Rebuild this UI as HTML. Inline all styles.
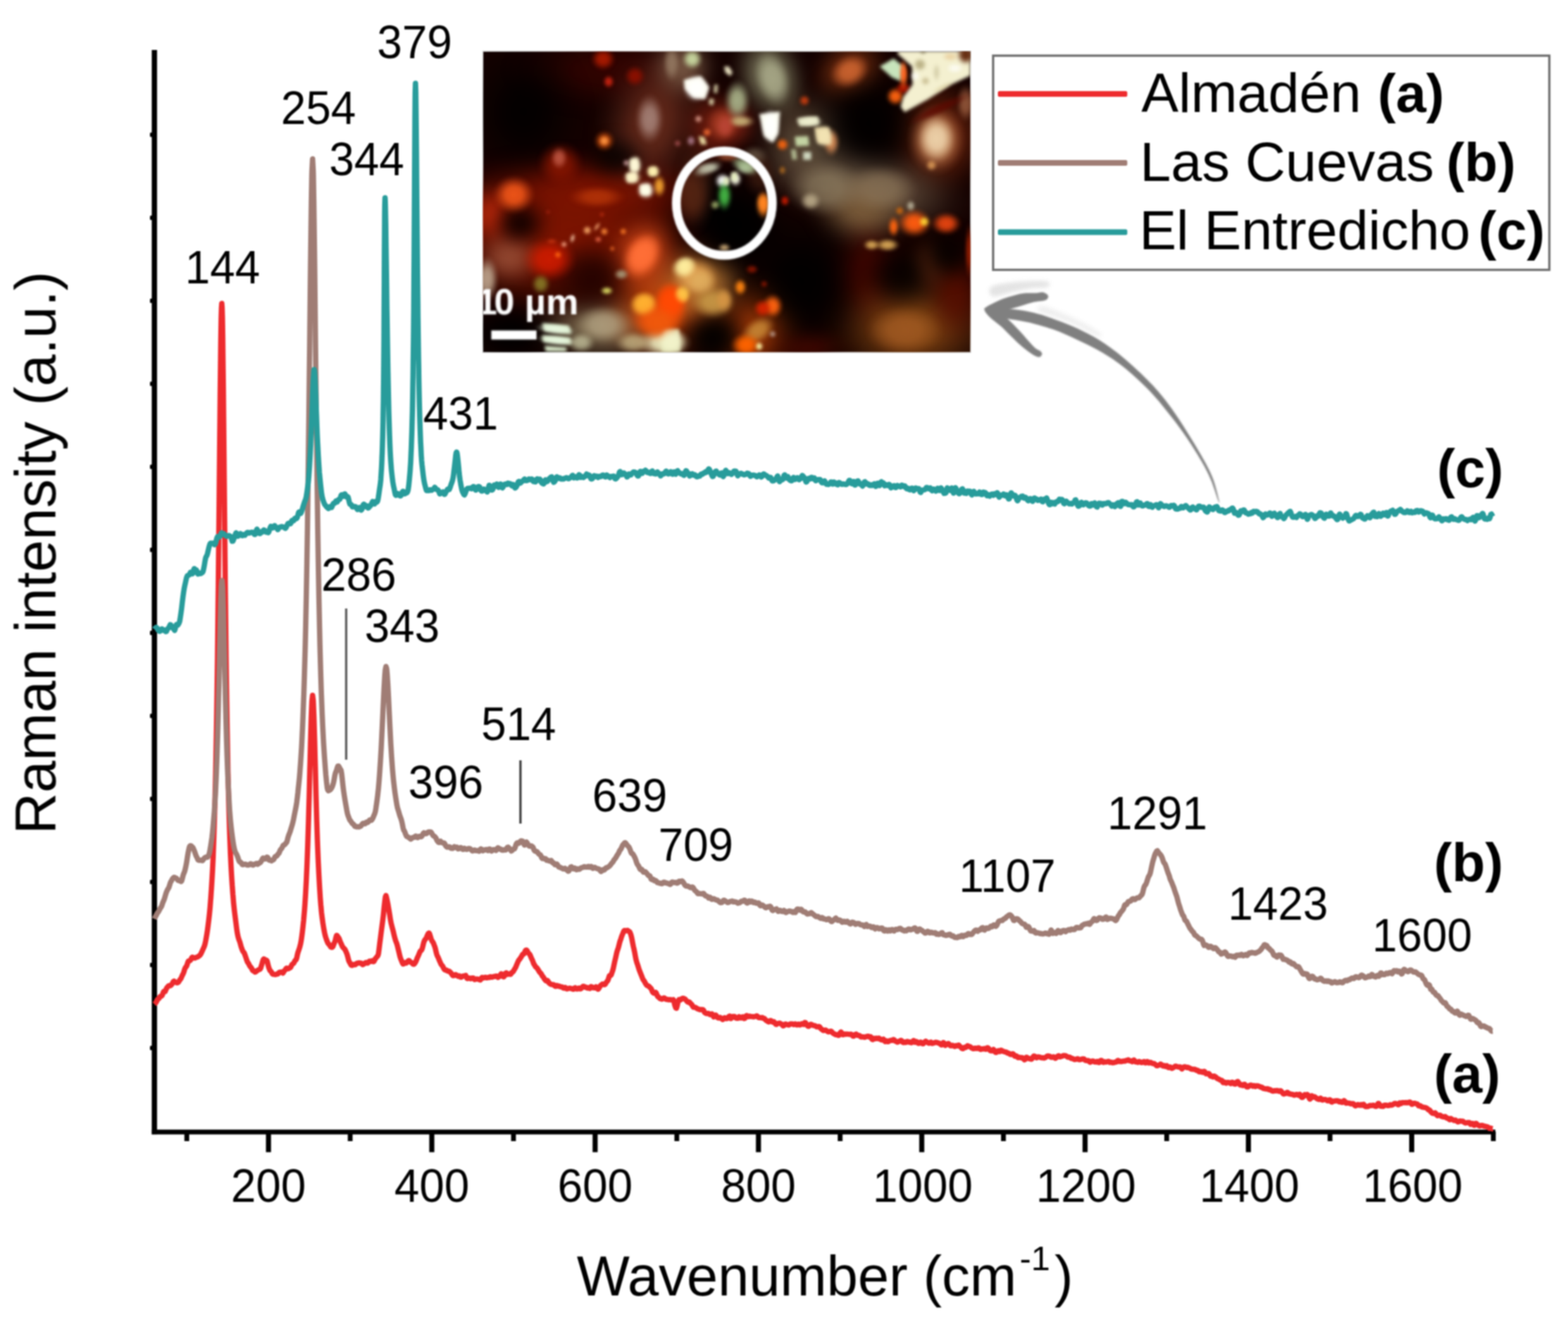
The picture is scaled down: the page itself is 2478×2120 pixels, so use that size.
<!DOCTYPE html>
<html lang="en"><head><meta charset="utf-8"><title>Raman spectra</title>
<style>
html,body{margin:0;padding:0;background:#fff;}
body{width:2478px;height:2120px;overflow:hidden;}
svg{display:block;font-family:"Liberation Sans",Arial,Helvetica,sans-serif;}
</style></head><body>
<svg width="2478" height="2120" viewBox="0 0 2478 2120">
<defs>
<filter color-interpolation-filters="sRGB" id="soft" x="-2%" y="-2%" width="104%" height="104%"><feGaussianBlur stdDeviation="1.1"/></filter>
<clipPath id="iclip"><rect x="0" y="0" width="769.2" height="474.6"/></clipPath>
<filter color-interpolation-filters="sRGB" id="ib0" x="-5%" y="-5%" width="110%" height="110%"><feGaussianBlur stdDeviation="1.3"/></filter>
<filter color-interpolation-filters="sRGB" id="ib1" x="-5%" y="-5%" width="110%" height="110%"><feGaussianBlur stdDeviation="2.4"/></filter>
<filter color-interpolation-filters="sRGB" id="ib2" x="-5%" y="-5%" width="110%" height="110%"><feGaussianBlur stdDeviation="2.3"/></filter>
<filter color-interpolation-filters="sRGB" id="ib3" x="-5%" y="-5%" width="110%" height="110%"><feGaussianBlur stdDeviation="9"/></filter>
<radialGradient id="g0"><stop offset="0" stop-color="#3c0500"/><stop offset="0.3" stop-color="#3c0500" stop-opacity="0.85"/><stop offset="0.55" stop-color="#3c0500" stop-opacity="0.45"/><stop offset="0.8" stop-color="#3c0500" stop-opacity="0.12"/><stop offset="1" stop-color="#3c0500" stop-opacity="0"/></radialGradient>
<radialGradient id="g1"><stop offset="0" stop-color="#7a1200"/><stop offset="0.3" stop-color="#7a1200" stop-opacity="0.85"/><stop offset="0.55" stop-color="#7a1200" stop-opacity="0.45"/><stop offset="0.8" stop-color="#7a1200" stop-opacity="0.12"/><stop offset="1" stop-color="#7a1200" stop-opacity="0"/></radialGradient>
<radialGradient id="g2"><stop offset="0" stop-color="#6a2c1c"/><stop offset="0.3" stop-color="#6a2c1c" stop-opacity="0.85"/><stop offset="0.55" stop-color="#6a2c1c" stop-opacity="0.45"/><stop offset="0.8" stop-color="#6a2c1c" stop-opacity="0.12"/><stop offset="1" stop-color="#6a2c1c" stop-opacity="0"/></radialGradient>
<radialGradient id="g3"><stop offset="0" stop-color="#80604a"/><stop offset="0.3" stop-color="#80604a" stop-opacity="0.85"/><stop offset="0.55" stop-color="#80604a" stop-opacity="0.45"/><stop offset="0.8" stop-color="#80604a" stop-opacity="0.12"/><stop offset="1" stop-color="#80604a" stop-opacity="0"/></radialGradient>
<radialGradient id="g4"><stop offset="0" stop-color="#7a2010"/><stop offset="0.3" stop-color="#7a2010" stop-opacity="0.85"/><stop offset="0.55" stop-color="#7a2010" stop-opacity="0.45"/><stop offset="0.8" stop-color="#7a2010" stop-opacity="0.12"/><stop offset="1" stop-color="#7a2010" stop-opacity="0"/></radialGradient>
<radialGradient id="g5"><stop offset="0" stop-color="#8c8c6c"/><stop offset="0.3" stop-color="#8c8c6c" stop-opacity="0.85"/><stop offset="0.55" stop-color="#8c8c6c" stop-opacity="0.45"/><stop offset="0.8" stop-color="#8c8c6c" stop-opacity="0.12"/><stop offset="1" stop-color="#8c8c6c" stop-opacity="0"/></radialGradient>
<radialGradient id="g6"><stop offset="0" stop-color="#8a3814"/><stop offset="0.3" stop-color="#8a3814" stop-opacity="0.85"/><stop offset="0.55" stop-color="#8a3814" stop-opacity="0.45"/><stop offset="0.8" stop-color="#8a3814" stop-opacity="0.12"/><stop offset="1" stop-color="#8a3814" stop-opacity="0"/></radialGradient>
<radialGradient id="g7"><stop offset="0" stop-color="#7a2a10"/><stop offset="0.3" stop-color="#7a2a10" stop-opacity="0.85"/><stop offset="0.55" stop-color="#7a2a10" stop-opacity="0.45"/><stop offset="0.8" stop-color="#7a2a10" stop-opacity="0.12"/><stop offset="1" stop-color="#7a2a10" stop-opacity="0"/></radialGradient>
<radialGradient id="g8"><stop offset="0" stop-color="#7a6650"/><stop offset="0.3" stop-color="#7a6650" stop-opacity="0.85"/><stop offset="0.55" stop-color="#7a6650" stop-opacity="0.45"/><stop offset="0.8" stop-color="#7a6650" stop-opacity="0.12"/><stop offset="1" stop-color="#7a6650" stop-opacity="0"/></radialGradient>
<radialGradient id="g9"><stop offset="0" stop-color="#6a5a44"/><stop offset="0.3" stop-color="#6a5a44" stop-opacity="0.85"/><stop offset="0.55" stop-color="#6a5a44" stop-opacity="0.45"/><stop offset="0.8" stop-color="#6a5a44" stop-opacity="0.12"/><stop offset="1" stop-color="#6a5a44" stop-opacity="0"/></radialGradient>
<radialGradient id="g10"><stop offset="0" stop-color="#8a2818"/><stop offset="0.3" stop-color="#8a2818" stop-opacity="0.85"/><stop offset="0.55" stop-color="#8a2818" stop-opacity="0.45"/><stop offset="0.8" stop-color="#8a2818" stop-opacity="0.12"/><stop offset="1" stop-color="#8a2818" stop-opacity="0"/></radialGradient>
<radialGradient id="g11"><stop offset="0" stop-color="#861600"/><stop offset="0.3" stop-color="#861600" stop-opacity="0.85"/><stop offset="0.55" stop-color="#861600" stop-opacity="0.45"/><stop offset="0.8" stop-color="#861600" stop-opacity="0.12"/><stop offset="1" stop-color="#861600" stop-opacity="0"/></radialGradient>
<radialGradient id="g12"><stop offset="0" stop-color="#c02a0c"/><stop offset="0.3" stop-color="#c02a0c" stop-opacity="0.85"/><stop offset="0.55" stop-color="#c02a0c" stop-opacity="0.45"/><stop offset="0.8" stop-color="#c02a0c" stop-opacity="0.12"/><stop offset="1" stop-color="#c02a0c" stop-opacity="0"/></radialGradient>
<radialGradient id="g13"><stop offset="0" stop-color="#9a5038"/><stop offset="0.3" stop-color="#9a5038" stop-opacity="0.85"/><stop offset="0.55" stop-color="#9a5038" stop-opacity="0.45"/><stop offset="0.8" stop-color="#9a5038" stop-opacity="0.12"/><stop offset="1" stop-color="#9a5038" stop-opacity="0"/></radialGradient>
<radialGradient id="g14"><stop offset="0" stop-color="#8a7858"/><stop offset="0.3" stop-color="#8a7858" stop-opacity="0.85"/><stop offset="0.55" stop-color="#8a7858" stop-opacity="0.45"/><stop offset="0.8" stop-color="#8a7858" stop-opacity="0.12"/><stop offset="1" stop-color="#8a7858" stop-opacity="0"/></radialGradient>
<radialGradient id="g15"><stop offset="0" stop-color="#d04a0c"/><stop offset="0.3" stop-color="#d04a0c" stop-opacity="0.85"/><stop offset="0.55" stop-color="#d04a0c" stop-opacity="0.45"/><stop offset="0.8" stop-color="#d04a0c" stop-opacity="0.12"/><stop offset="1" stop-color="#d04a0c" stop-opacity="0"/></radialGradient>
<radialGradient id="g16"><stop offset="0" stop-color="#c08038"/><stop offset="0.3" stop-color="#c08038" stop-opacity="0.85"/><stop offset="0.55" stop-color="#c08038" stop-opacity="0.45"/><stop offset="0.8" stop-color="#c08038" stop-opacity="0.12"/><stop offset="1" stop-color="#c08038" stop-opacity="0"/></radialGradient>
<radialGradient id="g17"><stop offset="0" stop-color="#e0501c"/><stop offset="0.3" stop-color="#e0501c" stop-opacity="0.85"/><stop offset="0.55" stop-color="#e0501c" stop-opacity="0.45"/><stop offset="0.8" stop-color="#e0501c" stop-opacity="0.12"/><stop offset="1" stop-color="#e0501c" stop-opacity="0"/></radialGradient>
<radialGradient id="g18"><stop offset="0" stop-color="#80603c"/><stop offset="0.3" stop-color="#80603c" stop-opacity="0.85"/><stop offset="0.55" stop-color="#80603c" stop-opacity="0.45"/><stop offset="0.8" stop-color="#80603c" stop-opacity="0.12"/><stop offset="1" stop-color="#80603c" stop-opacity="0"/></radialGradient>
<radialGradient id="g19"><stop offset="0" stop-color="#520800"/><stop offset="0.3" stop-color="#520800" stop-opacity="0.85"/><stop offset="0.55" stop-color="#520800" stop-opacity="0.45"/><stop offset="0.8" stop-color="#520800" stop-opacity="0.12"/><stop offset="1" stop-color="#520800" stop-opacity="0"/></radialGradient>
<radialGradient id="g20"><stop offset="0" stop-color="#8a4a14"/><stop offset="0.3" stop-color="#8a4a14" stop-opacity="0.85"/><stop offset="0.55" stop-color="#8a4a14" stop-opacity="0.45"/><stop offset="0.8" stop-color="#8a4a14" stop-opacity="0.12"/><stop offset="1" stop-color="#8a4a14" stop-opacity="0"/></radialGradient>
<radialGradient id="g21"><stop offset="0" stop-color="#5a0e00"/><stop offset="0.3" stop-color="#5a0e00" stop-opacity="0.85"/><stop offset="0.55" stop-color="#5a0e00" stop-opacity="0.45"/><stop offset="0.8" stop-color="#5a0e00" stop-opacity="0.12"/><stop offset="1" stop-color="#5a0e00" stop-opacity="0"/></radialGradient>
<radialGradient id="g22"><stop offset="0" stop-color="#6a2c10"/><stop offset="0.3" stop-color="#6a2c10" stop-opacity="0.85"/><stop offset="0.55" stop-color="#6a2c10" stop-opacity="0.45"/><stop offset="0.8" stop-color="#6a2c10" stop-opacity="0.12"/><stop offset="1" stop-color="#6a2c10" stop-opacity="0"/></radialGradient>
<radialGradient id="g23"><stop offset="0" stop-color="#c04408"/><stop offset="0.3" stop-color="#c04408" stop-opacity="0.85"/><stop offset="0.55" stop-color="#c04408" stop-opacity="0.45"/><stop offset="0.8" stop-color="#c04408" stop-opacity="0.12"/><stop offset="1" stop-color="#c04408" stop-opacity="0"/></radialGradient>
<radialGradient id="g24"><stop offset="0" stop-color="#5a0c00"/><stop offset="0.3" stop-color="#5a0c00" stop-opacity="0.85"/><stop offset="0.55" stop-color="#5a0c00" stop-opacity="0.45"/><stop offset="0.8" stop-color="#5a0c00" stop-opacity="0.12"/><stop offset="1" stop-color="#5a0c00" stop-opacity="0"/></radialGradient>
<radialGradient id="g25"><stop offset="0" stop-color="#000000"/><stop offset="0.3" stop-color="#000000" stop-opacity="0.85"/><stop offset="0.55" stop-color="#000000" stop-opacity="0.45"/><stop offset="0.8" stop-color="#000000" stop-opacity="0.12"/><stop offset="1" stop-color="#000000" stop-opacity="0"/></radialGradient>
<radialGradient id="g26"><stop offset="0" stop-color="#0c0000"/><stop offset="0.3" stop-color="#0c0000" stop-opacity="0.85"/><stop offset="0.55" stop-color="#0c0000" stop-opacity="0.45"/><stop offset="0.8" stop-color="#0c0000" stop-opacity="0.12"/><stop offset="1" stop-color="#0c0000" stop-opacity="0"/></radialGradient>
<radialGradient id="g27"><stop offset="0" stop-color="#1c0200"/><stop offset="0.3" stop-color="#1c0200" stop-opacity="0.85"/><stop offset="0.55" stop-color="#1c0200" stop-opacity="0.45"/><stop offset="0.8" stop-color="#1c0200" stop-opacity="0.12"/><stop offset="1" stop-color="#1c0200" stop-opacity="0"/></radialGradient>
<radialGradient id="h28"><stop offset="0" stop-color="#a81a00"/><stop offset="0.38" stop-color="#a81a00" stop-opacity="0.9"/><stop offset="0.62" stop-color="#a81a00" stop-opacity="0.5"/><stop offset="0.84" stop-color="#a81a00" stop-opacity="0.13"/><stop offset="1" stop-color="#a81a00" stop-opacity="0"/></radialGradient>
<radialGradient id="h29"><stop offset="0" stop-color="#8c1000"/><stop offset="0.38" stop-color="#8c1000" stop-opacity="0.9"/><stop offset="0.62" stop-color="#8c1000" stop-opacity="0.5"/><stop offset="0.84" stop-color="#8c1000" stop-opacity="0.13"/><stop offset="1" stop-color="#8c1000" stop-opacity="0"/></radialGradient>
<radialGradient id="h30"><stop offset="0" stop-color="#c82410"/><stop offset="0.38" stop-color="#c82410" stop-opacity="0.9"/><stop offset="0.62" stop-color="#c82410" stop-opacity="0.5"/><stop offset="0.84" stop-color="#c82410" stop-opacity="0.13"/><stop offset="1" stop-color="#c82410" stop-opacity="0"/></radialGradient>
<radialGradient id="h31"><stop offset="0" stop-color="#a8867c"/><stop offset="0.38" stop-color="#a8867c" stop-opacity="0.9"/><stop offset="0.62" stop-color="#a8867c" stop-opacity="0.5"/><stop offset="0.84" stop-color="#a8867c" stop-opacity="0.13"/><stop offset="1" stop-color="#a8867c" stop-opacity="0"/></radialGradient>
<radialGradient id="h32"><stop offset="0" stop-color="#8a1600"/><stop offset="0.38" stop-color="#8a1600" stop-opacity="0.9"/><stop offset="0.62" stop-color="#8a1600" stop-opacity="0.5"/><stop offset="0.84" stop-color="#8a1600" stop-opacity="0.13"/><stop offset="1" stop-color="#8a1600" stop-opacity="0"/></radialGradient>
<radialGradient id="h33"><stop offset="0" stop-color="#c05844"/><stop offset="0.38" stop-color="#c05844" stop-opacity="0.9"/><stop offset="0.62" stop-color="#c05844" stop-opacity="0.5"/><stop offset="0.84" stop-color="#c05844" stop-opacity="0.13"/><stop offset="1" stop-color="#c05844" stop-opacity="0"/></radialGradient>
<radialGradient id="h34"><stop offset="0" stop-color="#c84808"/><stop offset="0.38" stop-color="#c84808" stop-opacity="0.9"/><stop offset="0.62" stop-color="#c84808" stop-opacity="0.5"/><stop offset="0.84" stop-color="#c84808" stop-opacity="0.13"/><stop offset="1" stop-color="#c84808" stop-opacity="0"/></radialGradient>
<radialGradient id="h35"><stop offset="0" stop-color="#ff9440"/><stop offset="0.38" stop-color="#ff9440" stop-opacity="0.9"/><stop offset="0.62" stop-color="#ff9440" stop-opacity="0.5"/><stop offset="0.84" stop-color="#ff9440" stop-opacity="0.13"/><stop offset="1" stop-color="#ff9440" stop-opacity="0"/></radialGradient>
<radialGradient id="h36"><stop offset="0" stop-color="#ec5418"/><stop offset="0.38" stop-color="#ec5418" stop-opacity="0.9"/><stop offset="0.62" stop-color="#ec5418" stop-opacity="0.5"/><stop offset="0.84" stop-color="#ec5418" stop-opacity="0.13"/><stop offset="1" stop-color="#ec5418" stop-opacity="0"/></radialGradient>
<radialGradient id="h37"><stop offset="0" stop-color="#b43408"/><stop offset="0.38" stop-color="#b43408" stop-opacity="0.9"/><stop offset="0.62" stop-color="#b43408" stop-opacity="0.5"/><stop offset="0.84" stop-color="#b43408" stop-opacity="0.13"/><stop offset="1" stop-color="#b43408" stop-opacity="0"/></radialGradient>
<radialGradient id="h38"><stop offset="0" stop-color="#a83c24"/><stop offset="0.38" stop-color="#a83c24" stop-opacity="0.9"/><stop offset="0.62" stop-color="#a83c24" stop-opacity="0.5"/><stop offset="0.84" stop-color="#a83c24" stop-opacity="0.13"/><stop offset="1" stop-color="#a83c24" stop-opacity="0"/></radialGradient>
<radialGradient id="h39"><stop offset="0" stop-color="#c8d8a0"/><stop offset="0.38" stop-color="#c8d8a0" stop-opacity="0.9"/><stop offset="0.62" stop-color="#c8d8a0" stop-opacity="0.5"/><stop offset="0.84" stop-color="#c8d8a0" stop-opacity="0.13"/><stop offset="1" stop-color="#c8d8a0" stop-opacity="0"/></radialGradient>
<radialGradient id="h40"><stop offset="0" stop-color="#9a8068"/><stop offset="0.38" stop-color="#9a8068" stop-opacity="0.9"/><stop offset="0.62" stop-color="#9a8068" stop-opacity="0.5"/><stop offset="0.84" stop-color="#9a8068" stop-opacity="0.13"/><stop offset="1" stop-color="#9a8068" stop-opacity="0"/></radialGradient>
<radialGradient id="h41"><stop offset="0" stop-color="#d09080"/><stop offset="0.38" stop-color="#d09080" stop-opacity="0.9"/><stop offset="0.62" stop-color="#d09080" stop-opacity="0.5"/><stop offset="0.84" stop-color="#d09080" stop-opacity="0.13"/><stop offset="1" stop-color="#d09080" stop-opacity="0"/></radialGradient>
<radialGradient id="h42"><stop offset="0" stop-color="#e46430"/><stop offset="0.38" stop-color="#e46430" stop-opacity="0.9"/><stop offset="0.62" stop-color="#e46430" stop-opacity="0.5"/><stop offset="0.84" stop-color="#e46430" stop-opacity="0.13"/><stop offset="1" stop-color="#e46430" stop-opacity="0"/></radialGradient>
<radialGradient id="h43"><stop offset="0" stop-color="#a87888"/><stop offset="0.38" stop-color="#a87888" stop-opacity="0.9"/><stop offset="0.62" stop-color="#a87888" stop-opacity="0.5"/><stop offset="0.84" stop-color="#a87888" stop-opacity="0.13"/><stop offset="1" stop-color="#a87888" stop-opacity="0"/></radialGradient>
<radialGradient id="h44"><stop offset="0" stop-color="#984848"/><stop offset="0.38" stop-color="#984848" stop-opacity="0.9"/><stop offset="0.62" stop-color="#984848" stop-opacity="0.5"/><stop offset="0.84" stop-color="#984848" stop-opacity="0.13"/><stop offset="1" stop-color="#984848" stop-opacity="0"/></radialGradient>
<radialGradient id="h45"><stop offset="0" stop-color="#c09494"/><stop offset="0.38" stop-color="#c09494" stop-opacity="0.9"/><stop offset="0.62" stop-color="#c09494" stop-opacity="0.5"/><stop offset="0.84" stop-color="#c09494" stop-opacity="0.13"/><stop offset="1" stop-color="#c09494" stop-opacity="0"/></radialGradient>
<radialGradient id="h46"><stop offset="0" stop-color="#f0a030"/><stop offset="0.38" stop-color="#f0a030" stop-opacity="0.9"/><stop offset="0.62" stop-color="#f0a030" stop-opacity="0.5"/><stop offset="0.84" stop-color="#f0a030" stop-opacity="0.13"/><stop offset="1" stop-color="#f0a030" stop-opacity="0"/></radialGradient>
<radialGradient id="h47"><stop offset="0" stop-color="#a4ac84"/><stop offset="0.38" stop-color="#a4ac84" stop-opacity="0.9"/><stop offset="0.62" stop-color="#a4ac84" stop-opacity="0.5"/><stop offset="0.84" stop-color="#a4ac84" stop-opacity="0.13"/><stop offset="1" stop-color="#a4ac84" stop-opacity="0"/></radialGradient>
<radialGradient id="h48"><stop offset="0" stop-color="#a8a888"/><stop offset="0.38" stop-color="#a8a888" stop-opacity="0.9"/><stop offset="0.62" stop-color="#a8a888" stop-opacity="0.5"/><stop offset="0.84" stop-color="#a8a888" stop-opacity="0.13"/><stop offset="1" stop-color="#a8a888" stop-opacity="0"/></radialGradient>
<radialGradient id="h49"><stop offset="0" stop-color="#c4ac74"/><stop offset="0.38" stop-color="#c4ac74" stop-opacity="0.9"/><stop offset="0.62" stop-color="#c4ac74" stop-opacity="0.5"/><stop offset="0.84" stop-color="#c4ac74" stop-opacity="0.13"/><stop offset="1" stop-color="#c4ac74" stop-opacity="0"/></radialGradient>
<radialGradient id="h50"><stop offset="0" stop-color="#b84434"/><stop offset="0.38" stop-color="#b84434" stop-opacity="0.9"/><stop offset="0.62" stop-color="#b84434" stop-opacity="0.5"/><stop offset="0.84" stop-color="#b84434" stop-opacity="0.13"/><stop offset="1" stop-color="#b84434" stop-opacity="0"/></radialGradient>
<radialGradient id="h51"><stop offset="0" stop-color="#cc6430"/><stop offset="0.38" stop-color="#cc6430" stop-opacity="0.9"/><stop offset="0.62" stop-color="#cc6430" stop-opacity="0.5"/><stop offset="0.84" stop-color="#cc6430" stop-opacity="0.13"/><stop offset="1" stop-color="#cc6430" stop-opacity="0"/></radialGradient>
<radialGradient id="h52"><stop offset="0" stop-color="#ff6410"/><stop offset="0.38" stop-color="#ff6410" stop-opacity="0.9"/><stop offset="0.62" stop-color="#ff6410" stop-opacity="0.5"/><stop offset="0.84" stop-color="#ff6410" stop-opacity="0.13"/><stop offset="1" stop-color="#ff6410" stop-opacity="0"/></radialGradient>
<radialGradient id="h53"><stop offset="0" stop-color="#b01800"/><stop offset="0.38" stop-color="#b01800" stop-opacity="0.9"/><stop offset="0.62" stop-color="#b01800" stop-opacity="0.5"/><stop offset="0.84" stop-color="#b01800" stop-opacity="0.13"/><stop offset="1" stop-color="#b01800" stop-opacity="0"/></radialGradient>
<radialGradient id="h54"><stop offset="0" stop-color="#ff6820"/><stop offset="0.38" stop-color="#ff6820" stop-opacity="0.9"/><stop offset="0.62" stop-color="#ff6820" stop-opacity="0.5"/><stop offset="0.84" stop-color="#ff6820" stop-opacity="0.13"/><stop offset="1" stop-color="#ff6820" stop-opacity="0"/></radialGradient>
<radialGradient id="h55"><stop offset="0" stop-color="#b8784c"/><stop offset="0.38" stop-color="#b8784c" stop-opacity="0.9"/><stop offset="0.62" stop-color="#b8784c" stop-opacity="0.5"/><stop offset="0.84" stop-color="#b8784c" stop-opacity="0.13"/><stop offset="1" stop-color="#b8784c" stop-opacity="0"/></radialGradient>
<radialGradient id="h56"><stop offset="0" stop-color="#ecd0a8"/><stop offset="0.38" stop-color="#ecd0a8" stop-opacity="0.9"/><stop offset="0.62" stop-color="#ecd0a8" stop-opacity="0.5"/><stop offset="0.84" stop-color="#ecd0a8" stop-opacity="0.13"/><stop offset="1" stop-color="#ecd0a8" stop-opacity="0"/></radialGradient>
<radialGradient id="h57"><stop offset="0" stop-color="#d49454"/><stop offset="0.38" stop-color="#d49454" stop-opacity="0.9"/><stop offset="0.62" stop-color="#d49454" stop-opacity="0.5"/><stop offset="0.84" stop-color="#d49454" stop-opacity="0.13"/><stop offset="1" stop-color="#d49454" stop-opacity="0"/></radialGradient>
<radialGradient id="h58"><stop offset="0" stop-color="#a46444"/><stop offset="0.38" stop-color="#a46444" stop-opacity="0.9"/><stop offset="0.62" stop-color="#a46444" stop-opacity="0.5"/><stop offset="0.84" stop-color="#a46444" stop-opacity="0.13"/><stop offset="1" stop-color="#a46444" stop-opacity="0"/></radialGradient>
<radialGradient id="h59"><stop offset="0" stop-color="#f46410"/><stop offset="0.38" stop-color="#f46410" stop-opacity="0.9"/><stop offset="0.62" stop-color="#f46410" stop-opacity="0.5"/><stop offset="0.84" stop-color="#f46410" stop-opacity="0.13"/><stop offset="1" stop-color="#f46410" stop-opacity="0"/></radialGradient>
<radialGradient id="h60"><stop offset="0" stop-color="#c43c10"/><stop offset="0.38" stop-color="#c43c10" stop-opacity="0.9"/><stop offset="0.62" stop-color="#c43c10" stop-opacity="0.5"/><stop offset="0.84" stop-color="#c43c10" stop-opacity="0.13"/><stop offset="1" stop-color="#c43c10" stop-opacity="0"/></radialGradient>
<radialGradient id="h61"><stop offset="0" stop-color="#ff8420"/><stop offset="0.38" stop-color="#ff8420" stop-opacity="0.9"/><stop offset="0.62" stop-color="#ff8420" stop-opacity="0.5"/><stop offset="0.84" stop-color="#ff8420" stop-opacity="0.13"/><stop offset="1" stop-color="#ff8420" stop-opacity="0"/></radialGradient>
<radialGradient id="h62"><stop offset="0" stop-color="#c41a00"/><stop offset="0.38" stop-color="#c41a00" stop-opacity="0.9"/><stop offset="0.62" stop-color="#c41a00" stop-opacity="0.5"/><stop offset="0.84" stop-color="#c41a00" stop-opacity="0.13"/><stop offset="1" stop-color="#c41a00" stop-opacity="0"/></radialGradient>
<radialGradient id="h63"><stop offset="0" stop-color="#a46420"/><stop offset="0.38" stop-color="#a46420" stop-opacity="0.9"/><stop offset="0.62" stop-color="#a46420" stop-opacity="0.5"/><stop offset="0.84" stop-color="#a46420" stop-opacity="0.13"/><stop offset="1" stop-color="#a46420" stop-opacity="0"/></radialGradient>
<radialGradient id="h64"><stop offset="0" stop-color="#e4945c"/><stop offset="0.38" stop-color="#e4945c" stop-opacity="0.9"/><stop offset="0.62" stop-color="#e4945c" stop-opacity="0.5"/><stop offset="0.84" stop-color="#e4945c" stop-opacity="0.13"/><stop offset="1" stop-color="#e4945c" stop-opacity="0"/></radialGradient>
<radialGradient id="h65"><stop offset="0" stop-color="#8c7c60"/><stop offset="0.38" stop-color="#8c7c60" stop-opacity="0.9"/><stop offset="0.62" stop-color="#8c7c60" stop-opacity="0.5"/><stop offset="0.84" stop-color="#8c7c60" stop-opacity="0.13"/><stop offset="1" stop-color="#8c7c60" stop-opacity="0"/></radialGradient>
<radialGradient id="h66"><stop offset="0" stop-color="#8a7458"/><stop offset="0.38" stop-color="#8a7458" stop-opacity="0.9"/><stop offset="0.62" stop-color="#8a7458" stop-opacity="0.5"/><stop offset="0.84" stop-color="#8a7458" stop-opacity="0.13"/><stop offset="1" stop-color="#8a7458" stop-opacity="0"/></radialGradient>
<radialGradient id="h67"><stop offset="0" stop-color="#d41c00"/><stop offset="0.38" stop-color="#d41c00" stop-opacity="0.9"/><stop offset="0.62" stop-color="#d41c00" stop-opacity="0.5"/><stop offset="0.84" stop-color="#d41c00" stop-opacity="0.13"/><stop offset="1" stop-color="#d41c00" stop-opacity="0"/></radialGradient>
<radialGradient id="h68"><stop offset="0" stop-color="#f4a464"/><stop offset="0.38" stop-color="#f4a464" stop-opacity="0.9"/><stop offset="0.62" stop-color="#f4a464" stop-opacity="0.5"/><stop offset="0.84" stop-color="#f4a464" stop-opacity="0.13"/><stop offset="1" stop-color="#f4a464" stop-opacity="0"/></radialGradient>
<radialGradient id="h69"><stop offset="0" stop-color="#e49464"/><stop offset="0.38" stop-color="#e49464" stop-opacity="0.9"/><stop offset="0.62" stop-color="#e49464" stop-opacity="0.5"/><stop offset="0.84" stop-color="#e49464" stop-opacity="0.13"/><stop offset="1" stop-color="#e49464" stop-opacity="0"/></radialGradient>
<radialGradient id="h70"><stop offset="0" stop-color="#f48434"/><stop offset="0.38" stop-color="#f48434" stop-opacity="0.9"/><stop offset="0.62" stop-color="#f48434" stop-opacity="0.5"/><stop offset="0.84" stop-color="#f48434" stop-opacity="0.13"/><stop offset="1" stop-color="#f48434" stop-opacity="0"/></radialGradient>
<radialGradient id="h71"><stop offset="0" stop-color="#f47424"/><stop offset="0.38" stop-color="#f47424" stop-opacity="0.9"/><stop offset="0.62" stop-color="#f47424" stop-opacity="0.5"/><stop offset="0.84" stop-color="#f47424" stop-opacity="0.13"/><stop offset="1" stop-color="#f47424" stop-opacity="0"/></radialGradient>
<radialGradient id="h72"><stop offset="0" stop-color="#f4c4a4"/><stop offset="0.38" stop-color="#f4c4a4" stop-opacity="0.9"/><stop offset="0.62" stop-color="#f4c4a4" stop-opacity="0.5"/><stop offset="0.84" stop-color="#f4c4a4" stop-opacity="0.13"/><stop offset="1" stop-color="#f4c4a4" stop-opacity="0"/></radialGradient>
<radialGradient id="h73"><stop offset="0" stop-color="#f4a484"/><stop offset="0.38" stop-color="#f4a484" stop-opacity="0.9"/><stop offset="0.62" stop-color="#f4a484" stop-opacity="0.5"/><stop offset="0.84" stop-color="#f4a484" stop-opacity="0.13"/><stop offset="1" stop-color="#f4a484" stop-opacity="0"/></radialGradient>
<radialGradient id="h74"><stop offset="0" stop-color="#e46444"/><stop offset="0.38" stop-color="#e46444" stop-opacity="0.9"/><stop offset="0.62" stop-color="#e46444" stop-opacity="0.5"/><stop offset="0.84" stop-color="#e46444" stop-opacity="0.13"/><stop offset="1" stop-color="#e46444" stop-opacity="0"/></radialGradient>
<radialGradient id="h75"><stop offset="0" stop-color="#e46424"/><stop offset="0.38" stop-color="#e46424" stop-opacity="0.9"/><stop offset="0.62" stop-color="#e46424" stop-opacity="0.5"/><stop offset="0.84" stop-color="#e46424" stop-opacity="0.13"/><stop offset="1" stop-color="#e46424" stop-opacity="0"/></radialGradient>
<radialGradient id="h76"><stop offset="0" stop-color="#c43410"/><stop offset="0.38" stop-color="#c43410" stop-opacity="0.9"/><stop offset="0.62" stop-color="#c43410" stop-opacity="0.5"/><stop offset="0.84" stop-color="#c43410" stop-opacity="0.13"/><stop offset="1" stop-color="#c43410" stop-opacity="0"/></radialGradient>
<radialGradient id="h77"><stop offset="0" stop-color="#b42c10"/><stop offset="0.38" stop-color="#b42c10" stop-opacity="0.9"/><stop offset="0.62" stop-color="#b42c10" stop-opacity="0.5"/><stop offset="0.84" stop-color="#b42c10" stop-opacity="0.13"/><stop offset="1" stop-color="#b42c10" stop-opacity="0"/></radialGradient>
<radialGradient id="h78"><stop offset="0" stop-color="#a42410"/><stop offset="0.38" stop-color="#a42410" stop-opacity="0.9"/><stop offset="0.62" stop-color="#a42410" stop-opacity="0.5"/><stop offset="0.84" stop-color="#a42410" stop-opacity="0.13"/><stop offset="1" stop-color="#a42410" stop-opacity="0"/></radialGradient>
<radialGradient id="h79"><stop offset="0" stop-color="#ff6c34"/><stop offset="0.38" stop-color="#ff6c34" stop-opacity="0.9"/><stop offset="0.62" stop-color="#ff6c34" stop-opacity="0.5"/><stop offset="0.84" stop-color="#ff6c34" stop-opacity="0.13"/><stop offset="1" stop-color="#ff6c34" stop-opacity="0"/></radialGradient>
<radialGradient id="h80"><stop offset="0" stop-color="#847424"/><stop offset="0.38" stop-color="#847424" stop-opacity="0.9"/><stop offset="0.62" stop-color="#847424" stop-opacity="0.5"/><stop offset="0.84" stop-color="#847424" stop-opacity="0.13"/><stop offset="1" stop-color="#847424" stop-opacity="0"/></radialGradient>
<radialGradient id="h81"><stop offset="0" stop-color="#dcdc64"/><stop offset="0.38" stop-color="#dcdc64" stop-opacity="0.9"/><stop offset="0.62" stop-color="#dcdc64" stop-opacity="0.5"/><stop offset="0.84" stop-color="#dcdc64" stop-opacity="0.13"/><stop offset="1" stop-color="#dcdc64" stop-opacity="0"/></radialGradient>
<radialGradient id="h82"><stop offset="0" stop-color="#a49474"/><stop offset="0.38" stop-color="#a49474" stop-opacity="0.9"/><stop offset="0.62" stop-color="#a49474" stop-opacity="0.5"/><stop offset="0.84" stop-color="#a49474" stop-opacity="0.13"/><stop offset="1" stop-color="#a49474" stop-opacity="0"/></radialGradient>
<radialGradient id="h83"><stop offset="0" stop-color="#ffb434"/><stop offset="0.38" stop-color="#ffb434" stop-opacity="0.9"/><stop offset="0.62" stop-color="#ffb434" stop-opacity="0.5"/><stop offset="0.84" stop-color="#ffb434" stop-opacity="0.13"/><stop offset="1" stop-color="#ffb434" stop-opacity="0"/></radialGradient>
<radialGradient id="h84"><stop offset="0" stop-color="#ff4400"/><stop offset="0.38" stop-color="#ff4400" stop-opacity="0.9"/><stop offset="0.62" stop-color="#ff4400" stop-opacity="0.5"/><stop offset="0.84" stop-color="#ff4400" stop-opacity="0.13"/><stop offset="1" stop-color="#ff4400" stop-opacity="0"/></radialGradient>
<radialGradient id="h85"><stop offset="0" stop-color="#ffc444"/><stop offset="0.38" stop-color="#ffc444" stop-opacity="0.9"/><stop offset="0.62" stop-color="#ffc444" stop-opacity="0.5"/><stop offset="0.84" stop-color="#ffc444" stop-opacity="0.13"/><stop offset="1" stop-color="#ffc444" stop-opacity="0"/></radialGradient>
<radialGradient id="h86"><stop offset="0" stop-color="#fff4a4"/><stop offset="0.38" stop-color="#fff4a4" stop-opacity="0.9"/><stop offset="0.62" stop-color="#fff4a4" stop-opacity="0.5"/><stop offset="0.84" stop-color="#fff4a4" stop-opacity="0.13"/><stop offset="1" stop-color="#fff4a4" stop-opacity="0"/></radialGradient>
<radialGradient id="h87"><stop offset="0" stop-color="#e4a454"/><stop offset="0.38" stop-color="#e4a454" stop-opacity="0.9"/><stop offset="0.62" stop-color="#e4a454" stop-opacity="0.5"/><stop offset="0.84" stop-color="#e4a454" stop-opacity="0.13"/><stop offset="1" stop-color="#e4a454" stop-opacity="0"/></radialGradient>
<radialGradient id="h88"><stop offset="0" stop-color="#c49444"/><stop offset="0.38" stop-color="#c49444" stop-opacity="0.9"/><stop offset="0.62" stop-color="#c49444" stop-opacity="0.5"/><stop offset="0.84" stop-color="#c49444" stop-opacity="0.13"/><stop offset="1" stop-color="#c49444" stop-opacity="0"/></radialGradient>
<radialGradient id="h89"><stop offset="0" stop-color="#f4540c"/><stop offset="0.38" stop-color="#f4540c" stop-opacity="0.9"/><stop offset="0.62" stop-color="#f4540c" stop-opacity="0.5"/><stop offset="0.84" stop-color="#f4540c" stop-opacity="0.13"/><stop offset="1" stop-color="#f4540c" stop-opacity="0"/></radialGradient>
<radialGradient id="h90"><stop offset="0" stop-color="#c4ac94"/><stop offset="0.38" stop-color="#c4ac94" stop-opacity="0.9"/><stop offset="0.62" stop-color="#c4ac94" stop-opacity="0.5"/><stop offset="0.84" stop-color="#c4ac94" stop-opacity="0.13"/><stop offset="1" stop-color="#c4ac94" stop-opacity="0"/></radialGradient>
<radialGradient id="h91"><stop offset="0" stop-color="#b4a484"/><stop offset="0.38" stop-color="#b4a484" stop-opacity="0.9"/><stop offset="0.62" stop-color="#b4a484" stop-opacity="0.5"/><stop offset="0.84" stop-color="#b4a484" stop-opacity="0.13"/><stop offset="1" stop-color="#b4a484" stop-opacity="0"/></radialGradient>
<radialGradient id="h92"><stop offset="0" stop-color="#f0f0c4"/><stop offset="0.38" stop-color="#f0f0c4" stop-opacity="0.9"/><stop offset="0.62" stop-color="#f0f0c4" stop-opacity="0.5"/><stop offset="0.84" stop-color="#f0f0c4" stop-opacity="0.13"/><stop offset="1" stop-color="#f0f0c4" stop-opacity="0"/></radialGradient>
<radialGradient id="h93"><stop offset="0" stop-color="#c8b888"/><stop offset="0.38" stop-color="#c8b888" stop-opacity="0.9"/><stop offset="0.62" stop-color="#c8b888" stop-opacity="0.5"/><stop offset="0.84" stop-color="#c8b888" stop-opacity="0.13"/><stop offset="1" stop-color="#c8b888" stop-opacity="0"/></radialGradient>
<radialGradient id="h94"><stop offset="0" stop-color="#ff5c10"/><stop offset="0.38" stop-color="#ff5c10" stop-opacity="0.9"/><stop offset="0.62" stop-color="#ff5c10" stop-opacity="0.5"/><stop offset="0.84" stop-color="#ff5c10" stop-opacity="0.13"/><stop offset="1" stop-color="#ff5c10" stop-opacity="0"/></radialGradient>
<radialGradient id="h95"><stop offset="0" stop-color="#ffd434"/><stop offset="0.38" stop-color="#ffd434" stop-opacity="0.9"/><stop offset="0.62" stop-color="#ffd434" stop-opacity="0.5"/><stop offset="0.84" stop-color="#ffd434" stop-opacity="0.13"/><stop offset="1" stop-color="#ffd434" stop-opacity="0"/></radialGradient>
<radialGradient id="h96"><stop offset="0" stop-color="#e44410"/><stop offset="0.38" stop-color="#e44410" stop-opacity="0.9"/><stop offset="0.62" stop-color="#e44410" stop-opacity="0.5"/><stop offset="0.84" stop-color="#e44410" stop-opacity="0.13"/><stop offset="1" stop-color="#e44410" stop-opacity="0"/></radialGradient>
<radialGradient id="h97"><stop offset="0" stop-color="#c46410"/><stop offset="0.38" stop-color="#c46410" stop-opacity="0.9"/><stop offset="0.62" stop-color="#c46410" stop-opacity="0.5"/><stop offset="0.84" stop-color="#c46410" stop-opacity="0.13"/><stop offset="1" stop-color="#c46410" stop-opacity="0"/></radialGradient>
<radialGradient id="h98"><stop offset="0" stop-color="#b4ac94"/><stop offset="0.38" stop-color="#b4ac94" stop-opacity="0.9"/><stop offset="0.62" stop-color="#b4ac94" stop-opacity="0.5"/><stop offset="0.84" stop-color="#b4ac94" stop-opacity="0.13"/><stop offset="1" stop-color="#b4ac94" stop-opacity="0"/></radialGradient>
<radialGradient id="h99"><stop offset="0" stop-color="#d4a454"/><stop offset="0.38" stop-color="#d4a454" stop-opacity="0.9"/><stop offset="0.62" stop-color="#d4a454" stop-opacity="0.5"/><stop offset="0.84" stop-color="#d4a454" stop-opacity="0.13"/><stop offset="1" stop-color="#d4a454" stop-opacity="0"/></radialGradient>
<radialGradient id="h100"><stop offset="0" stop-color="#b42400"/><stop offset="0.38" stop-color="#b42400" stop-opacity="0.9"/><stop offset="0.62" stop-color="#b42400" stop-opacity="0.5"/><stop offset="0.84" stop-color="#b42400" stop-opacity="0.13"/><stop offset="1" stop-color="#b42400" stop-opacity="0"/></radialGradient>
<radialGradient id="h101"><stop offset="0" stop-color="#d42400"/><stop offset="0.38" stop-color="#d42400" stop-opacity="0.9"/><stop offset="0.62" stop-color="#d42400" stop-opacity="0.5"/><stop offset="0.84" stop-color="#d42400" stop-opacity="0.13"/><stop offset="1" stop-color="#d42400" stop-opacity="0"/></radialGradient>
<radialGradient id="h102"><stop offset="0" stop-color="#c48434"/><stop offset="0.38" stop-color="#c48434" stop-opacity="0.9"/><stop offset="0.62" stop-color="#c48434" stop-opacity="0.5"/><stop offset="0.84" stop-color="#c48434" stop-opacity="0.13"/><stop offset="1" stop-color="#c48434" stop-opacity="0"/></radialGradient>
<radialGradient id="h103"><stop offset="0" stop-color="#ff6400"/><stop offset="0.38" stop-color="#ff6400" stop-opacity="0.9"/><stop offset="0.62" stop-color="#ff6400" stop-opacity="0.5"/><stop offset="0.84" stop-color="#ff6400" stop-opacity="0.13"/><stop offset="1" stop-color="#ff6400" stop-opacity="0"/></radialGradient>
<radialGradient id="h104"><stop offset="0" stop-color="#b49484"/><stop offset="0.38" stop-color="#b49484" stop-opacity="0.9"/><stop offset="0.62" stop-color="#b49484" stop-opacity="0.5"/><stop offset="0.84" stop-color="#b49484" stop-opacity="0.13"/><stop offset="1" stop-color="#b49484" stop-opacity="0"/></radialGradient>
<radialGradient id="h105"><stop offset="0" stop-color="#ff8410"/><stop offset="0.38" stop-color="#ff8410" stop-opacity="0.9"/><stop offset="0.62" stop-color="#ff8410" stop-opacity="0.5"/><stop offset="0.84" stop-color="#ff8410" stop-opacity="0.13"/><stop offset="1" stop-color="#ff8410" stop-opacity="0"/></radialGradient>
<radialGradient id="h106"><stop offset="0" stop-color="#d49444"/><stop offset="0.38" stop-color="#d49444" stop-opacity="0.9"/><stop offset="0.62" stop-color="#d49444" stop-opacity="0.5"/><stop offset="0.84" stop-color="#d49444" stop-opacity="0.13"/><stop offset="1" stop-color="#d49444" stop-opacity="0"/></radialGradient>
<radialGradient id="h107"><stop offset="0" stop-color="#841400"/><stop offset="0.38" stop-color="#841400" stop-opacity="0.9"/><stop offset="0.62" stop-color="#841400" stop-opacity="0.5"/><stop offset="0.84" stop-color="#841400" stop-opacity="0.13"/><stop offset="1" stop-color="#841400" stop-opacity="0"/></radialGradient>
<radialGradient id="h108"><stop offset="0" stop-color="#a45c24"/><stop offset="0.38" stop-color="#a45c24" stop-opacity="0.9"/><stop offset="0.62" stop-color="#a45c24" stop-opacity="0.5"/><stop offset="0.84" stop-color="#a45c24" stop-opacity="0.13"/><stop offset="1" stop-color="#a45c24" stop-opacity="0"/></radialGradient>
<radialGradient id="h109"><stop offset="0" stop-color="#ffffff"/><stop offset="0.38" stop-color="#ffffff" stop-opacity="0.9"/><stop offset="0.62" stop-color="#ffffff" stop-opacity="0.5"/><stop offset="0.84" stop-color="#ffffff" stop-opacity="0.13"/><stop offset="1" stop-color="#ffffff" stop-opacity="0"/></radialGradient>
<radialGradient id="h110"><stop offset="0" stop-color="#f4f4e4"/><stop offset="0.38" stop-color="#f4f4e4" stop-opacity="0.9"/><stop offset="0.62" stop-color="#f4f4e4" stop-opacity="0.5"/><stop offset="0.84" stop-color="#f4f4e4" stop-opacity="0.13"/><stop offset="1" stop-color="#f4f4e4" stop-opacity="0"/></radialGradient>
<radialGradient id="h111"><stop offset="0" stop-color="#a4a494"/><stop offset="0.38" stop-color="#a4a494" stop-opacity="0.9"/><stop offset="0.62" stop-color="#a4a494" stop-opacity="0.5"/><stop offset="0.84" stop-color="#a4a494" stop-opacity="0.13"/><stop offset="1" stop-color="#a4a494" stop-opacity="0"/></radialGradient>
<radialGradient id="h112"><stop offset="0" stop-color="#c4c4b4"/><stop offset="0.38" stop-color="#c4c4b4" stop-opacity="0.9"/><stop offset="0.62" stop-color="#c4c4b4" stop-opacity="0.5"/><stop offset="0.84" stop-color="#c4c4b4" stop-opacity="0.13"/><stop offset="1" stop-color="#c4c4b4" stop-opacity="0"/></radialGradient>
<radialGradient id="h113"><stop offset="0" stop-color="#44b444"/><stop offset="0.38" stop-color="#44b444" stop-opacity="0.9"/><stop offset="0.62" stop-color="#44b444" stop-opacity="0.5"/><stop offset="0.84" stop-color="#44b444" stop-opacity="0.13"/><stop offset="1" stop-color="#44b444" stop-opacity="0"/></radialGradient>
<radialGradient id="h114"><stop offset="0" stop-color="#94a464"/><stop offset="0.38" stop-color="#94a464" stop-opacity="0.9"/><stop offset="0.62" stop-color="#94a464" stop-opacity="0.5"/><stop offset="0.84" stop-color="#94a464" stop-opacity="0.13"/><stop offset="1" stop-color="#94a464" stop-opacity="0"/></radialGradient>
<radialGradient id="h115"><stop offset="0" stop-color="#54200c"/><stop offset="0.38" stop-color="#54200c" stop-opacity="0.9"/><stop offset="0.62" stop-color="#54200c" stop-opacity="0.5"/><stop offset="0.84" stop-color="#54200c" stop-opacity="0.13"/><stop offset="1" stop-color="#54200c" stop-opacity="0"/></radialGradient>
<radialGradient id="h116"><stop offset="0" stop-color="#c4a474"/><stop offset="0.38" stop-color="#c4a474" stop-opacity="0.9"/><stop offset="0.62" stop-color="#c4a474" stop-opacity="0.5"/><stop offset="0.84" stop-color="#c4a474" stop-opacity="0.13"/><stop offset="1" stop-color="#c4a474" stop-opacity="0"/></radialGradient>
<radialGradient id="h117"><stop offset="0" stop-color="#6a5a48"/><stop offset="0.38" stop-color="#6a5a48" stop-opacity="0.9"/><stop offset="0.62" stop-color="#6a5a48" stop-opacity="0.5"/><stop offset="0.84" stop-color="#6a5a48" stop-opacity="0.13"/><stop offset="1" stop-color="#6a5a48" stop-opacity="0"/></radialGradient>
<radialGradient id="h118"><stop offset="0" stop-color="#5a2a18"/><stop offset="0.38" stop-color="#5a2a18" stop-opacity="0.9"/><stop offset="0.62" stop-color="#5a2a18" stop-opacity="0.5"/><stop offset="0.84" stop-color="#5a2a18" stop-opacity="0.13"/><stop offset="1" stop-color="#5a2a18" stop-opacity="0"/></radialGradient>
<radialGradient id="h119"><stop offset="0" stop-color="#4c2414"/><stop offset="0.38" stop-color="#4c2414" stop-opacity="0.9"/><stop offset="0.62" stop-color="#4c2414" stop-opacity="0.5"/><stop offset="0.84" stop-color="#4c2414" stop-opacity="0.13"/><stop offset="1" stop-color="#4c2414" stop-opacity="0"/></radialGradient>
<radialGradient id="h120"><stop offset="0" stop-color="#c0c0a8"/><stop offset="0.38" stop-color="#c0c0a8" stop-opacity="0.9"/><stop offset="0.62" stop-color="#c0c0a8" stop-opacity="0.5"/><stop offset="0.84" stop-color="#c0c0a8" stop-opacity="0.13"/><stop offset="1" stop-color="#c0c0a8" stop-opacity="0"/></radialGradient>
<radialGradient id="h121"><stop offset="0" stop-color="#a8c090"/><stop offset="0.38" stop-color="#a8c090" stop-opacity="0.9"/><stop offset="0.62" stop-color="#a8c090" stop-opacity="0.5"/><stop offset="0.84" stop-color="#a8c090" stop-opacity="0.13"/><stop offset="1" stop-color="#a8c090" stop-opacity="0"/></radialGradient>
<radialGradient id="h122"><stop offset="0" stop-color="#a05030"/><stop offset="0.38" stop-color="#a05030" stop-opacity="0.9"/><stop offset="0.62" stop-color="#a05030" stop-opacity="0.5"/><stop offset="0.84" stop-color="#a05030" stop-opacity="0.13"/><stop offset="1" stop-color="#a05030" stop-opacity="0"/></radialGradient>
<radialGradient id="h123"><stop offset="0" stop-color="#a09464"/><stop offset="0.38" stop-color="#a09464" stop-opacity="0.9"/><stop offset="0.62" stop-color="#a09464" stop-opacity="0.5"/><stop offset="0.84" stop-color="#a09464" stop-opacity="0.13"/><stop offset="1" stop-color="#a09464" stop-opacity="0"/></radialGradient>
<radialGradient id="h124"><stop offset="0" stop-color="#b4a474"/><stop offset="0.38" stop-color="#b4a474" stop-opacity="0.9"/><stop offset="0.62" stop-color="#b4a474" stop-opacity="0.5"/><stop offset="0.84" stop-color="#b4a474" stop-opacity="0.13"/><stop offset="1" stop-color="#b4a474" stop-opacity="0"/></radialGradient>
<radialGradient id="h125"><stop offset="0" stop-color="#c4bc94"/><stop offset="0.38" stop-color="#c4bc94" stop-opacity="0.9"/><stop offset="0.62" stop-color="#c4bc94" stop-opacity="0.5"/><stop offset="0.84" stop-color="#c4bc94" stop-opacity="0.13"/><stop offset="1" stop-color="#c4bc94" stop-opacity="0"/></radialGradient>
<radialGradient id="h126"><stop offset="0" stop-color="#8c8464"/><stop offset="0.38" stop-color="#8c8464" stop-opacity="0.9"/><stop offset="0.62" stop-color="#8c8464" stop-opacity="0.5"/><stop offset="0.84" stop-color="#8c8464" stop-opacity="0.13"/><stop offset="1" stop-color="#8c8464" stop-opacity="0"/></radialGradient>
<radialGradient id="h127"><stop offset="0" stop-color="#5a1c00"/><stop offset="0.38" stop-color="#5a1c00" stop-opacity="0.9"/><stop offset="0.62" stop-color="#5a1c00" stop-opacity="0.5"/><stop offset="0.84" stop-color="#5a1c00" stop-opacity="0.13"/><stop offset="1" stop-color="#5a1c00" stop-opacity="0"/></radialGradient>
<radialGradient id="h128"><stop offset="0" stop-color="#e4c088"/><stop offset="0.38" stop-color="#e4c088" stop-opacity="0.9"/><stop offset="0.62" stop-color="#e4c088" stop-opacity="0.5"/><stop offset="0.84" stop-color="#e4c088" stop-opacity="0.13"/><stop offset="1" stop-color="#e4c088" stop-opacity="0"/></radialGradient>
<radialGradient id="h129"><stop offset="0" stop-color="#d8c890"/><stop offset="0.38" stop-color="#d8c890" stop-opacity="0.9"/><stop offset="0.62" stop-color="#d8c890" stop-opacity="0.5"/><stop offset="0.84" stop-color="#d8c890" stop-opacity="0.13"/><stop offset="1" stop-color="#d8c890" stop-opacity="0"/></radialGradient>
<radialGradient id="h130"><stop offset="0" stop-color="#ff6424"/><stop offset="0.38" stop-color="#ff6424" stop-opacity="0.9"/><stop offset="0.62" stop-color="#ff6424" stop-opacity="0.5"/><stop offset="0.84" stop-color="#ff6424" stop-opacity="0.13"/><stop offset="1" stop-color="#ff6424" stop-opacity="0"/></radialGradient>
<radialGradient id="h131"><stop offset="0" stop-color="#5c0800"/><stop offset="0.38" stop-color="#5c0800" stop-opacity="0.9"/><stop offset="0.62" stop-color="#5c0800" stop-opacity="0.5"/><stop offset="0.84" stop-color="#5c0800" stop-opacity="0.13"/><stop offset="1" stop-color="#5c0800" stop-opacity="0"/></radialGradient>
<radialGradient id="h132"><stop offset="0" stop-color="#fff8d8"/><stop offset="0.38" stop-color="#fff8d8" stop-opacity="0.9"/><stop offset="0.62" stop-color="#fff8d8" stop-opacity="0.5"/><stop offset="0.84" stop-color="#fff8d8" stop-opacity="0.13"/><stop offset="1" stop-color="#fff8d8" stop-opacity="0"/></radialGradient>
<radialGradient id="h133"><stop offset="0" stop-color="#fff4c8"/><stop offset="0.38" stop-color="#fff4c8" stop-opacity="0.9"/><stop offset="0.62" stop-color="#fff4c8" stop-opacity="0.5"/><stop offset="0.84" stop-color="#fff4c8" stop-opacity="0.13"/><stop offset="1" stop-color="#fff4c8" stop-opacity="0"/></radialGradient>
<radialGradient id="h134"><stop offset="0" stop-color="#fff0b0"/><stop offset="0.38" stop-color="#fff0b0" stop-opacity="0.9"/><stop offset="0.62" stop-color="#fff0b0" stop-opacity="0.5"/><stop offset="0.84" stop-color="#fff0b0" stop-opacity="0.13"/><stop offset="1" stop-color="#fff0b0" stop-opacity="0"/></radialGradient>
<radialGradient id="h135"><stop offset="0" stop-color="#ffffe8"/><stop offset="0.38" stop-color="#ffffe8" stop-opacity="0.9"/><stop offset="0.62" stop-color="#ffffe8" stop-opacity="0.5"/><stop offset="0.84" stop-color="#ffffe8" stop-opacity="0.13"/><stop offset="1" stop-color="#ffffe8" stop-opacity="0"/></radialGradient>
<radialGradient id="h136"><stop offset="0" stop-color="#f0f0d0"/><stop offset="0.38" stop-color="#f0f0d0" stop-opacity="0.9"/><stop offset="0.62" stop-color="#f0f0d0" stop-opacity="0.5"/><stop offset="0.84" stop-color="#f0f0d0" stop-opacity="0.13"/><stop offset="1" stop-color="#f0f0d0" stop-opacity="0"/></radialGradient>
<radialGradient id="h137"><stop offset="0" stop-color="#f4e4b4"/><stop offset="0.38" stop-color="#f4e4b4" stop-opacity="0.9"/><stop offset="0.62" stop-color="#f4e4b4" stop-opacity="0.5"/><stop offset="0.84" stop-color="#f4e4b4" stop-opacity="0.13"/><stop offset="1" stop-color="#f4e4b4" stop-opacity="0"/></radialGradient>
<radialGradient id="h138"><stop offset="0" stop-color="#ffb030"/><stop offset="0.38" stop-color="#ffb030" stop-opacity="0.9"/><stop offset="0.62" stop-color="#ffb030" stop-opacity="0.5"/><stop offset="0.84" stop-color="#ffb030" stop-opacity="0.13"/><stop offset="1" stop-color="#ffb030" stop-opacity="0"/></radialGradient>
<radialGradient id="h139"><stop offset="0" stop-color="#ff4a04"/><stop offset="0.38" stop-color="#ff4a04" stop-opacity="0.9"/><stop offset="0.62" stop-color="#ff4a04" stop-opacity="0.5"/><stop offset="0.84" stop-color="#ff4a04" stop-opacity="0.13"/><stop offset="1" stop-color="#ff4a04" stop-opacity="0"/></radialGradient>
<radialGradient id="h140"><stop offset="0" stop-color="#f05a0c"/><stop offset="0.38" stop-color="#f05a0c" stop-opacity="0.9"/><stop offset="0.62" stop-color="#f05a0c" stop-opacity="0.5"/><stop offset="0.84" stop-color="#f05a0c" stop-opacity="0.13"/><stop offset="1" stop-color="#f05a0c" stop-opacity="0"/></radialGradient>
<radialGradient id="h141"><stop offset="0" stop-color="#fff0a0"/><stop offset="0.38" stop-color="#fff0a0" stop-opacity="0.9"/><stop offset="0.62" stop-color="#fff0a0" stop-opacity="0.5"/><stop offset="0.84" stop-color="#fff0a0" stop-opacity="0.13"/><stop offset="1" stop-color="#fff0a0" stop-opacity="0"/></radialGradient>
<radialGradient id="h142"><stop offset="0" stop-color="#ffc848"/><stop offset="0.38" stop-color="#ffc848" stop-opacity="0.9"/><stop offset="0.62" stop-color="#ffc848" stop-opacity="0.5"/><stop offset="0.84" stop-color="#ffc848" stop-opacity="0.13"/><stop offset="1" stop-color="#ffc848" stop-opacity="0"/></radialGradient>
<radialGradient id="h143"><stop offset="0" stop-color="#e0b060"/><stop offset="0.38" stop-color="#e0b060" stop-opacity="0.9"/><stop offset="0.62" stop-color="#e0b060" stop-opacity="0.5"/><stop offset="0.84" stop-color="#e0b060" stop-opacity="0.13"/><stop offset="1" stop-color="#e0b060" stop-opacity="0"/></radialGradient>
<radialGradient id="h144"><stop offset="0" stop-color="#ff7038"/><stop offset="0.38" stop-color="#ff7038" stop-opacity="0.9"/><stop offset="0.62" stop-color="#ff7038" stop-opacity="0.5"/><stop offset="0.84" stop-color="#ff7038" stop-opacity="0.13"/><stop offset="1" stop-color="#ff7038" stop-opacity="0"/></radialGradient>
<radialGradient id="h145"><stop offset="0" stop-color="#e8f8e0"/><stop offset="0.38" stop-color="#e8f8e0" stop-opacity="0.9"/><stop offset="0.62" stop-color="#e8f8e0" stop-opacity="0.5"/><stop offset="0.84" stop-color="#e8f8e0" stop-opacity="0.13"/><stop offset="1" stop-color="#e8f8e0" stop-opacity="0"/></radialGradient>
<radialGradient id="h146"><stop offset="0" stop-color="#d8d8b0"/><stop offset="0.38" stop-color="#d8d8b0" stop-opacity="0.9"/><stop offset="0.62" stop-color="#d8d8b0" stop-opacity="0.5"/><stop offset="0.84" stop-color="#d8d8b0" stop-opacity="0.13"/><stop offset="1" stop-color="#d8d8b0" stop-opacity="0"/></radialGradient>
<radialGradient id="h147"><stop offset="0" stop-color="#f4f4cc"/><stop offset="0.38" stop-color="#f4f4cc" stop-opacity="0.9"/><stop offset="0.62" stop-color="#f4f4cc" stop-opacity="0.5"/><stop offset="0.84" stop-color="#f4f4cc" stop-opacity="0.13"/><stop offset="1" stop-color="#f4f4cc" stop-opacity="0"/></radialGradient><filter color-interpolation-filters="sRGB" id="ab1" x="-5%" y="-5%" width="110%" height="110%"><feGaussianBlur stdDeviation="1.0"/></filter>
<filter color-interpolation-filters="sRGB" id="ab2" x="-10%" y="-30%" width="120%" height="160%"><feGaussianBlur stdDeviation="3"/></filter>
</defs>
<rect width="2478" height="2120" fill="#ffffff"/>
<g filter="url(#soft)">
<g transform="translate(763.9,81.8)">
<rect x="-1.5" y="-1.5" width="772.2" height="477.6" fill="#c8c8c8"/>
<g clip-path="url(#iclip)">
<rect x="0" y="0" width="769.2" height="474.6" fill="#140200"/>
<g filter="url(#ib3)">
<ellipse cx="198.8" cy="29.0" rx="165.1" ry="69.7" fill="url(#g0)" opacity="0.75"/>
<ellipse cx="169.9" cy="222.0" rx="238.4" ry="69.7" fill="url(#g1)" opacity="0.95"/>
<ellipse cx="266.4" cy="113.9" rx="95.4" ry="146.7" fill="url(#g2)" opacity="0.95" transform="rotate(15 266.4 113.9)"/>
<ellipse cx="314.7" cy="23.2" rx="60.5" ry="60.5" fill="url(#g3)" opacity="0.9"/>
<ellipse cx="362.9" cy="119.7" rx="55.0" ry="73.4" fill="url(#g4)" opacity="0.9"/>
<ellipse cx="453.3" cy="38.6" rx="60.5" ry="82.5" fill="url(#g5)" opacity="0.95" transform="rotate(-20 453.3 38.6)"/>
<ellipse cx="578.8" cy="30.9" rx="69.7" ry="55.0" fill="url(#g6)" opacity="0.95" transform="rotate(-30 578.8 30.9)"/>
<ellipse cx="719.7" cy="133.2" rx="88.0" ry="102.7" fill="url(#g7)" opacity="0.95"/>
<ellipse cx="598.1" cy="210.4" rx="183.4" ry="77.0" fill="url(#g8)" opacity="0.95" transform="rotate(12 598.1 210.4)"/>
<ellipse cx="511.2" cy="140.9" rx="95.4" ry="95.4" fill="url(#g9)" opacity="0.8"/>
<ellipse cx="395.4" cy="113.9" rx="44.0" ry="47.7" fill="url(#g10)" opacity="0.9"/>
<ellipse cx="131.3" cy="295.8" rx="275.1" ry="146.7" fill="url(#g11)" opacity="0.95"/>
<ellipse cx="11.6" cy="257.2" rx="47.7" ry="55.0" fill="url(#g12)" opacity="0.9"/>
<ellipse cx="40.5" cy="324.7" rx="60.5" ry="51.4" fill="url(#g13)" opacity="0.9"/>
<ellipse cx="189.2" cy="436.7" rx="128.4" ry="60.5" fill="url(#g14)" opacity="0.95"/>
<ellipse cx="285.7" cy="401.9" rx="113.7" ry="102.7" fill="url(#g15)" opacity="0.95"/>
<ellipse cx="343.6" cy="367.2" rx="88.0" ry="77.0" fill="url(#g16)" opacity="0.9"/>
<ellipse cx="251.0" cy="320.9" rx="60.5" ry="77.0" fill="url(#g17)" opacity="0.95" transform="rotate(30 251.0 320.9)"/>
<ellipse cx="598.1" cy="253.3" rx="88.0" ry="69.7" fill="url(#g18)" opacity="0.9"/>
<ellipse cx="607.8" cy="353.7" rx="73.4" ry="95.4" fill="url(#g19)" opacity="0.9"/>
<ellipse cx="677.3" cy="436.7" rx="150.4" ry="95.4" fill="url(#g20)" opacity="0.95"/>
<ellipse cx="746.8" cy="382.6" rx="55.0" ry="91.7" fill="url(#g21)" opacity="0.9"/>
<ellipse cx="704.3" cy="340.2" rx="40.3" ry="51.4" fill="url(#g22)" opacity="0.8"/>
<ellipse cx="434.0" cy="436.7" rx="77.0" ry="95.4" fill="url(#g23)" opacity="0.9" transform="rotate(25 434.0 436.7)"/>
<ellipse cx="511.2" cy="465.7" rx="73.4" ry="36.7" fill="url(#g24)" opacity="0.8"/>
</g>
<g filter="url(#ib3)">
<ellipse cx="63.7" cy="94.6" rx="104.2" ry="121.6" fill="url(#g25)" opacity="0.85"/>
<ellipse cx="208.5" cy="168.0" rx="60.8" ry="43.4" fill="url(#g25)" opacity="0.8"/>
<ellipse cx="607.8" cy="113.9" rx="111.2" ry="111.2" fill="url(#g25)" opacity="0.9"/>
<ellipse cx="57.9" cy="270.7" rx="52.1" ry="45.2" fill="url(#g26)" opacity="0.95"/>
<ellipse cx="169.9" cy="353.7" rx="79.9" ry="69.5" fill="url(#g27)" opacity="0.85"/>
<ellipse cx="44.4" cy="444.4" rx="90.3" ry="62.5" fill="url(#g25)" opacity="0.95"/>
<ellipse cx="362.9" cy="450.2" rx="69.5" ry="52.1" fill="url(#g25)" opacity="0.95"/>
<ellipse cx="501.6" cy="363.3" rx="121.6" ry="139.0" fill="url(#g25)" opacity="0.95"/>
<ellipse cx="656.0" cy="353.7" rx="73.0" ry="62.5" fill="url(#g25)" opacity="0.8"/>
<ellipse cx="733.2" cy="320.9" rx="52.1" ry="52.1" fill="url(#g25)" opacity="0.8"/>
<ellipse cx="405.1" cy="286.1" rx="90.3" ry="79.9" fill="url(#g25)" opacity="0.9"/>
<ellipse cx="380.8" cy="259.7" rx="105.6" ry="87.1" fill="url(#g25)" opacity="0.95"/>
<ellipse cx="357.3" cy="212.8" rx="39.6" ry="39.6" fill="url(#g25)" opacity="0.9"/>
</g>
<g filter="url(#ib2)">
<ellipse cx="189.2" cy="11.6" rx="20.9" ry="19.3" fill="url(#h28)"/>
<ellipse cx="239.4" cy="38.6" rx="17.7" ry="17.7" fill="url(#h29)"/>
<ellipse cx="197.9" cy="47.3" rx="9.6" ry="11.2" fill="url(#h30)"/>
<ellipse cx="262.5" cy="106.2" rx="24.1" ry="41.7" fill="url(#h31)" opacity="0.9"/>
<ellipse cx="121.6" cy="177.6" rx="38.5" ry="38.5" fill="url(#h32)" opacity="0.85"/>
<ellipse cx="119.7" cy="168.0" rx="14.4" ry="19.3" fill="url(#h33)" opacity="0.9"/>
<ellipse cx="191.1" cy="140.9" rx="17.7" ry="17.7" fill="url(#h34)" opacity="0.9"/>
<ellipse cx="191.1" cy="140.9" rx="9.6" ry="9.6" fill="url(#h35)"/>
<ellipse cx="48.3" cy="225.9" rx="35.3" ry="32.1" fill="url(#h36)"/>
<ellipse cx="179.5" cy="229.7" rx="48.1" ry="19.3" fill="url(#h37)" opacity="0.9"/>
<ellipse cx="378.4" cy="113.9" rx="28.9" ry="32.1" fill="url(#h38)" opacity="0.9"/>
<ellipse cx="330.1" cy="11.6" rx="17.7" ry="17.7" fill="url(#h39)"/>
<ellipse cx="297.3" cy="17.4" rx="14.4" ry="32.1" fill="url(#h40)" opacity="0.8"/>
<ellipse cx="339.8" cy="106.2" rx="7.2" ry="7.2" fill="url(#h41)"/>
<ellipse cx="353.3" cy="127.4" rx="8.0" ry="8.0" fill="url(#h42)"/>
<ellipse cx="328.2" cy="140.9" rx="8.0" ry="9.6" fill="url(#h43)"/>
<ellipse cx="306.9" cy="144.8" rx="6.4" ry="6.4" fill="url(#h44)"/>
<ellipse cx="225.9" cy="175.7" rx="6.4" ry="6.4" fill="url(#h45)"/>
<ellipse cx="278.0" cy="212.4" rx="11.2" ry="19.3" fill="url(#h46)"/>
<ellipse cx="401.2" cy="77.2" rx="22.5" ry="35.3" fill="url(#h47)"/>
<ellipse cx="457.2" cy="42.5" rx="28.9" ry="48.1" fill="url(#h48)" opacity="0.9" transform="rotate(-15 457.2 42.5)"/>
<ellipse cx="407.0" cy="110.0" rx="24.1" ry="11.2" fill="url(#h49)"/>
<ellipse cx="381.9" cy="117.8" rx="16.0" ry="20.9" fill="url(#h50)"/>
<ellipse cx="578.8" cy="30.9" rx="35.3" ry="27.3" fill="url(#h51)" opacity="0.95" transform="rotate(-30 578.8 30.9)"/>
<ellipse cx="651.2" cy="70.5" rx="16.0" ry="16.0" fill="url(#h52)"/>
<ellipse cx="663.7" cy="57.9" rx="14.4" ry="11.2" fill="url(#h53)"/>
<ellipse cx="663.7" cy="36.7" rx="8.8" ry="24.1" fill="url(#h54)"/>
<ellipse cx="715.9" cy="139.0" rx="48.1" ry="57.8" fill="url(#h55)" opacity="0.95"/>
<ellipse cx="715.9" cy="137.1" rx="32.1" ry="40.1" fill="url(#h56)"/>
<ellipse cx="708.1" cy="179.5" rx="9.6" ry="9.6" fill="url(#h57)"/>
<ellipse cx="762.2" cy="81.1" rx="16.0" ry="32.1" fill="url(#h58)" opacity="0.8"/>
<ellipse cx="472.6" cy="146.7" rx="11.2" ry="11.2" fill="url(#h59)"/>
<ellipse cx="507.4" cy="77.2" rx="9.6" ry="9.6" fill="url(#h60)"/>
<ellipse cx="441.7" cy="237.4" rx="11.2" ry="17.7" fill="url(#h61)"/>
<ellipse cx="476.5" cy="235.5" rx="8.0" ry="9.6" fill="url(#h62)"/>
<ellipse cx="472.6" cy="187.3" rx="6.4" ry="8.0" fill="url(#h63)"/>
<ellipse cx="549.8" cy="142.8" rx="14.4" ry="24.1" fill="url(#h64)" opacity="0.9"/>
<ellipse cx="540.2" cy="216.2" rx="64.2" ry="48.1" fill="url(#h65)" opacity="0.7"/>
<ellipse cx="627.1" cy="216.2" rx="64.2" ry="40.1" fill="url(#h66)" opacity="0.7"/>
<ellipse cx="104.2" cy="328.6" rx="44.9" ry="36.9" fill="url(#h67)" opacity="0.9"/>
<ellipse cx="164.1" cy="282.3" rx="8.0" ry="8.0" fill="url(#h68)"/>
<ellipse cx="179.5" cy="276.5" rx="4.0" ry="9.6" fill="url(#h69)" transform="rotate(35 179.5 276.5)"/>
<ellipse cx="191.1" cy="284.2" rx="7.2" ry="7.2" fill="url(#h70)"/>
<ellipse cx="221.0" cy="284.2" rx="6.4" ry="6.4" fill="url(#h71)"/>
<ellipse cx="140.9" cy="294.8" rx="4.0" ry="8.8" fill="url(#h72)" transform="rotate(15 140.9 294.8)"/>
<ellipse cx="127.4" cy="304.5" rx="5.6" ry="5.6" fill="url(#h73)"/>
<ellipse cx="181.5" cy="296.7" rx="6.4" ry="5.6" fill="url(#h74)"/>
<ellipse cx="117.8" cy="320.9" rx="6.4" ry="6.4" fill="url(#h52)"/>
<ellipse cx="203.7" cy="311.2" rx="4.8" ry="4.8" fill="url(#h75)"/>
<ellipse cx="108.1" cy="299.6" rx="9.6" ry="4.0" fill="url(#h76)"/>
<ellipse cx="187.3" cy="257.2" rx="4.8" ry="4.8" fill="url(#h77)"/>
<ellipse cx="102.3" cy="253.3" rx="4.0" ry="4.0" fill="url(#h78)"/>
<ellipse cx="251.0" cy="322.8" rx="32.1" ry="44.9" fill="url(#h79)" opacity="0.95" transform="rotate(30 251.0 322.8)"/>
<ellipse cx="90.7" cy="367.2" rx="16.0" ry="17.7" fill="url(#h80)"/>
<ellipse cx="195.0" cy="377.8" rx="11.2" ry="7.2" fill="url(#h81)"/>
<ellipse cx="218.1" cy="351.8" rx="12.8" ry="9.6" fill="url(#h82)"/>
<ellipse cx="254.8" cy="398.1" rx="22.5" ry="20.9" fill="url(#h83)"/>
<ellipse cx="295.4" cy="392.3" rx="27.3" ry="32.1" fill="url(#h84)"/>
<ellipse cx="312.7" cy="386.5" rx="12.8" ry="14.4" fill="url(#h85)"/>
<ellipse cx="320.5" cy="338.2" rx="19.3" ry="17.7" fill="url(#h86)"/>
<ellipse cx="334.0" cy="355.6" rx="40.1" ry="32.1" fill="url(#h87)" opacity="0.9"/>
<ellipse cx="362.9" cy="396.2" rx="36.9" ry="27.3" fill="url(#h88)"/>
<ellipse cx="276.1" cy="421.3" rx="48.1" ry="32.1" fill="url(#h89)" opacity="0.9"/>
<ellipse cx="5.8" cy="359.5" rx="19.3" ry="38.5" fill="url(#h90)" opacity="0.9"/>
<ellipse cx="189.2" cy="430.9" rx="48.1" ry="32.1" fill="url(#h91)" opacity="0.8"/>
<ellipse cx="285.7" cy="459.9" rx="44.9" ry="25.7" fill="url(#h92)" opacity="0.95"/>
<ellipse cx="237.5" cy="459.9" rx="32.1" ry="19.3" fill="url(#h93)" opacity="0.8"/>
<ellipse cx="517.0" cy="235.9" rx="17.7" ry="16.0" fill="url(#h91)"/>
<ellipse cx="681.1" cy="270.7" rx="28.9" ry="24.1" fill="url(#h94)"/>
<ellipse cx="696.6" cy="268.7" rx="9.6" ry="9.6" fill="url(#h95)"/>
<ellipse cx="648.3" cy="276.5" rx="9.6" ry="17.7" fill="url(#h52)"/>
<ellipse cx="731.3" cy="271.6" rx="25.7" ry="19.3" fill="url(#h96)"/>
<ellipse cx="658.0" cy="251.4" rx="8.0" ry="8.0" fill="url(#h97)"/>
<ellipse cx="675.3" cy="243.6" rx="8.0" ry="9.6" fill="url(#h98)"/>
<ellipse cx="613.6" cy="305.4" rx="14.4" ry="9.6" fill="url(#h99)"/>
<ellipse cx="638.6" cy="305.4" rx="20.9" ry="11.2" fill="url(#h99)"/>
<ellipse cx="768.0" cy="315.1" rx="8.0" ry="48.1" fill="url(#h100)" opacity="0.8"/>
<ellipse cx="457.2" cy="401.9" rx="17.7" ry="20.9" fill="url(#h52)"/>
<ellipse cx="441.7" cy="405.8" rx="16.0" ry="16.0" fill="url(#h101)"/>
<ellipse cx="434.0" cy="440.6" rx="32.1" ry="20.9" fill="url(#h102)" opacity="0.95" transform="rotate(-35 434.0 440.6)"/>
<ellipse cx="414.7" cy="463.7" rx="25.7" ry="20.9" fill="url(#h103)"/>
<ellipse cx="435.9" cy="465.7" rx="7.2" ry="8.0" fill="url(#h86)"/>
<ellipse cx="457.2" cy="446.3" rx="6.4" ry="6.4" fill="url(#h104)"/>
<ellipse cx="406.0" cy="372.0" rx="11.2" ry="14.4" fill="url(#h105)"/>
<ellipse cx="380.0" cy="392.3" rx="16.0" ry="22.5" fill="url(#h106)"/>
<ellipse cx="424.4" cy="344.0" rx="11.2" ry="8.0" fill="url(#h107)"/>
<ellipse cx="443.7" cy="367.2" rx="6.4" ry="6.4" fill="url(#h107)"/>
<ellipse cx="665.7" cy="440.6" rx="64.2" ry="41.7" fill="url(#h108)" opacity="0.8"/>
<ellipse cx="377.9" cy="204.0" rx="13.4" ry="13.4" fill="url(#h109)"/>
<ellipse cx="398.4" cy="201.1" rx="11.0" ry="13.4" fill="url(#h110)"/>
<ellipse cx="354.4" cy="183.5" rx="21.9" ry="8.5" fill="url(#h111)"/>
<ellipse cx="416.0" cy="183.5" rx="17.1" ry="11.0" fill="url(#h112)"/>
<ellipse cx="380.8" cy="227.5" rx="13.4" ry="26.8" fill="url(#h113)"/>
<ellipse cx="366.1" cy="242.1" rx="8.5" ry="8.5" fill="url(#h114)"/>
<ellipse cx="442.4" cy="242.1" rx="13.4" ry="24.4" fill="url(#h61)"/>
<ellipse cx="328.0" cy="227.5" rx="29.3" ry="48.8" fill="url(#h115)" opacity="0.8"/>
<ellipse cx="380.8" cy="309.6" rx="11.0" ry="7.3" fill="url(#h116)"/>
<ellipse cx="427.7" cy="165.9" rx="24.4" ry="19.5" fill="url(#h117)" opacity="0.8"/>
<ellipse cx="335.3" cy="212.8" rx="36.6" ry="80.4" fill="url(#h118)" opacity="0.6"/>
<ellipse cx="436.5" cy="195.2" rx="29.3" ry="39.0" fill="url(#h119)" opacity="0.55"/>
<ellipse cx="354.4" cy="184.9" rx="26.8" ry="11.0" fill="url(#h120)" opacity="0.9" transform="rotate(-20 354.4 184.9)"/>
<ellipse cx="413.1" cy="180.5" rx="26.8" ry="14.6" fill="url(#h121)" opacity="0.9" transform="rotate(25 413.1 180.5)"/>
<ellipse cx="386.7" cy="165.9" rx="21.9" ry="9.8" fill="url(#h122)" opacity="0.8"/>
</g>
<g filter="url(#ib1)">
<polygon points="316.6,44.4 343.6,38.6 357.1,56.0 350.4,75.3 332.0,72.4 318.5,58.9" fill="#fffef0"/>
<polygon points="380.3,23.2 388.0,23.2 393.8,32.8 390.0,38.6 382.2,32.8" fill="#e8e0c0"/>
<polygon points="364.9,52.1 370.7,52.1 369.7,65.6 363.9,64.7" fill="#e0d8b0" opacity="0.9"/>
<polygon points="357.1,73.4 364.9,75.3 362.9,84.9 356.2,83.0" fill="#e0d8b0" opacity="0.9"/>
<polygon points="231.7,169.9 244.2,168.0 245.2,187.3 233.6,189.2" fill="#f8f0c8"/>
<polygon points="225.9,193.1 241.3,191.1 242.3,204.6 227.8,206.6" fill="#f8f0c8"/>
<polygon points="261.6,183.4 273.2,182.4 274.1,195.0 262.5,195.9" fill="#f8f0b0"/>
<polygon points="247.1,210.4 262.5,209.5 263.5,225.9 249.0,225.9" fill="#fff8e0"/>
<polygon points="339.8,133.2 349.4,135.1 353.3,146.7 343.6,146.7" fill="#e8d8a0"/>
<polygon points="656.0,-1.6 769.9,-1.6 769.9,37.6 739.0,52.1 702.4,75.3 665.7,95.6 659.5,86.9 663.7,71.4 678.2,52.1 677.3,23.2 654.1,2.9" fill="#f4f0d0"/>
<polygon points="626.1,23.2 648.3,10.6 663.7,23.2 658.9,46.3 645.4,40.5" fill="#c8e4bc"/>
<polygon points="435.9,98.4 468.8,94.6 465.9,129.3 457.2,143.8 443.7,133.6" fill="#fffff2"/>
<polygon points="495.8,105.2 528.6,102.3 530.5,114.9 499.7,117.8" fill="#e0e0c0"/>
<polygon points="522.8,119.7 546.0,119.7 549.8,146.7 528.6,144.8" fill="#e8d8a8"/>
<polygon points="491.9,134.2 513.2,133.2 515.1,148.6 493.9,149.6" fill="#c4d4a4"/>
<polygon points="505.4,158.3 518.0,158.3 518.0,170.8 505.4,170.8" fill="#d0d8c0"/>
<polygon points="486.1,154.4 493.9,154.4 495.8,169.9 488.1,170.8" fill="#b0b890"/>
<polygon points="391.5,191.1 400.2,190.1 401.2,203.7 392.5,204.6" fill="#e8f0c0"/>
<polygon points="380.0,198.8 387.7,198.8 387.7,210.4 380.0,210.4" fill="#e8f0c0"/>
<polygon points="92.7,429.0 135.1,432.8 139.0,446.3 96.5,441.5" fill="#dff0d0"/>
<polygon points="92.7,448.3 137.1,452.1 139.0,462.8 94.6,458.9" fill="#dff0d0"/>
<polygon points="96.5,464.7 131.3,467.6 131.3,473.8 98.5,473.8" fill="#dff0d0"/>
<polygon points="285.7,440.6 308.9,438.6 310.8,473.8 281.9,473.8" fill="#e8ecc0" opacity="0.9"/>
</g>
<g filter="url(#ib2)">
<ellipse cx="690.0" cy="20.3" rx="11.7" ry="11.7" fill="url(#h123)" opacity="0.7"/>
<ellipse cx="698.7" cy="46.3" rx="8.1" ry="8.1" fill="url(#h124)" opacity="0.6"/>
<ellipse cx="716.1" cy="32.8" rx="6.6" ry="16.1" fill="url(#h125)" opacity="0.6"/>
<ellipse cx="694.8" cy="-0.0" rx="6.6" ry="5.1" fill="url(#h126)" opacity="0.8"/>
<ellipse cx="762.4" cy="4.8" rx="16.1" ry="17.6" fill="url(#h127)" opacity="0.95"/>
<ellipse cx="738.3" cy="7.7" rx="14.7" ry="8.1" fill="url(#h128)" opacity="0.6"/>
<ellipse cx="745.0" cy="26.1" rx="14.7" ry="8.8" fill="url(#h109)" opacity="0.7"/>
<ellipse cx="682.3" cy="38.6" rx="8.8" ry="8.8" fill="url(#h109)" opacity="0.7"/>
<ellipse cx="725.7" cy="56.0" rx="22.0" ry="4.4" fill="url(#h129)" opacity="0.5" transform="rotate(-28 725.7 56.0)"/>
<ellipse cx="663.0" cy="30.9" rx="5.9" ry="19.1" fill="url(#h130)" opacity="0.9"/>
<ellipse cx="720.9" cy="89.8" rx="58.7" ry="9.5" fill="url(#h131)" opacity="0.8" transform="rotate(-25 720.9 89.8)"/>
<ellipse cx="239.4" cy="179.5" rx="13.2" ry="17.6" fill="url(#h132)" opacity="0.95"/>
<ellipse cx="235.5" cy="198.8" rx="16.1" ry="13.2" fill="url(#h133)" opacity="0.95"/>
<ellipse cx="268.3" cy="189.2" rx="13.2" ry="11.7" fill="url(#h134)" opacity="0.95"/>
<ellipse cx="256.8" cy="219.1" rx="16.1" ry="16.1" fill="url(#h135)" opacity="0.95"/>
<ellipse cx="335.9" cy="57.9" rx="22.0" ry="23.5" fill="url(#h109)" opacity="0.9"/>
<ellipse cx="453.3" cy="117.8" rx="16.1" ry="29.3" fill="url(#h109)" opacity="0.9"/>
<ellipse cx="515.1" cy="110.0" rx="23.5" ry="10.3" fill="url(#h136)" opacity="0.9"/>
<ellipse cx="538.3" cy="133.2" rx="17.6" ry="20.5" fill="url(#h137)" opacity="0.9"/>
<ellipse cx="252.9" cy="400.0" rx="24.9" ry="22.0" fill="url(#h138)" opacity="0.9"/>
<ellipse cx="297.3" cy="398.1" rx="29.3" ry="35.2" fill="url(#h139)" opacity="0.9"/>
<ellipse cx="276.1" cy="430.9" rx="38.1" ry="29.3" fill="url(#h140)" opacity="0.85"/>
<ellipse cx="316.6" cy="342.1" rx="22.0" ry="19.1" fill="url(#h141)" opacity="0.9"/>
<ellipse cx="314.7" cy="382.6" rx="14.7" ry="16.1" fill="url(#h142)" opacity="0.9"/>
<ellipse cx="343.6" cy="363.3" rx="26.4" ry="23.5" fill="url(#h143)" opacity="0.8"/>
<ellipse cx="251.0" cy="320.9" rx="24.9" ry="35.2" fill="url(#h144)" opacity="0.8" transform="rotate(30 251.0 320.9)"/>
<ellipse cx="113.9" cy="438.6" rx="33.7" ry="8.8" fill="url(#h145)" opacity="0.9" transform="rotate(6 113.9 438.6)"/>
<ellipse cx="115.8" cy="456.0" rx="33.7" ry="8.1" fill="url(#h145)" opacity="0.9" transform="rotate(6 115.8 456.0)"/>
<ellipse cx="154.4" cy="459.9" rx="23.5" ry="17.6" fill="url(#h146)" opacity="0.7"/>
<ellipse cx="297.3" cy="457.9" rx="24.9" ry="24.9" fill="url(#h147)" opacity="0.85"/>
</g>
<g filter="url(#ib0)">
<ellipse cx="380.8" cy="239.4" rx="75.8" ry="82.4" fill="none" stroke="#ffffff" stroke-width="14"/>
<rect x="12.5" y="440.6" width="71.5" height="14.4" fill="#ffffff"/>
<text x="-10.5" y="414.8" font-size="58" font-weight="bold" fill="#ffffff">1<tspan dx="-4.8">0 µm</tspan></text>
</g>
</g></g>
<g fill="#000">
<rect x="239.8" y="79" width="8.4" height="1714.2"/>
<rect x="239.8" y="1785.8" width="2123.4" height="7.6"/>
<rect x="420.3" y="1789" width="8" height="32.5"/>
<rect x="678.4" y="1789" width="8" height="32.5"/>
<rect x="936.5" y="1789" width="8" height="32.5"/>
<rect x="1194.6" y="1789" width="8" height="32.5"/>
<rect x="1452.7" y="1789" width="8" height="32.5"/>
<rect x="1710.8" y="1789" width="8" height="32.5"/>
<rect x="1968.9" y="1789" width="8" height="32.5"/>
<rect x="2227.0" y="1789" width="8" height="32.5"/>
<rect x="291.4" y="1789" width="7.6" height="15"/>
<rect x="549.6" y="1789" width="7.6" height="15"/>
<rect x="807.7" y="1789" width="7.6" height="15"/>
<rect x="1065.8" y="1789" width="7.6" height="15"/>
<rect x="1323.9" y="1789" width="7.6" height="15"/>
<rect x="1582.0" y="1789" width="7.6" height="15"/>
<rect x="1840.0" y="1789" width="7.6" height="15"/>
<rect x="2098.1" y="1789" width="7.6" height="15"/>
<rect x="2356.2" y="1789" width="7.6" height="15"/>
<rect x="237" y="209.5" width="4" height="7" rx="1.5"/>
<rect x="237" y="340.8" width="4" height="7" rx="1.5"/>
<rect x="237" y="472.0" width="4" height="7" rx="1.5"/>
<rect x="237" y="603.2" width="4" height="7" rx="1.5"/>
<rect x="237" y="734.5" width="4" height="7" rx="1.5"/>
<rect x="237" y="865.8" width="4" height="7" rx="1.5"/>
<rect x="237" y="997.0" width="4" height="7" rx="1.5"/>
<rect x="237" y="1128.2" width="4" height="7" rx="1.5"/>
<rect x="237" y="1259.5" width="4" height="7" rx="1.5"/>
<rect x="237" y="1390.8" width="4" height="7" rx="1.5"/>
<rect x="237" y="1522.0" width="4" height="7" rx="1.5"/>
<rect x="237" y="1653.2" width="4" height="7" rx="1.5"/>
</g>
<polyline fill="none" stroke="#ee2b2e" stroke-width="8.4" stroke-linejoin="round" stroke-linecap="butt" points="244.0,1587.5 245.0,1586.6 246.0,1585.6 247.0,1584.0 248.0,1582.0 249.0,1580.0 250.0,1579.1 251.0,1578.7 252.0,1577.2 253.0,1575.4 254.0,1574.9 255.0,1574.9 256.0,1573.9 257.0,1571.7 258.0,1568.8 259.0,1567.2 260.0,1567.5 261.0,1567.5 262.0,1565.2 263.0,1562.7 264.0,1561.3 265.0,1560.1 266.0,1558.9 267.0,1558.3 268.0,1558.3 269.0,1558.3 270.0,1557.7 271.0,1556.7 272.0,1555.4 273.0,1553.7 274.0,1551.8 275.0,1551.1 276.0,1551.9 277.0,1552.6 278.0,1552.9 279.0,1553.4 280.0,1553.7 281.0,1553.5 282.0,1552.6 283.0,1551.1 284.0,1549.5 285.0,1548.3 286.0,1546.9 287.0,1544.5 288.0,1542.2 289.0,1540.3 290.0,1538.2 291.0,1535.1 292.0,1531.8 293.0,1529.7 294.0,1528.6 295.0,1527.0 296.0,1524.2 297.0,1520.9 298.0,1519.1 299.0,1519.0 300.0,1518.7 301.0,1517.9 302.0,1516.5 303.0,1514.2 304.0,1513.2 305.0,1513.6 306.0,1514.3 307.0,1514.5 308.0,1514.5 309.0,1514.1 310.0,1513.6 311.0,1513.3 312.0,1513.0 313.0,1512.4 314.0,1511.6 315.0,1510.9 316.0,1510.1 317.0,1508.7 318.0,1506.9 319.0,1504.8 320.0,1502.5 321.0,1500.2 322.0,1498.1 323.0,1495.7 324.0,1492.3 325.0,1487.5 326.0,1482.0 327.0,1476.2 328.0,1469.6 329.0,1461.9 330.0,1453.8 331.0,1444.7 332.0,1434.5 332.0,1434.2 332.9,1422.3 333.0,1421.6 333.9,1408.3 334.0,1407.1 334.9,1392.8 335.0,1391.1 335.9,1375.3 336.0,1372.8 336.9,1354.0 337.0,1350.4 337.8,1328.3 338.0,1323.2 338.8,1298.2 339.0,1291.4 339.8,1263.1 340.0,1254.2 340.8,1221.6 341.0,1209.7 341.7,1171.8 342.0,1156.0 342.7,1112.2 343.0,1091.7 343.7,1041.7 344.0,1015.6 344.6,959.2 345.0,926.8 345.6,865.5 346.0,827.0 346.6,763.6 347.0,720.9 347.6,660.5 348.0,618.1 348.6,568.4 349.0,534.0 349.5,503.4 350.0,486.0 350.5,479.6 351.0,485.8 351.5,502.9 352.0,533.3 352.4,567.5 353.0,616.8 353.4,659.0 354.0,719.2 354.4,761.7 355.0,825.0 355.4,863.4 356.0,924.4 356.4,956.6 357.0,1012.5 357.3,1038.4 358.0,1088.1 358.3,1108.6 359.0,1152.4 359.3,1168.3 360.0,1206.7 360.2,1218.6 361.0,1251.4 361.2,1260.2 362.0,1287.9 362.2,1294.5 363.0,1318.6 363.2,1323.5 364.0,1344.5 364.1,1348.0 365.0,1366.3 365.1,1368.7 366.0,1384.5 366.1,1386.2 367.0,1399.9 367.1,1401.0 368.0,1413.6 368.1,1414.3 369.0,1425.7 369.0,1426.0 370.0,1435.8 371.0,1444.3 372.0,1452.1 373.0,1460.1 374.0,1468.1 375.0,1474.9 376.0,1479.9 377.0,1483.7 378.0,1486.5 379.0,1489.0 380.0,1492.6 381.0,1496.4 382.0,1499.3 383.0,1501.9 384.0,1504.1 385.0,1505.3 386.0,1506.6 387.0,1509.2 388.0,1512.1 389.0,1515.0 390.0,1518.1 391.0,1520.7 392.0,1522.2 393.0,1523.7 394.0,1525.7 395.0,1527.5 396.0,1528.7 397.0,1529.8 398.0,1531.5 399.0,1533.7 400.0,1534.7 401.0,1534.9 402.0,1535.7 403.0,1536.7 404.0,1536.4 405.0,1535.6 406.0,1535.0 407.0,1534.1 408.0,1533.5 409.0,1533.0 410.0,1532.5 411.0,1532.2 412.0,1530.5 413.0,1527.1 414.0,1523.9 415.0,1520.1 416.0,1517.2 417.0,1516.1 418.0,1516.6 419.0,1517.6 420.0,1517.9 421.0,1517.9 422.0,1518.9 423.0,1522.8 424.0,1527.0 425.0,1530.2 426.0,1532.8 427.0,1534.7 428.0,1535.5 429.0,1536.8 430.0,1538.9 431.0,1540.0 432.0,1540.1 433.0,1540.3 434.0,1540.5 435.0,1540.7 436.0,1540.5 437.0,1540.1 438.0,1539.7 439.0,1539.7 440.0,1538.9 441.0,1537.5 442.0,1537.0 443.0,1537.1 444.0,1536.9 445.0,1536.7 446.0,1537.6 447.0,1538.5 448.0,1537.1 449.0,1535.2 450.0,1534.1 451.0,1532.9 452.0,1531.3 453.0,1530.5 454.0,1531.0 455.0,1531.5 456.0,1531.4 457.0,1530.5 458.0,1530.0 459.0,1529.8 460.0,1528.0 461.0,1525.5 462.0,1524.2 463.0,1523.7 464.0,1522.8 465.0,1521.1 466.0,1519.0 467.0,1517.9 468.0,1517.1 469.0,1514.1 470.0,1509.1 471.0,1505.2 472.0,1502.5 472.2,1501.8 473.0,1499.6 473.3,1498.5 474.0,1496.2 474.4,1494.6 475.0,1492.2 475.5,1489.5 476.0,1486.9 476.6,1482.8 477.0,1479.9 477.7,1474.5 478.0,1471.9 478.8,1465.0 479.0,1462.9 479.9,1454.6 480.0,1453.2 480.9,1442.5 481.0,1441.9 482.0,1428.3 482.0,1427.7 483.0,1412.1 483.1,1409.9 484.0,1393.4 484.2,1388.9 485.0,1371.2 485.3,1363.8 486.0,1345.1 486.4,1333.9 487.0,1315.0 487.5,1299.3 488.0,1280.9 488.6,1260.0 489.0,1243.2 489.6,1217.5 490.0,1203.6 490.7,1174.8 491.0,1164.9 491.8,1136.5 492.0,1131.2 492.9,1109.3 493.0,1107.8 494.0,1099.1 495.0,1107.0 495.1,1108.4 496.0,1129.6 496.2,1134.8 497.0,1162.4 497.3,1172.1 498.0,1200.5 498.4,1214.4 499.0,1239.9 499.4,1256.6 500.0,1277.3 500.5,1295.5 501.0,1311.0 501.6,1329.1 502.0,1339.7 502.7,1356.7 503.0,1363.4 503.8,1379.6 504.0,1383.6 504.9,1399.7 505.0,1401.8 506.0,1417.2 506.0,1417.7 507.0,1430.9 507.1,1431.5 508.0,1441.5 508.1,1442.7 509.0,1450.0 509.2,1451.7 510.0,1457.2 510.3,1459.4 511.0,1463.8 511.4,1466.3 512.0,1469.8 512.5,1472.4 513.0,1474.9 513.6,1477.5 514.0,1479.2 514.7,1481.5 515.0,1482.6 515.8,1484.8 516.0,1485.5 517.0,1488.2 518.0,1490.5 519.0,1492.1 520.0,1493.0 521.0,1494.2 522.0,1496.0 523.0,1497.2 524.0,1497.6 525.0,1497.6 526.0,1496.6 527.0,1494.1 528.0,1491.5 529.0,1489.2 530.0,1486.0 531.0,1481.6 532.0,1478.7 533.0,1479.3 534.0,1481.1 535.0,1482.3 536.0,1484.0 537.0,1486.8 538.0,1489.4 539.0,1491.6 540.0,1493.8 541.0,1496.1 542.0,1497.6 543.0,1498.7 544.0,1499.6 545.0,1500.8 546.0,1502.7 547.0,1504.9 548.0,1507.3 549.0,1510.4 550.0,1514.3 551.0,1518.3 552.0,1520.7 553.0,1522.2 554.0,1524.2 555.0,1525.8 556.0,1526.2 557.0,1525.9 558.0,1525.1 559.0,1524.6 560.0,1524.8 561.0,1525.3 562.0,1524.8 563.0,1523.6 564.0,1522.9 565.0,1522.7 566.0,1522.6 567.0,1522.2 568.0,1522.1 569.0,1522.6 570.0,1522.8 571.0,1522.8 572.0,1523.9 573.0,1525.0 574.0,1524.6 575.0,1524.1 576.0,1523.4 577.0,1522.4 578.0,1521.7 579.0,1521.7 580.0,1522.5 581.0,1522.6 582.0,1521.5 583.0,1520.3 584.0,1519.5 585.0,1519.7 586.0,1520.0 587.0,1519.3 588.0,1518.8 589.0,1519.5 590.0,1520.3 591.0,1519.9 592.0,1517.9 593.0,1515.9 594.0,1514.6 595.0,1513.4 596.0,1512.2 597.0,1511.1 598.0,1508.3 599.0,1501.0 600.0,1492.6 601.0,1484.9 602.0,1476.9 603.0,1469.1 604.0,1461.6 605.0,1454.0 606.0,1445.4 607.0,1435.0 608.0,1425.9 609.0,1417.9 610.0,1415.7 611.0,1419.5 612.0,1424.4 613.0,1429.3 614.0,1435.2 615.0,1440.9 616.0,1447.2 617.0,1453.8 618.0,1458.9 619.0,1463.0 620.0,1467.0 621.0,1470.5 622.0,1474.7 623.0,1479.2 624.0,1482.9 625.0,1486.3 626.0,1489.2 627.0,1491.6 628.0,1495.1 629.0,1499.3 630.0,1503.3 631.0,1507.5 632.0,1511.7 633.0,1514.9 634.0,1517.5 635.0,1520.1 636.0,1522.4 637.0,1524.0 638.0,1523.8 639.0,1522.5 640.0,1521.8 641.0,1522.3 642.0,1522.6 643.0,1521.6 644.0,1520.4 645.0,1519.2 646.0,1518.6 647.0,1519.1 648.0,1520.3 649.0,1521.2 650.0,1521.5 651.0,1522.4 652.0,1523.6 653.0,1524.2 654.0,1524.3 655.0,1523.7 656.0,1522.2 657.0,1520.4 658.0,1518.2 659.0,1515.6 660.0,1513.1 661.0,1511.2 662.0,1508.9 663.0,1506.2 664.0,1504.0 665.0,1503.0 666.0,1502.3 667.0,1500.4 668.0,1496.9 669.0,1492.5 670.0,1488.9 671.0,1486.6 672.0,1485.1 673.0,1484.0 674.0,1482.1 675.0,1479.6 676.0,1477.4 677.0,1475.6 678.0,1475.0 679.0,1476.7 680.0,1479.9 681.0,1483.3 682.0,1486.1 683.0,1488.0 684.0,1489.2 685.0,1491.0 686.0,1493.7 687.0,1496.2 688.0,1499.5 689.0,1504.0 690.0,1508.1 691.0,1510.9 692.0,1512.8 693.0,1514.9 694.0,1517.5 695.0,1519.8 696.0,1522.0 697.0,1524.3 698.0,1525.6 699.0,1526.6 700.0,1528.4 701.0,1530.5 702.0,1532.2 703.0,1533.2 704.0,1533.6 705.0,1533.4 706.0,1533.8 707.0,1534.9 708.0,1535.3 709.0,1535.2 710.0,1535.5 711.0,1536.4 712.0,1537.5 713.0,1538.5 714.0,1540.0 715.0,1541.7 716.0,1542.3 717.0,1542.4 718.0,1542.0 719.0,1541.0 720.0,1540.7 721.0,1541.2 722.0,1542.0 723.0,1542.7 724.0,1543.5 725.0,1543.6 726.0,1542.9 727.0,1543.7 728.0,1544.9 729.0,1544.8 730.0,1544.1 731.0,1543.4 732.0,1543.0 733.0,1543.1 734.0,1543.0 735.0,1542.4 736.0,1542.1 737.0,1544.2 738.0,1546.6 739.0,1547.0 740.0,1546.5 741.0,1546.3 742.0,1546.3 743.0,1546.9 744.0,1547.2 745.0,1546.6 746.0,1546.2 747.0,1546.2 748.0,1546.3 749.0,1547.6 750.0,1548.6 751.0,1548.2 752.0,1547.9 753.0,1547.8 754.0,1547.6 755.0,1548.0 756.0,1548.2 757.0,1548.3 758.0,1549.0 759.0,1549.3 760.0,1548.1 761.0,1546.1 762.0,1545.2 763.0,1545.8 764.0,1546.1 765.0,1545.7 766.0,1545.2 767.0,1544.9 768.0,1545.2 769.0,1545.8 770.0,1545.7 771.0,1545.2 772.0,1545.3 773.0,1545.4 774.0,1544.6 775.0,1544.1 776.0,1544.4 777.0,1544.9 778.0,1544.8 779.0,1544.3 780.0,1543.9 781.0,1543.8 782.0,1543.8 783.0,1543.5 784.0,1543.0 785.0,1543.2 786.0,1544.3 787.0,1545.1 788.0,1544.5 789.0,1543.8 790.0,1543.1 791.0,1541.1 792.0,1539.5 793.0,1539.9 794.0,1541.8 795.0,1543.9 796.0,1544.3 797.0,1543.2 798.0,1541.1 799.0,1538.6 800.0,1537.9 801.0,1539.4 802.0,1540.4 803.0,1540.0 804.0,1539.7 805.0,1539.7 806.0,1540.1 807.0,1540.3 808.0,1538.9 809.0,1537.4 810.0,1536.8 811.0,1535.9 812.0,1534.3 813.0,1532.5 814.0,1530.8 815.0,1529.1 816.0,1526.7 817.0,1524.2 818.0,1521.9 819.0,1519.5 820.0,1517.7 821.0,1516.7 822.0,1515.4 823.0,1513.7 824.0,1512.4 825.0,1510.5 826.0,1508.6 827.0,1508.4 828.0,1508.0 829.0,1505.8 830.0,1503.4 831.0,1502.2 832.0,1502.0 833.0,1503.0 834.0,1505.0 835.0,1506.6 836.0,1507.5 837.0,1508.6 838.0,1510.4 839.0,1512.8 840.0,1515.2 841.0,1517.1 842.0,1519.5 843.0,1522.5 844.0,1524.5 845.0,1525.9 846.0,1527.9 847.0,1529.0 848.0,1529.6 849.0,1530.9 850.0,1532.3 851.0,1533.9 852.0,1535.7 853.0,1537.2 854.0,1538.0 855.0,1539.1 856.0,1540.9 857.0,1542.8 858.0,1543.9 859.0,1545.1 860.0,1547.1 861.0,1548.5 862.0,1549.8 863.0,1550.7 864.0,1550.3 865.0,1549.9 866.0,1551.1 867.0,1553.0 868.0,1554.2 869.0,1554.9 870.0,1555.8 871.0,1556.3 872.0,1556.2 873.0,1556.5 874.0,1556.9 875.0,1556.7 876.0,1557.5 877.0,1559.0 878.0,1559.3 879.0,1558.1 880.0,1557.9 881.0,1558.6 882.0,1559.0 883.0,1558.8 884.0,1559.0 885.0,1559.7 886.0,1560.1 887.0,1560.1 888.0,1560.2 889.0,1560.8 890.0,1561.8 891.0,1562.2 892.0,1561.5 893.0,1561.0 894.0,1561.6 895.0,1562.8 896.0,1563.4 897.0,1563.1 898.0,1562.7 899.0,1562.5 900.0,1562.3 901.0,1562.2 902.0,1562.7 903.0,1562.9 904.0,1562.9 905.0,1563.7 906.0,1563.9 907.0,1563.1 908.0,1562.0 909.0,1561.5 910.0,1562.3 911.0,1563.4 912.0,1563.5 913.0,1563.3 914.0,1562.6 915.0,1562.1 916.0,1562.7 917.0,1563.3 918.0,1563.1 919.0,1562.1 920.0,1560.6 921.0,1559.6 922.0,1559.3 923.0,1559.6 924.0,1560.0 925.0,1560.7 926.0,1560.8 927.0,1560.9 928.0,1562.0 929.0,1562.1 930.0,1561.5 931.0,1562.3 932.0,1562.7 933.0,1561.2 934.0,1559.8 935.0,1560.1 936.0,1561.3 937.0,1561.6 938.0,1561.1 939.0,1561.4 940.0,1561.7 941.0,1560.9 942.0,1560.1 943.0,1560.7 944.0,1562.6 945.0,1563.9 946.0,1563.1 947.0,1561.4 948.0,1559.8 949.0,1558.2 950.0,1557.3 951.0,1556.6 952.0,1555.8 953.0,1555.7 954.0,1556.2 955.0,1556.7 956.0,1556.5 957.0,1555.1 958.0,1553.3 959.0,1552.0 960.0,1550.9 961.0,1549.1 962.0,1545.9 963.0,1542.6 964.0,1541.9 965.0,1542.3 966.0,1541.0 967.0,1538.0 968.0,1535.2 969.0,1531.8 970.0,1527.2 971.0,1522.3 972.0,1517.9 973.0,1513.7 974.0,1509.2 975.0,1504.8 976.0,1501.7 977.0,1498.9 978.0,1495.2 979.0,1491.0 980.0,1487.5 981.0,1484.9 982.0,1481.8 983.0,1478.9 984.0,1476.5 985.0,1473.9 986.0,1471.7 987.0,1471.0 988.0,1471.5 989.0,1471.5 990.0,1471.1 991.0,1470.9 992.0,1471.0 993.0,1471.9 994.0,1472.5 995.0,1473.0 996.0,1474.9 997.0,1477.6 998.0,1481.3 999.0,1486.4 1000.0,1491.7 1001.0,1496.6 1002.0,1500.8 1003.0,1505.6 1004.0,1511.2 1005.0,1516.4 1006.0,1520.3 1007.0,1523.3 1008.0,1526.2 1009.0,1529.5 1010.0,1532.7 1011.0,1535.4 1012.0,1537.9 1013.0,1540.4 1014.0,1542.9 1015.0,1545.5 1016.0,1548.0 1017.0,1549.6 1018.0,1550.8 1019.0,1552.6 1020.0,1554.5 1021.0,1556.2 1022.0,1557.5 1023.0,1558.3 1024.0,1558.4 1025.0,1558.8 1026.0,1559.8 1027.0,1561.0 1028.0,1561.8 1029.0,1562.9 1030.0,1565.1 1031.0,1567.6 1032.0,1569.1 1033.0,1570.0 1034.0,1570.3 1035.0,1569.6 1036.0,1568.8 1037.0,1569.8 1038.0,1572.1 1039.0,1574.6 1040.0,1576.0 1041.0,1576.3 1042.0,1577.4 1043.0,1578.7 1044.0,1578.8 1045.0,1579.0 1046.0,1579.6 1047.0,1579.2 1048.0,1578.1 1049.0,1577.7 1050.0,1577.7 1051.0,1578.5 1052.0,1579.4 1053.0,1579.9 1054.0,1580.0 1055.0,1580.0 1056.0,1580.4 1057.0,1580.6 1058.0,1580.5 1059.0,1580.3 1060.0,1580.4 1061.0,1580.8 1062.0,1581.0 1063.0,1580.7 1064.0,1580.3 1065.0,1582.5 1066.0,1587.3 1067.0,1591.0 1068.0,1593.4 1069.0,1594.0 1070.0,1590.8 1071.0,1586.3 1072.0,1582.5 1073.0,1580.3 1074.0,1580.6 1075.0,1580.9 1076.0,1580.3 1077.0,1579.1 1078.0,1578.5 1079.0,1578.2 1080.0,1578.1 1081.0,1578.7 1082.0,1579.3 1083.0,1579.7 1084.0,1581.0 1085.0,1582.3 1086.0,1583.3 1087.0,1584.2 1088.0,1584.3 1089.0,1584.0 1090.0,1584.7 1091.0,1586.2 1092.0,1587.0 1093.0,1587.8 1094.0,1589.4 1095.0,1591.2 1096.0,1592.3 1097.0,1592.4 1098.0,1592.3 1099.0,1592.7 1100.0,1593.3 1101.0,1593.9 1102.0,1594.7 1103.0,1595.1 1104.0,1595.1 1105.0,1595.8 1106.0,1596.3 1107.0,1596.2 1108.0,1595.9 1109.0,1595.9 1110.0,1596.2 1111.0,1596.3 1112.0,1597.4 1113.0,1599.7 1114.0,1601.1 1115.0,1601.6 1116.0,1602.2 1117.0,1602.4 1118.0,1602.2 1119.0,1601.9 1120.0,1602.2 1121.0,1603.2 1122.0,1604.0 1123.0,1604.1 1124.0,1603.2 1125.0,1602.7 1126.0,1603.9 1127.0,1606.1 1128.0,1607.6 1129.0,1607.2 1130.0,1605.6 1131.0,1604.6 1132.0,1605.7 1133.0,1607.5 1134.0,1608.6 1135.0,1609.3 1136.0,1609.2 1137.0,1608.6 1138.0,1608.5 1139.0,1609.2 1140.0,1610.1 1141.0,1610.9 1142.0,1611.7 1143.0,1611.2 1144.0,1609.9 1145.0,1609.0 1146.0,1609.1 1147.0,1609.9 1148.0,1610.3 1149.0,1610.1 1150.0,1609.7 1151.0,1608.6 1152.0,1606.8 1153.0,1606.4 1154.0,1608.7 1155.0,1610.3 1156.0,1609.2 1157.0,1607.4 1158.0,1607.0 1159.0,1607.4 1160.0,1606.9 1161.0,1607.1 1162.0,1608.6 1163.0,1609.4 1164.0,1609.6 1165.0,1609.8 1166.0,1609.9 1167.0,1608.6 1168.0,1607.3 1169.0,1607.9 1170.0,1609.2 1171.0,1609.4 1172.0,1608.8 1173.0,1607.9 1174.0,1607.5 1175.0,1608.8 1176.0,1610.2 1177.0,1610.0 1178.0,1608.1 1179.0,1606.1 1180.0,1605.5 1181.0,1606.3 1182.0,1607.3 1183.0,1607.3 1184.0,1606.6 1185.0,1606.4 1186.0,1606.9 1187.0,1607.1 1188.0,1607.1 1189.0,1607.1 1190.0,1607.4 1191.0,1607.5 1192.0,1607.2 1193.0,1606.9 1194.0,1606.9 1195.0,1606.5 1196.0,1605.9 1197.0,1606.6 1198.0,1607.9 1199.0,1608.7 1200.0,1608.8 1201.0,1608.8 1202.0,1609.0 1203.0,1609.0 1204.0,1608.6 1205.0,1608.7 1206.0,1609.7 1207.0,1610.0 1208.0,1610.2 1209.0,1611.4 1210.0,1612.5 1211.0,1613.2 1212.0,1613.9 1213.0,1614.6 1214.0,1615.2 1215.0,1615.6 1216.0,1614.7 1217.0,1613.6 1218.0,1613.4 1219.0,1613.8 1220.0,1614.9 1221.0,1615.8 1222.0,1615.5 1223.0,1615.3 1224.0,1616.4 1225.0,1618.0 1226.0,1619.3 1227.0,1619.5 1228.0,1618.8 1229.0,1618.1 1230.0,1617.9 1231.0,1617.8 1232.0,1617.5 1233.0,1617.9 1234.0,1618.6 1235.0,1619.0 1236.0,1619.8 1237.0,1621.2 1238.0,1621.8 1239.0,1621.3 1240.0,1619.9 1241.0,1618.9 1242.0,1619.0 1243.0,1619.5 1244.0,1619.8 1245.0,1620.0 1246.0,1620.5 1247.0,1620.3 1248.0,1619.3 1249.0,1618.6 1250.0,1618.7 1251.0,1618.8 1252.0,1618.7 1253.0,1619.1 1254.0,1619.7 1255.0,1619.6 1256.0,1618.8 1257.0,1618.6 1258.0,1619.3 1259.0,1620.1 1260.0,1620.3 1261.0,1619.6 1262.0,1619.1 1263.0,1619.8 1264.0,1620.4 1265.0,1620.1 1266.0,1619.4 1267.0,1618.5 1268.0,1618.4 1269.0,1619.2 1270.0,1619.6 1271.0,1618.4 1272.0,1616.5 1273.0,1616.8 1274.0,1618.7 1275.0,1620.4 1276.0,1621.5 1277.0,1622.4 1278.0,1622.5 1279.0,1621.8 1280.0,1620.5 1281.0,1619.4 1282.0,1619.5 1283.0,1620.2 1284.0,1620.4 1285.0,1620.9 1286.0,1621.4 1287.0,1621.4 1288.0,1621.6 1289.0,1622.2 1290.0,1622.9 1291.0,1623.4 1292.0,1623.4 1293.0,1623.0 1294.0,1622.8 1295.0,1623.2 1296.0,1624.3 1297.0,1625.9 1298.0,1626.9 1299.0,1627.4 1300.0,1628.2 1301.0,1629.1 1302.0,1629.0 1303.0,1628.7 1304.0,1628.4 1305.0,1628.6 1306.0,1629.4 1307.0,1630.0 1308.0,1630.8 1309.0,1631.3 1310.0,1631.1 1311.0,1630.8 1312.0,1630.6 1313.0,1630.2 1314.0,1630.6 1315.0,1631.9 1316.0,1633.0 1317.0,1633.7 1318.0,1634.3 1319.0,1634.8 1320.0,1635.4 1321.0,1635.7 1322.0,1635.5 1323.0,1635.7 1324.0,1636.3 1325.0,1636.9 1326.0,1636.7 1327.0,1635.0 1328.0,1632.7 1329.0,1631.5 1330.0,1632.7 1331.0,1634.8 1332.0,1635.8 1333.0,1635.6 1334.0,1635.0 1335.0,1634.7 1336.0,1634.9 1337.0,1635.1 1338.0,1634.8 1339.0,1634.9 1340.0,1634.9 1341.0,1635.0 1342.0,1635.2 1343.0,1635.2 1344.0,1634.9 1345.0,1634.9 1346.0,1635.4 1347.0,1636.7 1348.0,1638.1 1349.0,1638.1 1350.0,1636.8 1351.0,1635.9 1352.0,1635.2 1353.0,1634.8 1354.0,1635.7 1355.0,1636.8 1356.0,1636.8 1357.0,1636.8 1358.0,1637.0 1359.0,1637.7 1360.0,1638.8 1361.0,1639.4 1362.0,1639.4 1363.0,1639.1 1364.0,1639.2 1365.0,1639.4 1366.0,1639.7 1367.0,1639.8 1368.0,1639.3 1369.0,1638.6 1370.0,1638.6 1371.0,1638.4 1372.0,1638.1 1373.0,1638.5 1374.0,1639.5 1375.0,1639.5 1376.0,1639.1 1377.0,1640.5 1378.0,1642.9 1379.0,1643.5 1380.0,1642.3 1381.0,1641.5 1382.0,1641.9 1383.0,1642.3 1384.0,1641.8 1385.0,1641.3 1386.0,1641.8 1387.0,1642.0 1388.0,1641.4 1389.0,1641.3 1390.0,1642.1 1391.0,1642.9 1392.0,1643.6 1393.0,1644.1 1394.0,1644.0 1395.0,1643.2 1396.0,1642.8 1397.0,1643.9 1398.0,1645.8 1399.0,1646.6 1400.0,1645.9 1401.0,1645.5 1402.0,1646.3 1403.0,1646.9 1404.0,1646.6 1405.0,1645.8 1406.0,1645.2 1407.0,1644.9 1408.0,1644.8 1409.0,1644.7 1410.0,1644.8 1411.0,1644.2 1412.0,1643.4 1413.0,1643.8 1414.0,1645.1 1415.0,1645.9 1416.0,1646.2 1417.0,1646.8 1418.0,1647.5 1419.0,1647.4 1420.0,1646.7 1421.0,1646.1 1422.0,1645.8 1423.0,1645.1 1424.0,1644.8 1425.0,1645.4 1426.0,1646.6 1427.0,1648.0 1428.0,1648.2 1429.0,1647.4 1430.0,1647.5 1431.0,1648.0 1432.0,1647.6 1433.0,1646.7 1434.0,1646.4 1435.0,1646.8 1436.0,1647.5 1437.0,1647.7 1438.0,1647.3 1439.0,1647.5 1440.0,1648.4 1441.0,1648.1 1442.0,1647.0 1443.0,1645.7 1444.0,1645.0 1445.0,1646.1 1446.0,1647.7 1447.0,1647.4 1448.0,1646.5 1449.0,1647.0 1450.0,1648.3 1451.0,1649.3 1452.0,1649.5 1453.0,1648.8 1454.0,1647.9 1455.0,1647.5 1456.0,1648.2 1457.0,1649.3 1458.0,1650.0 1459.0,1650.0 1460.0,1649.0 1461.0,1647.9 1462.0,1646.8 1463.0,1646.1 1464.0,1646.8 1465.0,1647.7 1466.0,1648.1 1467.0,1648.7 1468.0,1649.2 1469.0,1648.9 1470.0,1648.0 1471.0,1647.5 1472.0,1648.5 1473.0,1649.5 1474.0,1649.4 1475.0,1648.8 1476.0,1648.6 1477.0,1648.5 1478.0,1648.0 1479.0,1647.6 1480.0,1648.0 1481.0,1648.2 1482.0,1648.4 1483.0,1648.9 1484.0,1649.2 1485.0,1649.4 1486.0,1650.4 1487.0,1651.6 1488.0,1652.1 1489.0,1651.6 1490.0,1649.7 1491.0,1648.2 1492.0,1649.4 1493.0,1651.8 1494.0,1652.6 1495.0,1651.9 1496.0,1651.1 1497.0,1650.7 1498.0,1649.9 1499.0,1649.8 1500.0,1651.0 1501.0,1652.4 1502.0,1653.1 1503.0,1653.3 1504.0,1652.9 1505.0,1652.4 1506.0,1653.0 1507.0,1653.5 1508.0,1653.9 1509.0,1654.4 1510.0,1653.7 1511.0,1652.9 1512.0,1653.4 1513.0,1653.5 1514.0,1652.6 1515.0,1652.2 1516.0,1653.1 1517.0,1654.4 1518.0,1655.1 1519.0,1656.0 1520.0,1657.2 1521.0,1657.9 1522.0,1657.9 1523.0,1657.0 1524.0,1655.8 1525.0,1655.8 1526.0,1656.1 1527.0,1655.4 1528.0,1654.2 1529.0,1653.3 1530.0,1653.6 1531.0,1654.3 1532.0,1654.6 1533.0,1654.7 1534.0,1655.4 1535.0,1656.4 1536.0,1656.9 1537.0,1657.3 1538.0,1657.9 1539.0,1657.9 1540.0,1657.4 1541.0,1657.0 1542.0,1657.2 1543.0,1657.6 1544.0,1657.6 1545.0,1657.0 1546.0,1656.5 1547.0,1656.7 1548.0,1657.6 1549.0,1658.8 1550.0,1659.1 1551.0,1658.4 1552.0,1658.1 1553.0,1658.3 1554.0,1658.3 1555.0,1657.9 1556.0,1657.7 1557.0,1658.5 1558.0,1658.8 1559.0,1657.6 1560.0,1656.4 1561.0,1656.5 1562.0,1657.2 1563.0,1658.3 1564.0,1659.9 1565.0,1661.0 1566.0,1661.1 1567.0,1661.4 1568.0,1661.3 1569.0,1660.0 1570.0,1659.1 1571.0,1660.0 1572.0,1662.0 1573.0,1663.5 1574.0,1663.9 1575.0,1663.4 1576.0,1662.6 1577.0,1661.4 1578.0,1660.9 1579.0,1661.5 1580.0,1662.4 1581.0,1661.8 1582.0,1660.3 1583.0,1660.5 1584.0,1661.5 1585.0,1662.0 1586.0,1662.3 1587.0,1662.6 1588.0,1663.1 1589.0,1663.1 1590.0,1663.1 1591.0,1663.9 1592.0,1664.7 1593.0,1664.7 1594.0,1665.0 1595.0,1665.6 1596.0,1666.6 1597.0,1667.1 1598.0,1667.0 1599.0,1666.6 1600.0,1666.0 1601.0,1665.9 1602.0,1667.1 1603.0,1668.8 1604.0,1669.9 1605.0,1669.8 1606.0,1669.3 1607.0,1670.0 1608.0,1671.4 1609.0,1672.1 1610.0,1671.8 1611.0,1671.4 1612.0,1671.8 1613.0,1672.2 1614.0,1672.1 1615.0,1671.9 1616.0,1672.3 1617.0,1673.1 1618.0,1674.4 1619.0,1675.5 1620.0,1674.9 1621.0,1672.9 1622.0,1671.4 1623.0,1671.6 1624.0,1672.7 1625.0,1673.4 1626.0,1673.5 1627.0,1673.5 1628.0,1673.9 1629.0,1674.3 1630.0,1674.5 1631.0,1673.7 1632.0,1672.0 1633.0,1670.3 1634.0,1669.4 1635.0,1669.7 1636.0,1670.3 1637.0,1671.5 1638.0,1672.3 1639.0,1671.9 1640.0,1671.1 1641.0,1670.8 1642.0,1671.0 1643.0,1671.2 1644.0,1671.6 1645.0,1672.0 1646.0,1672.2 1647.0,1672.3 1648.0,1672.1 1649.0,1672.2 1650.0,1672.7 1651.0,1672.5 1652.0,1671.9 1653.0,1671.2 1654.0,1670.3 1655.0,1669.6 1656.0,1669.4 1657.0,1669.5 1658.0,1669.6 1659.0,1670.0 1660.0,1670.9 1661.0,1671.3 1662.0,1671.5 1663.0,1671.5 1664.0,1671.0 1665.0,1670.6 1666.0,1671.2 1667.0,1672.6 1668.0,1673.0 1669.0,1672.3 1670.0,1671.5 1671.0,1670.7 1672.0,1669.5 1673.0,1669.1 1674.0,1670.0 1675.0,1670.8 1676.0,1670.6 1677.0,1670.1 1678.0,1669.9 1679.0,1669.6 1680.0,1669.0 1681.0,1668.7 1682.0,1668.9 1683.0,1668.9 1684.0,1669.0 1685.0,1669.5 1686.0,1670.2 1687.0,1671.0 1688.0,1671.4 1689.0,1671.4 1690.0,1671.2 1691.0,1671.5 1692.0,1672.5 1693.0,1673.2 1694.0,1673.2 1695.0,1673.4 1696.0,1673.9 1697.0,1674.5 1698.0,1675.0 1699.0,1674.9 1700.0,1674.6 1701.0,1674.5 1702.0,1674.0 1703.0,1673.7 1704.0,1674.3 1705.0,1675.1 1706.0,1675.2 1707.0,1675.1 1708.0,1674.9 1709.0,1674.6 1710.0,1674.3 1711.0,1674.0 1712.0,1674.0 1713.0,1674.2 1714.0,1675.1 1715.0,1676.2 1716.0,1676.5 1717.0,1676.5 1718.0,1676.8 1719.0,1676.9 1720.0,1676.8 1721.0,1677.5 1722.0,1678.7 1723.0,1679.3 1724.0,1678.6 1725.0,1677.7 1726.0,1677.4 1727.0,1677.4 1728.0,1677.6 1729.0,1678.2 1730.0,1678.8 1731.0,1678.8 1732.0,1679.0 1733.0,1679.0 1734.0,1678.0 1735.0,1678.2 1736.0,1679.6 1737.0,1679.7 1738.0,1678.1 1739.0,1676.8 1740.0,1676.4 1741.0,1676.6 1742.0,1677.8 1743.0,1679.3 1744.0,1679.6 1745.0,1678.7 1746.0,1678.4 1747.0,1678.9 1748.0,1679.0 1749.0,1678.7 1750.0,1678.5 1751.0,1678.1 1752.0,1677.9 1753.0,1678.8 1754.0,1679.6 1755.0,1679.3 1756.0,1679.1 1757.0,1679.6 1758.0,1680.0 1759.0,1680.1 1760.0,1679.9 1761.0,1679.4 1762.0,1679.2 1763.0,1679.2 1764.0,1679.0 1765.0,1678.3 1766.0,1676.9 1767.0,1676.5 1768.0,1677.8 1769.0,1678.3 1770.0,1677.8 1771.0,1677.9 1772.0,1678.3 1773.0,1678.1 1774.0,1677.8 1775.0,1677.6 1776.0,1677.4 1777.0,1677.5 1778.0,1677.6 1779.0,1676.9 1780.0,1676.5 1781.0,1676.6 1782.0,1675.9 1783.0,1675.4 1784.0,1676.2 1785.0,1677.0 1786.0,1677.1 1787.0,1677.1 1788.0,1677.6 1789.0,1678.5 1790.0,1678.0 1791.0,1676.4 1792.0,1675.8 1793.0,1676.7 1794.0,1678.3 1795.0,1678.9 1796.0,1678.8 1797.0,1678.9 1798.0,1679.5 1799.0,1679.2 1800.0,1678.3 1801.0,1678.4 1802.0,1679.0 1803.0,1679.4 1804.0,1679.7 1805.0,1679.7 1806.0,1679.3 1807.0,1678.5 1808.0,1678.3 1809.0,1679.4 1810.0,1680.3 1811.0,1680.2 1812.0,1679.2 1813.0,1678.2 1814.0,1678.6 1815.0,1680.2 1816.0,1680.6 1817.0,1679.9 1818.0,1679.4 1819.0,1679.7 1820.0,1680.5 1821.0,1681.1 1822.0,1681.4 1823.0,1681.4 1824.0,1681.5 1825.0,1682.2 1826.0,1683.0 1827.0,1683.9 1828.0,1684.8 1829.0,1684.8 1830.0,1684.2 1831.0,1683.9 1832.0,1683.9 1833.0,1683.2 1834.0,1682.2 1835.0,1682.6 1836.0,1683.8 1837.0,1684.6 1838.0,1685.3 1839.0,1685.2 1840.0,1684.5 1841.0,1685.0 1842.0,1686.1 1843.0,1685.7 1844.0,1684.9 1845.0,1685.9 1846.0,1687.5 1847.0,1687.8 1848.0,1687.0 1849.0,1686.7 1850.0,1687.3 1851.0,1688.4 1852.0,1689.1 1853.0,1688.6 1854.0,1687.9 1855.0,1687.3 1856.0,1686.6 1857.0,1685.8 1858.0,1685.5 1859.0,1685.9 1860.0,1686.3 1861.0,1686.6 1862.0,1686.7 1863.0,1686.6 1864.0,1686.6 1865.0,1686.7 1866.0,1687.5 1867.0,1689.1 1868.0,1689.9 1869.0,1688.7 1870.0,1687.3 1871.0,1686.8 1872.0,1686.5 1873.0,1686.6 1874.0,1686.8 1875.0,1687.4 1876.0,1687.8 1877.0,1687.3 1878.0,1687.5 1879.0,1688.3 1880.0,1688.6 1881.0,1689.1 1882.0,1689.8 1883.0,1690.2 1884.0,1690.4 1885.0,1690.3 1886.0,1690.5 1887.0,1690.6 1888.0,1690.4 1889.0,1690.8 1890.0,1691.7 1891.0,1692.2 1892.0,1692.0 1893.0,1692.1 1894.0,1693.2 1895.0,1694.3 1896.0,1694.5 1897.0,1694.2 1898.0,1693.9 1899.0,1694.3 1900.0,1695.1 1901.0,1695.4 1902.0,1694.6 1903.0,1693.7 1904.0,1694.3 1905.0,1696.3 1906.0,1697.5 1907.0,1697.5 1908.0,1697.6 1909.0,1697.5 1910.0,1697.1 1911.0,1697.8 1912.0,1699.8 1913.0,1701.2 1914.0,1700.9 1915.0,1700.9 1916.0,1702.1 1917.0,1702.5 1918.0,1701.3 1919.0,1701.1 1920.0,1702.0 1921.0,1702.4 1922.0,1703.2 1923.0,1704.5 1924.0,1705.3 1925.0,1705.5 1926.0,1705.9 1927.0,1706.4 1928.0,1707.3 1929.0,1707.8 1930.0,1707.7 1931.0,1708.1 1932.0,1710.0 1933.0,1711.6 1934.0,1711.5 1935.0,1710.8 1936.0,1710.9 1937.0,1712.1 1938.0,1712.4 1939.0,1711.5 1940.0,1711.2 1941.0,1711.4 1942.0,1711.4 1943.0,1711.6 1944.0,1712.6 1945.0,1713.1 1946.0,1712.1 1947.0,1711.0 1948.0,1711.0 1949.0,1712.2 1950.0,1713.2 1951.0,1713.7 1952.0,1713.9 1953.0,1713.4 1954.0,1711.7 1955.0,1710.0 1956.0,1709.8 1957.0,1710.8 1958.0,1712.5 1959.0,1714.3 1960.0,1715.3 1961.0,1715.0 1962.0,1714.8 1963.0,1715.8 1964.0,1716.2 1965.0,1715.2 1966.0,1714.3 1967.0,1714.1 1968.0,1715.1 1969.0,1716.6 1970.0,1717.9 1971.0,1718.4 1972.0,1718.3 1973.0,1717.9 1974.0,1716.9 1975.0,1716.0 1976.0,1715.6 1977.0,1715.4 1978.0,1715.7 1979.0,1716.5 1980.0,1717.2 1981.0,1716.9 1982.0,1716.2 1983.0,1716.7 1984.0,1717.6 1985.0,1717.0 1986.0,1716.4 1987.0,1716.7 1988.0,1716.8 1989.0,1717.1 1990.0,1717.6 1991.0,1717.8 1992.0,1718.5 1993.0,1719.0 1994.0,1718.8 1995.0,1719.3 1996.0,1720.4 1997.0,1720.8 1998.0,1720.9 1999.0,1721.2 2000.0,1721.4 2001.0,1721.6 2002.0,1721.5 2003.0,1721.1 2004.0,1721.6 2005.0,1722.6 2006.0,1722.9 2007.0,1722.5 2008.0,1722.9 2009.0,1723.9 2010.0,1724.4 2011.0,1724.8 2012.0,1725.0 2013.0,1724.6 2014.0,1724.3 2015.0,1724.3 2016.0,1724.6 2017.0,1724.4 2018.0,1724.0 2019.0,1724.1 2020.0,1724.6 2021.0,1725.2 2022.0,1725.2 2023.0,1724.5 2024.0,1724.5 2025.0,1725.5 2026.0,1726.7 2027.0,1727.9 2028.0,1729.2 2029.0,1729.5 2030.0,1728.7 2031.0,1728.6 2032.0,1728.9 2033.0,1728.2 2034.0,1726.9 2035.0,1727.1 2036.0,1728.5 2037.0,1729.4 2038.0,1729.2 2039.0,1729.3 2040.0,1729.9 2041.0,1730.0 2042.0,1730.0 2043.0,1730.2 2044.0,1730.9 2045.0,1731.3 2046.0,1731.3 2047.0,1730.9 2048.0,1730.3 2049.0,1730.1 2050.0,1730.3 2051.0,1731.0 2052.0,1731.5 2053.0,1730.7 2054.0,1729.9 2055.0,1731.2 2056.0,1733.5 2057.0,1734.8 2058.0,1735.0 2059.0,1734.5 2060.0,1733.1 2061.0,1731.6 2062.0,1730.5 2063.0,1730.8 2064.0,1731.8 2065.0,1731.3 2066.0,1730.4 2067.0,1731.1 2068.0,1733.3 2069.0,1736.0 2070.0,1737.6 2071.0,1736.8 2072.0,1734.0 2073.0,1732.3 2074.0,1733.3 2075.0,1734.5 2076.0,1734.2 2077.0,1733.7 2078.0,1734.3 2079.0,1735.0 2080.0,1735.7 2081.0,1736.6 2082.0,1737.3 2083.0,1737.5 2084.0,1738.0 2085.0,1738.1 2086.0,1736.9 2087.0,1736.1 2088.0,1737.2 2089.0,1738.7 2090.0,1739.1 2091.0,1738.7 2092.0,1738.4 2093.0,1738.2 2094.0,1738.1 2095.0,1738.4 2096.0,1739.0 2097.0,1739.6 2098.0,1740.3 2099.0,1740.2 2100.0,1739.5 2101.0,1738.8 2102.0,1738.7 2103.0,1740.1 2104.0,1742.1 2105.0,1742.2 2106.0,1741.2 2107.0,1740.7 2108.0,1740.7 2109.0,1740.6 2110.0,1740.5 2111.0,1740.4 2112.0,1740.2 2113.0,1740.3 2114.0,1740.3 2115.0,1740.5 2116.0,1741.7 2117.0,1742.0 2118.0,1741.3 2119.0,1741.7 2120.0,1742.5 2121.0,1742.8 2122.0,1742.5 2123.0,1741.1 2124.0,1739.9 2125.0,1740.8 2126.0,1742.9 2127.0,1743.9 2128.0,1743.6 2129.0,1743.4 2130.0,1743.8 2131.0,1743.9 2132.0,1744.0 2133.0,1744.1 2134.0,1744.5 2135.0,1745.1 2136.0,1745.0 2137.0,1744.7 2138.0,1744.7 2139.0,1745.0 2140.0,1746.1 2141.0,1747.6 2142.0,1748.3 2143.0,1747.9 2144.0,1747.1 2145.0,1746.6 2146.0,1746.2 2147.0,1746.5 2148.0,1747.4 2149.0,1747.4 2150.0,1746.5 2151.0,1746.3 2152.0,1747.3 2153.0,1747.2 2154.0,1746.0 2155.0,1745.8 2156.0,1747.1 2157.0,1748.7 2158.0,1749.3 2159.0,1749.5 2160.0,1749.4 2161.0,1749.3 2162.0,1749.2 2163.0,1748.7 2164.0,1748.1 2165.0,1747.7 2166.0,1747.6 2167.0,1747.8 2168.0,1747.7 2169.0,1747.5 2170.0,1747.3 2171.0,1747.4 2172.0,1748.0 2173.0,1748.7 2174.0,1749.0 2175.0,1749.0 2176.0,1748.3 2177.0,1746.2 2178.0,1744.5 2179.0,1744.5 2180.0,1746.0 2181.0,1748.0 2182.0,1748.9 2183.0,1748.7 2184.0,1748.5 2185.0,1749.1 2186.0,1749.1 2187.0,1748.0 2188.0,1747.1 2189.0,1747.2 2190.0,1747.3 2191.0,1747.3 2192.0,1747.6 2193.0,1747.8 2194.0,1747.7 2195.0,1747.8 2196.0,1747.1 2197.0,1746.4 2198.0,1746.7 2199.0,1747.2 2200.0,1747.0 2201.0,1746.4 2202.0,1745.8 2203.0,1745.0 2204.0,1744.4 2205.0,1744.5 2206.0,1744.6 2207.0,1744.8 2208.0,1745.5 2209.0,1746.3 2210.0,1746.5 2211.0,1745.0 2212.0,1743.6 2213.0,1744.0 2214.0,1744.7 2215.0,1744.1 2216.0,1743.1 2217.0,1743.1 2218.0,1743.1 2219.0,1743.1 2220.0,1743.4 2221.0,1743.2 2222.0,1742.9 2223.0,1743.3 2224.0,1743.5 2225.0,1743.3 2226.0,1742.8 2227.0,1742.5 2228.0,1742.2 2229.0,1742.7 2230.0,1744.5 2231.0,1745.8 2232.0,1745.6 2233.0,1744.7 2234.0,1744.3 2235.0,1744.2 2236.0,1744.2 2237.0,1744.6 2238.0,1745.1 2239.0,1745.1 2240.0,1745.5 2241.0,1747.0 2242.0,1748.4 2243.0,1748.4 2244.0,1747.9 2245.0,1748.2 2246.0,1749.4 2247.0,1750.1 2248.0,1750.2 2249.0,1750.3 2250.0,1750.5 2251.0,1750.9 2252.0,1750.9 2253.0,1751.1 2254.0,1751.6 2255.0,1751.9 2256.0,1752.9 2257.0,1754.2 2258.0,1754.7 2259.0,1754.8 2260.0,1755.8 2261.0,1757.3 2262.0,1758.4 2263.0,1759.3 2264.0,1760.0 2265.0,1760.2 2266.0,1760.2 2267.0,1759.5 2268.0,1759.3 2269.0,1760.3 2270.0,1761.9 2271.0,1763.2 2272.0,1763.8 2273.0,1763.5 2274.0,1763.1 2275.0,1763.0 2276.0,1763.1 2277.0,1763.9 2278.0,1764.8 2279.0,1765.2 2280.0,1765.3 2281.0,1765.7 2282.0,1765.8 2283.0,1765.4 2284.0,1765.2 2285.0,1766.0 2286.0,1767.2 2287.0,1767.9 2288.0,1768.0 2289.0,1768.2 2290.0,1769.5 2291.0,1770.1 2292.0,1769.2 2293.0,1768.4 2294.0,1769.0 2295.0,1769.9 2296.0,1770.2 2297.0,1770.7 2298.0,1771.3 2299.0,1771.0 2300.0,1770.7 2301.0,1771.6 2302.0,1772.3 2303.0,1772.8 2304.0,1773.6 2305.0,1773.5 2306.0,1772.6 2307.0,1772.3 2308.0,1772.3 2309.0,1772.5 2310.0,1772.6 2311.0,1772.5 2312.0,1772.7 2313.0,1773.5 2314.0,1774.3 2315.0,1774.9 2316.0,1775.2 2317.0,1775.2 2318.0,1775.0 2319.0,1774.7 2320.0,1774.7 2321.0,1774.8 2322.0,1774.7 2323.0,1775.8 2324.0,1777.4 2325.0,1777.1 2326.0,1776.3 2327.0,1776.0 2328.0,1776.9 2329.0,1778.7 2330.0,1779.0 2331.0,1777.4 2332.0,1775.9 2333.0,1775.9 2334.0,1777.2 2335.0,1778.2 2336.0,1778.7 2337.0,1779.3 2338.0,1779.9 2339.0,1780.1 2340.0,1779.6 2341.0,1779.2 2342.0,1779.2 2343.0,1779.2 2344.0,1779.7 2345.0,1780.4 2346.0,1780.5 2347.0,1780.5 2348.0,1780.8 2349.0,1781.2 2350.0,1781.3 2351.0,1781.5 2352.0,1782.3 2353.0,1783.2 2354.0,1783.8 2355.0,1783.7 2356.0,1783.4 2357.0,1783.9 2358.0,1784.5 2359.0,1784.2"/>
<polyline fill="none" stroke="#a07d75" stroke-width="8.4" stroke-linejoin="round" stroke-linecap="butt" points="244.0,1452.6 245.0,1450.3 246.0,1448.6 247.0,1446.9 248.0,1444.8 249.0,1443.1 250.0,1441.9 251.0,1440.3 252.0,1438.5 253.0,1436.3 254.0,1434.8 255.0,1433.6 256.0,1431.0 257.0,1427.7 258.0,1425.3 259.0,1423.1 260.0,1420.3 261.0,1416.9 262.0,1413.3 263.0,1410.4 264.0,1408.1 265.0,1406.0 266.0,1404.6 267.0,1402.8 268.0,1399.6 269.0,1396.1 270.0,1393.8 271.0,1392.3 272.0,1390.4 273.0,1388.9 274.0,1387.8 275.0,1387.0 276.0,1387.2 277.0,1388.0 278.0,1388.2 279.0,1388.6 280.0,1390.0 281.0,1391.5 282.0,1392.0 283.0,1391.7 284.0,1392.1 285.0,1393.1 286.0,1393.6 287.0,1392.8 288.0,1389.5 289.0,1385.3 290.0,1382.0 291.0,1379.7 292.0,1377.0 293.0,1372.8 294.0,1368.1 295.0,1362.9 296.0,1356.2 297.0,1349.8 298.0,1344.7 299.0,1340.1 300.0,1337.5 301.0,1336.9 302.0,1337.2 303.0,1338.1 304.0,1339.1 305.0,1340.2 306.0,1342.4 307.0,1344.8 308.0,1347.4 309.0,1350.5 310.0,1353.2 311.0,1355.0 312.0,1357.2 313.0,1359.4 314.0,1360.0 315.0,1359.9 316.0,1360.0 317.0,1360.0 318.0,1360.0 319.0,1360.5 320.0,1360.5 321.0,1359.3 322.0,1357.8 323.0,1356.6 324.0,1355.8 325.0,1355.1 326.0,1355.0 327.0,1355.4 328.0,1355.1 329.0,1353.7 330.0,1351.7 330.6,1349.9 331.0,1348.2 331.6,1345.5 332.0,1343.2 332.6,1339.8 333.0,1337.1 333.6,1333.4 334.0,1330.6 334.6,1326.7 335.0,1323.8 335.6,1318.6 336.0,1315.0 336.6,1308.3 337.0,1304.0 337.6,1296.5 338.0,1291.9 338.7,1283.5 339.0,1278.6 339.7,1268.4 340.0,1262.8 340.7,1250.2 341.0,1243.6 341.7,1228.1 342.0,1220.4 342.7,1201.4 343.0,1192.5 343.7,1169.7 344.0,1159.8 344.7,1132.9 345.0,1122.0 345.7,1090.8 346.0,1079.2 346.8,1044.9 347.0,1033.3 347.8,998.6 348.0,988.3 348.8,957.5 349.0,949.7 349.8,928.3 350.0,924.4 350.8,917.6 351.0,918.0 351.8,927.9 352.0,932.0 352.8,956.8 353.0,963.2 353.8,997.6 354.0,1004.8 354.9,1043.4 355.0,1050.2 355.9,1088.6 356.0,1094.5 356.9,1130.2 357.0,1135.0 357.9,1166.6 358.0,1170.3 358.9,1197.5 359.0,1200.3 359.9,1223.6 360.0,1225.6 360.9,1245.7 361.0,1247.2 361.9,1265.0 362.0,1266.1 362.9,1281.5 363.0,1282.3 364.0,1294.5 364.0,1295.0 365.0,1304.8 365.0,1305.0 366.0,1313.7 366.0,1313.8 367.0,1321.5 368.0,1328.7 368.0,1328.8 369.0,1335.2 369.0,1335.4 370.0,1340.4 370.0,1340.6 371.0,1344.6 371.1,1344.7 372.0,1347.5 373.0,1349.1 374.0,1350.8 375.0,1353.1 376.0,1355.8 377.0,1359.0 378.0,1361.5 379.0,1362.6 380.0,1363.0 381.0,1363.8 382.0,1365.3 383.0,1366.8 384.0,1367.1 385.0,1366.6 386.0,1366.4 387.0,1366.2 388.0,1366.1 389.0,1366.7 390.0,1367.4 391.0,1367.5 392.0,1367.5 393.0,1367.6 394.0,1367.1 395.0,1365.9 396.0,1365.4 397.0,1365.7 398.0,1366.5 399.0,1367.4 400.0,1367.6 401.0,1366.8 402.0,1366.1 403.0,1366.0 404.0,1365.6 405.0,1365.0 406.0,1365.4 407.0,1366.4 408.0,1365.8 409.0,1364.4 410.0,1364.3 411.0,1364.0 412.0,1362.9 413.0,1361.4 414.0,1359.3 415.0,1357.2 416.0,1356.4 417.0,1356.9 418.0,1357.7 419.0,1358.0 420.0,1357.2 421.0,1355.9 422.0,1355.1 423.0,1355.5 424.0,1357.2 425.0,1359.5 426.0,1360.0 427.0,1359.7 428.0,1360.4 429.0,1361.0 430.0,1360.1 431.0,1359.4 432.0,1359.3 433.0,1358.1 434.0,1355.7 435.0,1354.1 436.0,1353.7 437.0,1353.5 438.0,1352.5 439.0,1350.7 440.0,1349.7 441.0,1348.6 442.0,1346.1 443.0,1343.7 444.0,1342.4 445.0,1341.5 446.0,1339.7 447.0,1337.4 448.0,1336.0 449.0,1335.8 450.0,1335.4 451.0,1334.0 452.0,1332.8 453.0,1331.6 454.0,1328.6 455.0,1324.5 456.0,1321.1 457.0,1318.6 458.0,1316.2 459.0,1313.1 460.0,1309.8 461.0,1306.6 462.0,1303.2 463.0,1299.3 464.0,1294.8 465.0,1289.5 466.0,1284.5 467.0,1279.6 468.0,1274.4 469.0,1268.1 470.0,1259.9 470.8,1252.9 471.0,1250.5 471.9,1242.0 472.0,1241.2 473.0,1231.6 473.1,1230.8 474.0,1220.2 474.2,1217.1 475.0,1206.4 475.4,1200.4 476.0,1190.9 476.6,1181.5 477.0,1173.6 477.7,1158.7 478.0,1152.7 478.9,1131.0 479.0,1128.1 480.0,1100.9 480.1,1099.4 481.0,1070.5 481.2,1063.5 482.0,1035.4 482.4,1020.7 483.0,994.3 483.5,969.4 484.0,946.2 484.7,907.9 485.0,890.2 485.9,834.8 486.0,825.3 487.0,751.2 487.0,749.2 488.0,668.3 488.2,652.0 489.0,578.5 489.4,546.1 490.0,485.7 490.5,439.0 491.0,396.6 491.7,343.4 492.0,321.0 492.8,275.9 493.0,269.6 494.0,251.3 495.0,269.4 495.2,275.6 496.0,320.4 496.3,342.7 497.0,395.7 497.5,438.1 498.0,484.9 498.6,545.3 499.0,577.7 499.8,651.0 500.0,667.4 501.0,748.3 501.0,750.3 502.0,824.1 502.1,833.5 503.0,888.2 503.3,905.7 504.0,943.6 504.5,966.8 505.0,991.8 505.6,1018.9 506.0,1034.0 506.8,1062.8 507.0,1069.9 507.9,1098.4 508.0,1099.8 509.0,1125.8 509.1,1128.5 510.0,1148.6 510.3,1154.2 511.0,1167.9 511.4,1175.5 512.0,1184.7 512.6,1194.0 513.0,1199.7 513.8,1210.2 514.0,1213.3 514.9,1224.6 515.0,1225.5 516.0,1235.9 516.1,1236.7 517.0,1244.3 517.2,1245.8 518.0,1248.8 519.0,1250.1 520.0,1249.7 521.0,1249.1 522.0,1248.5 523.0,1247.3 524.0,1245.9 525.0,1243.8 526.0,1241.0 527.0,1237.6 528.0,1232.7 529.0,1226.8 530.0,1222.4 531.0,1219.9 532.0,1217.0 533.0,1213.6 534.0,1211.2 535.0,1211.0 536.0,1212.5 537.0,1214.7 538.0,1216.2 539.0,1217.8 540.0,1223.7 541.0,1232.8 542.0,1242.2 543.0,1250.2 544.0,1257.0 545.0,1263.3 546.0,1269.3 547.0,1275.0 548.0,1280.8 549.0,1285.9 550.0,1289.2 551.0,1291.8 552.0,1294.5 553.0,1296.6 554.0,1297.7 555.0,1299.1 556.0,1300.8 557.0,1302.1 558.0,1302.6 559.0,1303.5 560.0,1305.2 561.0,1306.6 562.0,1306.6 563.0,1306.9 564.0,1307.3 565.0,1306.8 566.0,1307.0 567.0,1307.4 568.0,1306.9 569.0,1306.5 570.0,1306.2 571.0,1305.1 572.0,1303.5 573.0,1302.1 574.0,1301.5 575.0,1301.8 576.0,1302.3 577.0,1302.4 578.0,1301.2 579.0,1299.8 580.0,1299.9 581.0,1300.3 582.0,1299.5 583.0,1298.0 584.0,1296.5 584.5,1296.3 585.0,1296.2 585.8,1296.7 586.0,1296.9 587.0,1296.9 587.0,1296.8 588.0,1295.6 588.3,1295.1 589.0,1293.9 589.6,1292.6 590.0,1291.6 590.9,1289.4 591.0,1289.1 592.0,1286.9 592.1,1286.5 593.0,1283.7 593.4,1281.7 594.0,1278.2 594.7,1273.4 595.0,1271.3 596.0,1264.2 596.0,1264.0 597.0,1256.3 597.2,1254.1 598.0,1247.0 598.5,1241.1 599.0,1235.3 599.8,1224.5 600.0,1221.7 601.0,1206.6 601.1,1205.4 602.0,1189.9 602.4,1183.5 603.0,1171.1 603.6,1158.5 604.0,1150.6 604.9,1131.3 605.0,1129.1 606.0,1107.4 606.2,1103.7 607.0,1086.9 607.5,1078.6 608.0,1069.7 608.7,1060.6 609.0,1058.1 610.0,1053.6 611.0,1056.9 611.3,1059.1 612.0,1067.2 612.5,1075.4 613.0,1083.1 613.8,1098.9 614.0,1102.5 615.0,1123.6 615.1,1125.8 616.0,1144.6 616.4,1152.2 617.0,1164.3 617.6,1176.1 618.0,1182.2 618.9,1197.2 619.0,1198.4 620.0,1212.5 620.2,1215.1 621.0,1224.7 621.5,1229.8 622.0,1235.1 622.8,1241.8 623.0,1243.8 624.0,1251.6 624.0,1251.8 625.0,1258.5 625.3,1260.5 626.0,1265.0 626.6,1268.7 627.0,1271.3 627.9,1275.8 628.0,1276.5 629.0,1279.8 629.1,1280.2 630.0,1282.8 630.4,1284.3 631.0,1286.5 631.7,1288.8 632.0,1289.9 633.0,1292.4 633.0,1292.5 634.0,1295.2 634.2,1295.8 635.0,1298.8 635.5,1301.1 636.0,1303.6 637.0,1308.8 638.0,1312.3 639.0,1313.7 640.0,1315.8 641.0,1318.8 642.0,1321.3 643.0,1322.5 644.0,1322.8 645.0,1323.3 646.0,1324.2 647.0,1324.8 648.0,1325.5 649.0,1326.5 650.0,1326.1 651.0,1324.7 652.0,1324.1 653.0,1324.2 654.0,1323.8 655.0,1323.2 656.0,1322.4 657.0,1321.7 658.0,1322.6 659.0,1324.0 660.0,1324.2 661.0,1323.2 662.0,1322.2 663.0,1322.1 664.0,1322.5 665.0,1322.9 666.0,1322.8 667.0,1321.5 668.0,1319.3 669.0,1317.4 670.0,1316.5 671.0,1317.0 672.0,1317.8 673.0,1318.1 674.0,1317.8 675.0,1317.1 676.0,1315.9 677.0,1315.3 678.0,1315.3 679.0,1315.2 680.0,1315.1 681.0,1315.5 682.0,1316.7 683.0,1318.5 684.0,1320.3 685.0,1321.4 686.0,1321.7 687.0,1322.5 688.0,1323.7 689.0,1324.9 690.0,1327.4 691.0,1329.3 692.0,1330.3 693.0,1331.7 694.0,1331.9 695.0,1330.3 696.0,1329.8 697.0,1330.8 698.0,1331.8 699.0,1332.3 700.0,1332.7 701.0,1332.9 702.0,1332.7 703.0,1334.1 704.0,1336.6 705.0,1337.9 706.0,1338.8 707.0,1339.4 708.0,1339.2 709.0,1338.7 710.0,1338.6 711.0,1339.2 712.0,1340.5 713.0,1341.1 714.0,1341.0 715.0,1341.3 716.0,1341.0 717.0,1339.4 718.0,1338.5 719.0,1339.3 720.0,1339.9 721.0,1339.4 722.0,1339.3 723.0,1340.8 724.0,1342.0 725.0,1341.8 726.0,1341.1 727.0,1340.4 728.0,1340.0 729.0,1340.4 730.0,1341.6 731.0,1342.7 732.0,1342.9 733.0,1341.8 734.0,1341.1 735.0,1341.8 736.0,1342.5 737.0,1342.7 738.0,1342.7 739.0,1342.0 740.0,1341.5 741.0,1341.6 742.0,1341.5 743.0,1341.9 744.0,1342.7 745.0,1343.9 746.0,1344.9 747.0,1345.2 748.0,1345.0 749.0,1344.4 750.0,1343.7 751.0,1344.2 752.0,1344.9 753.0,1344.9 754.0,1344.6 755.0,1344.6 756.0,1345.3 757.0,1345.7 758.0,1344.7 759.0,1342.9 760.0,1342.0 761.0,1342.6 762.0,1344.2 763.0,1345.1 764.0,1344.6 765.0,1343.9 766.0,1343.5 767.0,1343.5 768.0,1343.1 769.0,1343.0 770.0,1344.1 771.0,1344.7 772.0,1343.8 773.0,1342.3 774.0,1342.1 775.0,1343.6 776.0,1345.1 777.0,1345.4 778.0,1344.5 779.0,1343.4 780.0,1343.2 781.0,1343.6 782.0,1343.5 783.0,1343.9 784.0,1344.4 785.0,1343.1 786.0,1341.1 787.0,1340.3 788.0,1340.8 789.0,1341.9 790.0,1342.5 791.0,1342.3 792.0,1342.8 793.0,1343.9 794.0,1344.0 795.0,1343.8 796.0,1344.1 797.0,1343.6 798.0,1343.1 799.0,1343.7 800.0,1343.0 801.0,1340.9 802.0,1339.5 803.0,1339.3 804.0,1340.2 805.0,1341.4 806.0,1342.3 807.0,1343.9 808.0,1345.3 809.0,1344.8 810.0,1343.3 811.0,1342.4 812.0,1342.3 813.0,1342.0 814.0,1340.1 815.0,1336.7 816.0,1334.0 817.0,1332.7 818.0,1332.3 819.0,1332.7 820.0,1333.2 821.0,1332.3 822.0,1330.7 823.0,1329.6 824.0,1329.3 825.0,1329.7 826.0,1329.9 827.0,1331.3 828.0,1334.3 829.0,1336.0 830.0,1334.3 831.0,1331.8 832.0,1331.2 833.0,1332.4 834.0,1334.2 835.0,1336.0 836.0,1337.3 837.0,1337.8 838.0,1337.5 839.0,1337.1 840.0,1337.5 841.0,1338.3 842.0,1339.0 843.0,1341.0 844.0,1343.7 845.0,1345.1 846.0,1345.7 847.0,1345.8 848.0,1346.0 849.0,1346.8 850.0,1348.1 851.0,1349.4 852.0,1350.6 853.0,1351.1 854.0,1351.5 855.0,1353.3 856.0,1355.9 857.0,1357.2 858.0,1356.8 859.0,1356.7 860.0,1357.7 861.0,1357.9 862.0,1357.4 863.0,1358.3 864.0,1360.0 865.0,1360.1 866.0,1360.0 867.0,1360.6 868.0,1361.2 869.0,1361.4 870.0,1360.7 871.0,1360.3 872.0,1361.6 873.0,1363.5 874.0,1364.2 875.0,1364.3 876.0,1365.5 877.0,1367.1 878.0,1367.1 879.0,1366.1 880.0,1366.0 881.0,1367.1 882.0,1369.0 883.0,1370.6 884.0,1371.1 885.0,1371.1 886.0,1371.6 887.0,1372.3 888.0,1372.6 889.0,1373.1 890.0,1373.7 891.0,1373.5 892.0,1372.9 893.0,1372.8 894.0,1373.7 895.0,1375.0 896.0,1375.6 897.0,1376.2 898.0,1377.3 899.0,1376.9 900.0,1374.8 901.0,1372.4 902.0,1370.5 903.0,1370.3 904.0,1371.7 905.0,1373.3 906.0,1373.6 907.0,1372.6 908.0,1372.2 909.0,1372.9 910.0,1374.2 911.0,1375.0 912.0,1374.2 913.0,1373.4 914.0,1373.9 915.0,1374.4 916.0,1374.1 917.0,1373.2 918.0,1372.2 919.0,1371.7 920.0,1371.4 921.0,1371.4 922.0,1371.0 923.0,1370.1 924.0,1370.2 925.0,1370.7 926.0,1370.7 927.0,1370.8 928.0,1370.9 929.0,1370.1 930.0,1369.8 931.0,1370.7 932.0,1371.0 933.0,1370.2 934.0,1369.8 935.0,1370.3 936.0,1371.6 937.0,1372.8 938.0,1372.5 939.0,1371.4 940.0,1371.3 941.0,1372.1 942.0,1372.4 943.0,1372.8 944.0,1373.4 945.0,1373.5 946.0,1373.6 947.0,1374.4 948.0,1375.6 949.0,1377.0 950.0,1377.7 951.0,1376.8 952.0,1375.2 953.0,1374.8 954.0,1375.5 955.0,1375.4 956.0,1374.2 957.0,1372.7 958.0,1371.8 959.0,1371.9 960.0,1371.5 961.0,1370.6 962.0,1369.9 963.0,1369.4 964.0,1368.4 965.0,1367.0 966.0,1365.6 967.0,1364.4 968.0,1363.5 969.0,1362.1 970.0,1360.1 971.0,1358.6 972.0,1357.6 973.0,1356.2 974.0,1354.4 975.0,1352.8 976.0,1351.0 977.0,1349.6 978.0,1347.9 979.0,1345.4 980.0,1343.7 981.0,1342.7 982.0,1340.8 983.0,1338.4 984.0,1336.1 985.0,1334.9 986.0,1334.0 987.0,1332.6 988.0,1332.2 989.0,1333.0 990.0,1334.5 991.0,1336.0 992.0,1337.2 993.0,1338.1 994.0,1339.3 995.0,1341.2 996.0,1343.8 997.0,1346.9 998.0,1349.0 999.0,1349.3 1000.0,1350.0 1001.0,1351.6 1002.0,1353.2 1003.0,1355.1 1004.0,1357.4 1005.0,1360.2 1006.0,1363.4 1007.0,1366.0 1008.0,1367.5 1009.0,1368.8 1010.0,1370.7 1011.0,1373.0 1012.0,1374.7 1013.0,1374.6 1014.0,1374.3 1015.0,1375.7 1016.0,1377.6 1017.0,1378.8 1018.0,1378.7 1019.0,1378.0 1020.0,1378.3 1021.0,1379.5 1022.0,1380.5 1023.0,1381.7 1024.0,1383.3 1025.0,1384.3 1026.0,1384.3 1027.0,1384.7 1028.0,1387.0 1029.0,1389.7 1030.0,1390.5 1031.0,1389.9 1032.0,1389.9 1033.0,1391.0 1034.0,1392.2 1035.0,1392.0 1036.0,1391.9 1037.0,1392.6 1038.0,1394.1 1039.0,1395.4 1040.0,1395.4 1041.0,1395.6 1042.0,1396.2 1043.0,1396.1 1044.0,1396.4 1045.0,1396.9 1046.0,1397.0 1047.0,1396.6 1048.0,1395.4 1049.0,1394.6 1050.0,1394.7 1051.0,1395.4 1052.0,1395.9 1053.0,1395.7 1054.0,1396.0 1055.0,1396.6 1056.0,1396.6 1057.0,1396.9 1058.0,1397.7 1059.0,1398.2 1060.0,1397.6 1061.0,1395.7 1062.0,1394.4 1063.0,1394.5 1064.0,1394.7 1065.0,1395.0 1066.0,1395.3 1067.0,1395.1 1068.0,1394.9 1069.0,1395.5 1070.0,1396.2 1071.0,1396.0 1072.0,1394.6 1073.0,1393.2 1074.0,1393.3 1075.0,1393.9 1076.0,1393.8 1077.0,1392.9 1078.0,1392.8 1079.0,1393.7 1080.0,1395.0 1081.0,1396.8 1082.0,1398.7 1083.0,1400.0 1084.0,1400.6 1085.0,1400.8 1086.0,1400.8 1087.0,1400.8 1088.0,1401.5 1089.0,1401.9 1090.0,1402.3 1091.0,1403.1 1092.0,1403.4 1093.0,1402.9 1094.0,1402.2 1095.0,1402.7 1096.0,1404.1 1097.0,1405.9 1098.0,1407.5 1099.0,1408.5 1100.0,1409.1 1101.0,1410.2 1102.0,1411.7 1103.0,1412.7 1104.0,1412.7 1105.0,1412.5 1106.0,1412.8 1107.0,1412.9 1108.0,1413.0 1109.0,1413.2 1110.0,1413.0 1111.0,1412.4 1112.0,1412.5 1113.0,1413.8 1114.0,1415.4 1115.0,1416.3 1116.0,1416.4 1117.0,1416.7 1118.0,1417.3 1119.0,1418.5 1120.0,1419.7 1121.0,1419.3 1122.0,1418.5 1123.0,1419.4 1124.0,1421.0 1125.0,1421.7 1126.0,1421.6 1127.0,1421.0 1128.0,1420.7 1129.0,1421.2 1130.0,1421.9 1131.0,1422.5 1132.0,1422.9 1133.0,1422.9 1134.0,1423.1 1135.0,1424.0 1136.0,1425.0 1137.0,1425.8 1138.0,1426.7 1139.0,1427.0 1140.0,1426.9 1141.0,1426.7 1142.0,1425.4 1143.0,1423.7 1144.0,1423.1 1145.0,1423.4 1146.0,1424.1 1147.0,1424.9 1148.0,1425.5 1149.0,1426.2 1150.0,1426.8 1151.0,1426.8 1152.0,1426.3 1153.0,1425.6 1154.0,1425.2 1155.0,1425.1 1156.0,1424.9 1157.0,1424.5 1158.0,1424.9 1159.0,1425.8 1160.0,1425.9 1161.0,1425.5 1162.0,1425.7 1163.0,1426.0 1164.0,1426.3 1165.0,1427.2 1166.0,1427.9 1167.0,1427.5 1168.0,1427.3 1169.0,1427.1 1170.0,1426.4 1171.0,1425.3 1172.0,1424.6 1173.0,1424.7 1174.0,1424.8 1175.0,1424.1 1176.0,1423.2 1177.0,1423.3 1178.0,1424.5 1179.0,1425.9 1180.0,1427.3 1181.0,1427.7 1182.0,1426.6 1183.0,1425.0 1184.0,1424.3 1185.0,1425.0 1186.0,1425.9 1187.0,1425.3 1188.0,1424.4 1189.0,1424.9 1190.0,1426.3 1191.0,1427.0 1192.0,1426.4 1193.0,1426.2 1194.0,1427.1 1195.0,1427.8 1196.0,1428.0 1197.0,1427.9 1198.0,1427.5 1199.0,1427.5 1200.0,1429.1 1201.0,1431.1 1202.0,1431.9 1203.0,1431.3 1204.0,1430.6 1205.0,1430.9 1206.0,1431.7 1207.0,1432.4 1208.0,1433.3 1209.0,1434.4 1210.0,1435.1 1211.0,1435.0 1212.0,1434.1 1213.0,1433.5 1214.0,1433.9 1215.0,1433.6 1216.0,1432.9 1217.0,1432.8 1218.0,1433.6 1219.0,1436.0 1220.0,1438.6 1221.0,1439.5 1222.0,1439.1 1223.0,1438.2 1224.0,1437.7 1225.0,1437.7 1226.0,1437.4 1227.0,1436.9 1228.0,1438.0 1229.0,1439.9 1230.0,1440.8 1231.0,1440.2 1232.0,1439.2 1233.0,1439.2 1234.0,1440.1 1235.0,1440.7 1236.0,1440.8 1237.0,1441.1 1238.0,1440.4 1239.0,1439.4 1240.0,1440.1 1241.0,1441.8 1242.0,1442.7 1243.0,1442.3 1244.0,1441.3 1245.0,1440.9 1246.0,1440.8 1247.0,1440.3 1248.0,1440.1 1249.0,1440.8 1250.0,1441.1 1251.0,1441.0 1252.0,1441.8 1253.0,1442.4 1254.0,1441.4 1255.0,1441.1 1256.0,1442.4 1257.0,1442.6 1258.0,1440.5 1259.0,1438.3 1260.0,1437.2 1261.0,1437.1 1262.0,1437.3 1263.0,1437.9 1264.0,1438.9 1265.0,1438.4 1266.0,1437.6 1267.0,1438.4 1268.0,1440.0 1269.0,1441.2 1270.0,1441.7 1271.0,1441.4 1272.0,1441.4 1273.0,1442.2 1274.0,1443.1 1275.0,1444.4 1276.0,1445.1 1277.0,1444.8 1278.0,1444.4 1279.0,1444.5 1280.0,1444.3 1281.0,1443.3 1282.0,1442.8 1283.0,1443.6 1284.0,1444.5 1285.0,1445.2 1286.0,1446.0 1287.0,1446.9 1288.0,1447.8 1289.0,1448.5 1290.0,1449.1 1291.0,1449.1 1292.0,1448.8 1293.0,1449.1 1294.0,1450.0 1295.0,1450.6 1296.0,1451.2 1297.0,1451.9 1298.0,1451.5 1299.0,1450.6 1300.0,1451.0 1301.0,1452.5 1302.0,1452.9 1303.0,1452.8 1304.0,1452.9 1305.0,1453.3 1306.0,1454.0 1307.0,1453.9 1308.0,1453.3 1309.0,1452.5 1310.0,1452.4 1311.0,1453.4 1312.0,1454.7 1313.0,1456.1 1314.0,1457.0 1315.0,1456.8 1316.0,1455.5 1317.0,1454.4 1318.0,1454.3 1319.0,1453.6 1320.0,1452.0 1321.0,1451.4 1322.0,1452.6 1323.0,1454.2 1324.0,1455.1 1325.0,1455.1 1326.0,1454.5 1327.0,1454.5 1328.0,1455.0 1329.0,1455.8 1330.0,1457.0 1331.0,1458.0 1332.0,1457.8 1333.0,1456.8 1334.0,1456.4 1335.0,1457.0 1336.0,1457.8 1337.0,1457.8 1338.0,1456.9 1339.0,1456.5 1340.0,1457.4 1341.0,1458.6 1342.0,1459.5 1343.0,1460.3 1344.0,1460.7 1345.0,1459.9 1346.0,1458.3 1347.0,1457.8 1348.0,1458.2 1349.0,1458.4 1350.0,1459.0 1351.0,1460.3 1352.0,1461.3 1353.0,1461.0 1354.0,1460.1 1355.0,1459.9 1356.0,1460.0 1357.0,1460.0 1358.0,1460.4 1359.0,1461.3 1360.0,1461.9 1361.0,1462.2 1362.0,1462.4 1363.0,1462.3 1364.0,1462.6 1365.0,1463.8 1366.0,1464.6 1367.0,1463.7 1368.0,1461.9 1369.0,1461.6 1370.0,1463.6 1371.0,1464.7 1372.0,1463.9 1373.0,1463.9 1374.0,1464.3 1375.0,1464.3 1376.0,1465.0 1377.0,1466.3 1378.0,1466.4 1379.0,1465.8 1380.0,1465.2 1381.0,1465.6 1382.0,1467.6 1383.0,1468.5 1384.0,1467.5 1385.0,1466.6 1386.0,1466.4 1387.0,1466.6 1388.0,1467.6 1389.0,1468.5 1390.0,1468.3 1391.0,1467.7 1392.0,1467.3 1393.0,1467.2 1394.0,1467.2 1395.0,1468.3 1396.0,1470.3 1397.0,1471.5 1398.0,1471.8 1399.0,1470.8 1400.0,1469.7 1401.0,1470.2 1402.0,1471.4 1403.0,1471.9 1404.0,1470.9 1405.0,1470.0 1406.0,1470.7 1407.0,1471.6 1408.0,1471.0 1409.0,1469.7 1410.0,1469.5 1411.0,1470.3 1412.0,1471.4 1413.0,1471.7 1414.0,1470.5 1415.0,1469.4 1416.0,1469.1 1417.0,1469.1 1418.0,1469.5 1419.0,1469.5 1420.0,1468.6 1421.0,1467.9 1422.0,1467.8 1423.0,1467.7 1424.0,1468.6 1425.0,1469.9 1426.0,1470.3 1427.0,1470.2 1428.0,1471.1 1429.0,1471.7 1430.0,1471.0 1431.0,1471.1 1432.0,1471.6 1433.0,1471.0 1434.0,1469.8 1435.0,1469.1 1436.0,1468.7 1437.0,1468.9 1438.0,1469.7 1439.0,1470.0 1440.0,1469.6 1441.0,1469.3 1442.0,1469.2 1443.0,1468.8 1444.0,1467.9 1445.0,1467.1 1446.0,1467.0 1447.0,1467.9 1448.0,1470.2 1449.0,1472.3 1450.0,1472.5 1451.0,1471.2 1452.0,1469.6 1453.0,1468.7 1454.0,1468.9 1455.0,1469.8 1456.0,1470.4 1457.0,1470.8 1458.0,1471.7 1459.0,1472.7 1460.0,1473.3 1461.0,1474.3 1462.0,1475.1 1463.0,1475.1 1464.0,1474.1 1465.0,1472.9 1466.0,1472.3 1467.0,1472.7 1468.0,1474.1 1469.0,1474.8 1470.0,1474.7 1471.0,1474.1 1472.0,1473.8 1473.0,1474.4 1474.0,1474.7 1475.0,1474.7 1476.0,1475.0 1477.0,1474.6 1478.0,1474.4 1479.0,1475.7 1480.0,1477.0 1481.0,1476.8 1482.0,1476.5 1483.0,1477.3 1484.0,1477.3 1485.0,1476.4 1486.0,1476.4 1487.0,1476.2 1488.0,1474.7 1489.0,1474.5 1490.0,1476.4 1491.0,1477.8 1492.0,1478.0 1493.0,1478.0 1494.0,1478.6 1495.0,1478.9 1496.0,1478.4 1497.0,1478.0 1498.0,1478.2 1499.0,1477.9 1500.0,1477.1 1501.0,1477.0 1502.0,1477.7 1503.0,1478.9 1504.0,1479.7 1505.0,1479.4 1506.0,1479.4 1507.0,1480.3 1508.0,1481.5 1509.0,1482.0 1510.0,1481.7 1511.0,1481.8 1512.0,1482.3 1513.0,1482.3 1514.0,1481.5 1515.0,1480.5 1516.0,1480.5 1517.0,1481.0 1518.0,1480.6 1519.0,1479.3 1520.0,1478.7 1521.0,1479.7 1522.0,1480.7 1523.0,1480.2 1524.0,1479.0 1525.0,1478.4 1526.0,1478.6 1527.0,1478.9 1528.0,1478.3 1529.0,1476.9 1530.0,1475.9 1531.0,1476.0 1532.0,1476.9 1533.0,1477.2 1534.0,1477.3 1535.0,1477.4 1536.0,1476.9 1537.0,1475.6 1538.0,1474.3 1539.0,1473.1 1540.0,1471.9 1541.0,1471.0 1542.0,1470.4 1543.0,1470.5 1544.0,1471.5 1545.0,1472.3 1546.0,1471.4 1547.0,1470.1 1548.0,1470.3 1549.0,1470.3 1550.0,1468.7 1551.0,1467.5 1552.0,1466.7 1553.0,1466.4 1554.0,1468.0 1555.0,1470.0 1556.0,1470.4 1557.0,1469.0 1558.0,1467.3 1559.0,1466.9 1560.0,1467.3 1561.0,1467.8 1562.0,1467.9 1563.0,1467.2 1564.0,1466.2 1565.0,1465.1 1566.0,1464.3 1567.0,1464.5 1568.0,1465.1 1569.0,1464.1 1570.0,1462.4 1571.0,1462.1 1572.0,1462.8 1573.0,1463.9 1574.0,1464.4 1575.0,1463.4 1576.0,1461.5 1577.0,1459.1 1578.0,1456.9 1579.0,1456.0 1580.0,1455.8 1581.0,1455.6 1582.0,1455.3 1583.0,1455.3 1584.0,1455.3 1585.0,1454.3 1586.0,1453.0 1587.0,1452.4 1588.0,1452.3 1589.0,1451.6 1590.0,1450.3 1591.0,1449.3 1592.0,1448.8 1593.0,1448.0 1594.0,1447.1 1595.0,1446.6 1596.0,1446.3 1597.0,1446.8 1598.0,1447.8 1599.0,1448.9 1600.0,1450.8 1601.0,1453.3 1602.0,1455.1 1603.0,1455.2 1604.0,1453.8 1605.0,1452.6 1606.0,1452.5 1607.0,1452.5 1608.0,1452.7 1609.0,1453.3 1610.0,1454.5 1611.0,1455.6 1612.0,1456.2 1613.0,1457.1 1614.0,1458.5 1615.0,1459.6 1616.0,1460.3 1617.0,1460.6 1618.0,1460.8 1619.0,1461.1 1620.0,1462.0 1621.0,1464.1 1622.0,1466.0 1623.0,1466.1 1624.0,1465.2 1625.0,1464.7 1626.0,1465.7 1627.0,1467.7 1628.0,1470.2 1629.0,1471.8 1630.0,1471.8 1631.0,1472.0 1632.0,1472.3 1633.0,1471.6 1634.0,1471.1 1635.0,1472.4 1636.0,1474.3 1637.0,1475.0 1638.0,1474.6 1639.0,1474.5 1640.0,1474.8 1641.0,1474.9 1642.0,1475.1 1643.0,1475.8 1644.0,1476.1 1645.0,1475.8 1646.0,1475.9 1647.0,1476.4 1648.0,1476.5 1649.0,1476.3 1650.0,1475.9 1651.0,1475.4 1652.0,1475.1 1653.0,1475.1 1654.0,1475.5 1655.0,1476.2 1656.0,1476.3 1657.0,1476.6 1658.0,1476.9 1659.0,1475.9 1660.0,1472.9 1661.0,1470.2 1662.0,1471.4 1663.0,1474.6 1664.0,1475.7 1665.0,1474.8 1666.0,1474.3 1667.0,1474.5 1668.0,1475.1 1669.0,1475.7 1670.0,1474.7 1671.0,1472.3 1672.0,1471.1 1673.0,1471.7 1674.0,1472.8 1675.0,1473.9 1676.0,1474.4 1677.0,1473.8 1678.0,1472.4 1679.0,1471.5 1680.0,1471.2 1681.0,1470.9 1682.0,1471.1 1683.0,1472.2 1684.0,1473.0 1685.0,1472.1 1686.0,1470.9 1687.0,1470.7 1688.0,1470.4 1689.0,1469.6 1690.0,1469.8 1691.0,1470.5 1692.0,1469.8 1693.0,1468.6 1694.0,1468.8 1695.0,1469.5 1696.0,1469.5 1697.0,1469.5 1698.0,1469.6 1699.0,1468.7 1700.0,1467.0 1701.0,1466.2 1702.0,1466.3 1703.0,1466.1 1704.0,1466.5 1705.0,1467.1 1706.0,1466.8 1707.0,1466.8 1708.0,1466.6 1709.0,1464.9 1710.0,1463.2 1711.0,1462.6 1712.0,1462.2 1713.0,1461.4 1714.0,1461.0 1715.0,1460.7 1716.0,1460.4 1717.0,1460.6 1718.0,1460.6 1719.0,1459.8 1720.0,1459.4 1721.0,1460.5 1722.0,1461.2 1723.0,1460.0 1724.0,1458.3 1725.0,1457.5 1726.0,1456.9 1727.0,1455.6 1728.0,1453.6 1729.0,1452.2 1730.0,1452.6 1731.0,1453.8 1732.0,1454.9 1733.0,1455.3 1734.0,1454.8 1735.0,1453.3 1736.0,1451.9 1737.0,1451.0 1738.0,1451.0 1739.0,1451.4 1740.0,1451.4 1741.0,1452.2 1742.0,1453.4 1743.0,1453.4 1744.0,1452.9 1745.0,1452.7 1746.0,1451.8 1747.0,1450.1 1748.0,1449.7 1749.0,1451.5 1750.0,1453.5 1751.0,1453.2 1752.0,1451.9 1753.0,1451.7 1754.0,1452.1 1755.0,1451.8 1756.0,1451.7 1757.0,1452.1 1758.0,1452.4 1759.0,1452.5 1760.0,1452.7 1761.0,1453.4 1762.0,1454.6 1763.0,1455.3 1764.0,1454.7 1765.0,1453.0 1766.0,1450.8 1767.0,1448.7 1768.0,1447.2 1769.0,1446.0 1770.0,1444.0 1771.0,1442.3 1772.0,1441.5 1773.0,1440.2 1774.0,1438.8 1775.0,1437.7 1776.0,1435.2 1777.0,1431.9 1778.0,1430.1 1779.0,1430.0 1780.0,1430.2 1781.0,1429.2 1782.0,1427.1 1783.0,1425.6 1784.0,1425.1 1785.0,1424.9 1786.0,1424.8 1787.0,1424.3 1788.0,1422.8 1789.0,1421.5 1790.0,1421.0 1791.0,1420.7 1792.0,1421.3 1793.0,1422.2 1794.0,1421.9 1795.0,1421.0 1796.0,1420.1 1797.0,1419.5 1798.0,1419.4 1799.0,1419.4 1800.0,1419.3 1801.0,1418.4 1802.0,1417.0 1803.0,1415.9 1804.0,1415.1 1805.0,1413.7 1806.0,1410.6 1807.0,1406.4 1808.0,1402.7 1809.0,1400.3 1810.0,1399.2 1811.0,1397.8 1812.0,1395.1 1813.0,1392.1 1814.0,1388.8 1815.0,1386.0 1816.0,1384.3 1817.0,1382.6 1818.0,1379.7 1819.0,1375.0 1820.0,1370.2 1821.0,1365.7 1822.0,1361.4 1823.0,1358.2 1824.0,1354.9 1825.0,1351.5 1826.0,1349.0 1827.0,1347.4 1828.0,1345.4 1829.0,1344.9 1830.0,1346.4 1831.0,1347.9 1832.0,1348.9 1833.0,1350.1 1834.0,1351.3 1835.0,1352.7 1836.0,1354.7 1837.0,1357.1 1838.0,1360.2 1839.0,1363.1 1840.0,1364.5 1841.0,1365.6 1842.0,1367.9 1843.0,1370.8 1844.0,1373.8 1845.0,1377.0 1846.0,1380.0 1847.0,1382.3 1848.0,1385.2 1849.0,1388.9 1850.0,1391.5 1851.0,1393.4 1852.0,1395.8 1853.0,1398.4 1854.0,1400.9 1855.0,1403.4 1856.0,1406.5 1857.0,1409.7 1858.0,1412.5 1859.0,1415.2 1860.0,1418.2 1861.0,1422.1 1862.0,1426.1 1863.0,1429.5 1864.0,1432.4 1865.0,1435.7 1866.0,1439.0 1867.0,1441.5 1868.0,1444.3 1869.0,1446.8 1870.0,1447.6 1871.0,1449.3 1872.0,1452.8 1873.0,1455.1 1874.0,1455.6 1875.0,1456.4 1876.0,1458.4 1877.0,1460.4 1878.0,1462.4 1879.0,1464.4 1880.0,1466.4 1881.0,1468.0 1882.0,1469.2 1883.0,1470.7 1884.0,1472.2 1885.0,1473.0 1886.0,1473.9 1887.0,1475.9 1888.0,1478.1 1889.0,1478.8 1890.0,1479.0 1891.0,1479.9 1892.0,1480.9 1893.0,1481.9 1894.0,1482.9 1895.0,1483.7 1896.0,1484.5 1897.0,1484.8 1898.0,1484.7 1899.0,1485.0 1900.0,1486.5 1901.0,1489.3 1902.0,1492.6 1903.0,1494.7 1904.0,1494.3 1905.0,1493.7 1906.0,1494.1 1907.0,1494.4 1908.0,1495.1 1909.0,1496.6 1910.0,1497.7 1911.0,1497.6 1912.0,1496.7 1913.0,1495.9 1914.0,1496.3 1915.0,1497.4 1916.0,1498.3 1917.0,1499.0 1918.0,1499.7 1919.0,1499.1 1920.0,1498.1 1921.0,1498.3 1922.0,1499.4 1923.0,1500.6 1924.0,1501.7 1925.0,1503.2 1926.0,1504.7 1927.0,1505.1 1928.0,1505.3 1929.0,1506.8 1930.0,1508.3 1931.0,1507.9 1932.0,1507.1 1933.0,1507.2 1934.0,1506.7 1935.0,1505.4 1936.0,1505.0 1937.0,1505.8 1938.0,1507.3 1939.0,1509.3 1940.0,1511.2 1941.0,1512.1 1942.0,1511.8 1943.0,1511.2 1944.0,1511.4 1945.0,1511.6 1946.0,1511.5 1947.0,1512.1 1948.0,1512.5 1949.0,1512.1 1950.0,1511.8 1951.0,1512.6 1952.0,1513.3 1953.0,1512.1 1954.0,1510.3 1955.0,1510.0 1956.0,1510.5 1957.0,1510.4 1958.0,1509.8 1959.0,1510.1 1960.0,1510.4 1961.0,1509.5 1962.0,1508.8 1963.0,1509.5 1964.0,1510.7 1965.0,1511.1 1966.0,1510.6 1967.0,1510.0 1968.0,1509.2 1969.0,1508.9 1970.0,1509.8 1971.0,1510.5 1972.0,1509.5 1973.0,1508.0 1974.0,1506.7 1975.0,1506.3 1976.0,1506.7 1977.0,1506.4 1978.0,1505.7 1979.0,1505.9 1980.0,1506.3 1981.0,1506.1 1982.0,1506.3 1983.0,1506.9 1984.0,1507.1 1985.0,1506.6 1986.0,1505.8 1987.0,1505.3 1988.0,1505.1 1989.0,1504.6 1990.0,1504.0 1991.0,1503.0 1992.0,1502.0 1993.0,1501.1 1994.0,1499.3 1995.0,1498.1 1996.0,1497.3 1997.0,1495.3 1998.0,1493.6 1999.0,1493.5 2000.0,1494.1 2001.0,1494.5 2002.0,1494.9 2003.0,1496.6 2004.0,1498.7 2005.0,1499.1 2006.0,1499.4 2007.0,1501.0 2008.0,1502.4 2009.0,1502.8 2010.0,1503.5 2011.0,1505.3 2012.0,1507.6 2013.0,1509.8 2014.0,1510.7 2015.0,1510.4 2016.0,1510.5 2017.0,1511.8 2018.0,1513.1 2019.0,1512.2 2020.0,1510.4 2021.0,1509.7 2022.0,1510.1 2023.0,1510.1 2024.0,1509.9 2025.0,1510.7 2026.0,1512.7 2027.0,1515.1 2028.0,1516.6 2029.0,1516.3 2030.0,1516.1 2031.0,1516.8 2032.0,1517.4 2033.0,1517.5 2034.0,1517.9 2035.0,1518.4 2036.0,1519.7 2037.0,1520.9 2038.0,1520.5 2039.0,1520.4 2040.0,1521.6 2041.0,1523.2 2042.0,1523.9 2043.0,1523.4 2044.0,1523.2 2045.0,1524.1 2046.0,1525.4 2047.0,1526.3 2048.0,1527.2 2049.0,1528.4 2050.0,1528.6 2051.0,1528.1 2052.0,1528.2 2053.0,1529.4 2054.0,1531.2 2055.0,1533.1 2056.0,1534.8 2057.0,1536.5 2058.0,1538.2 2059.0,1539.6 2060.0,1540.0 2061.0,1539.2 2062.0,1539.0 2063.0,1540.2 2064.0,1540.6 2065.0,1539.7 2066.0,1540.1 2067.0,1542.5 2068.0,1545.2 2069.0,1547.0 2070.0,1547.0 2071.0,1545.7 2072.0,1544.3 2073.0,1543.5 2074.0,1543.4 2075.0,1544.0 2076.0,1545.5 2077.0,1547.2 2078.0,1547.7 2079.0,1547.4 2080.0,1548.1 2081.0,1549.0 2082.0,1548.9 2083.0,1548.4 2084.0,1548.4 2085.0,1548.1 2086.0,1547.0 2087.0,1546.4 2088.0,1547.0 2089.0,1548.4 2090.0,1549.7 2091.0,1550.3 2092.0,1550.9 2093.0,1551.3 2094.0,1551.1 2095.0,1550.7 2096.0,1550.7 2097.0,1551.6 2098.0,1551.6 2099.0,1550.7 2100.0,1551.1 2101.0,1551.8 2102.0,1551.6 2103.0,1552.1 2104.0,1553.6 2105.0,1554.0 2106.0,1553.5 2107.0,1553.0 2108.0,1552.6 2109.0,1552.0 2110.0,1552.0 2111.0,1552.7 2112.0,1553.5 2113.0,1553.6 2114.0,1553.2 2115.0,1553.4 2116.0,1553.1 2117.0,1552.1 2118.0,1552.2 2119.0,1552.9 2120.0,1553.2 2121.0,1553.6 2122.0,1553.5 2123.0,1552.4 2124.0,1551.2 2125.0,1550.5 2126.0,1550.0 2127.0,1549.7 2128.0,1550.2 2129.0,1550.5 2130.0,1549.8 2131.0,1548.9 2132.0,1548.6 2133.0,1548.8 2134.0,1547.9 2135.0,1547.1 2136.0,1546.5 2137.0,1546.1 2138.0,1546.5 2139.0,1547.0 2140.0,1546.9 2141.0,1545.9 2142.0,1544.5 2143.0,1544.1 2144.0,1544.3 2145.0,1544.7 2146.0,1545.2 2147.0,1545.6 2148.0,1545.5 2149.0,1544.7 2150.0,1543.4 2151.0,1542.0 2152.0,1541.5 2153.0,1542.1 2154.0,1542.7 2155.0,1543.3 2156.0,1544.6 2157.0,1545.7 2158.0,1545.8 2159.0,1545.3 2160.0,1544.9 2161.0,1544.6 2162.0,1543.8 2163.0,1543.0 2164.0,1543.3 2165.0,1544.0 2166.0,1543.7 2167.0,1542.2 2168.0,1540.6 2169.0,1541.1 2170.0,1543.1 2171.0,1543.6 2172.0,1543.7 2173.0,1544.4 2174.0,1544.5 2175.0,1543.5 2176.0,1542.3 2177.0,1541.9 2178.0,1542.8 2179.0,1543.4 2180.0,1542.5 2181.0,1540.2 2182.0,1538.1 2183.0,1538.1 2184.0,1539.8 2185.0,1540.8 2186.0,1540.8 2187.0,1540.9 2188.0,1540.8 2189.0,1540.2 2190.0,1539.1 2191.0,1538.4 2192.0,1538.9 2193.0,1539.4 2194.0,1538.9 2195.0,1538.1 2196.0,1537.8 2197.0,1537.5 2198.0,1537.6 2199.0,1538.8 2200.0,1539.4 2201.0,1538.0 2202.0,1535.8 2203.0,1534.5 2204.0,1534.9 2205.0,1535.5 2206.0,1534.9 2207.0,1534.4 2208.0,1535.3 2209.0,1536.4 2210.0,1535.7 2211.0,1535.3 2212.0,1536.4 2213.0,1537.4 2214.0,1538.5 2215.0,1539.7 2216.0,1539.2 2217.0,1536.3 2218.0,1533.4 2219.0,1532.5 2220.0,1532.9 2221.0,1533.7 2222.0,1534.9 2223.0,1535.3 2224.0,1535.6 2225.0,1536.2 2226.0,1535.7 2227.0,1534.5 2228.0,1533.8 2229.0,1533.5 2230.0,1533.7 2231.0,1534.4 2232.0,1535.3 2233.0,1536.1 2234.0,1536.8 2235.0,1536.7 2236.0,1536.4 2237.0,1536.4 2238.0,1537.1 2239.0,1538.1 2240.0,1539.0 2241.0,1539.9 2242.0,1540.5 2243.0,1540.9 2244.0,1541.4 2245.0,1541.4 2246.0,1541.6 2247.0,1542.7 2248.0,1545.1 2249.0,1547.3 2250.0,1547.9 2251.0,1548.4 2252.0,1550.3 2253.0,1553.1 2254.0,1555.4 2255.0,1557.0 2256.0,1557.9 2257.0,1557.7 2258.0,1556.7 2259.0,1557.4 2260.0,1560.9 2261.0,1563.9 2262.0,1563.9 2263.0,1564.0 2264.0,1566.4 2265.0,1568.6 2266.0,1568.5 2267.0,1568.6 2268.0,1570.4 2269.0,1572.2 2270.0,1573.4 2271.0,1573.9 2272.0,1573.8 2273.0,1574.6 2274.0,1576.3 2275.0,1577.4 2276.0,1578.6 2277.0,1580.3 2278.0,1581.9 2279.0,1582.9 2280.0,1583.7 2281.0,1585.0 2282.0,1585.7 2283.0,1585.4 2284.0,1585.3 2285.0,1586.9 2286.0,1589.4 2287.0,1591.1 2288.0,1591.5 2289.0,1592.1 2290.0,1593.8 2291.0,1595.0 2292.0,1595.0 2293.0,1595.5 2294.0,1597.4 2295.0,1598.6 2296.0,1598.5 2297.0,1599.0 2298.0,1600.3 2299.0,1601.1 2300.0,1601.5 2301.0,1601.2 2302.0,1599.4 2303.0,1598.5 2304.0,1600.2 2305.0,1602.5 2306.0,1604.1 2307.0,1605.0 2308.0,1604.3 2309.0,1603.1 2310.0,1603.7 2311.0,1604.4 2312.0,1604.5 2313.0,1605.0 2314.0,1605.7 2315.0,1605.9 2316.0,1606.5 2317.0,1607.0 2318.0,1606.7 2319.0,1605.9 2320.0,1605.0 2321.0,1605.2 2322.0,1606.7 2323.0,1608.8 2324.0,1610.8 2325.0,1611.4 2326.0,1610.7 2327.0,1610.1 2328.0,1610.4 2329.0,1610.9 2330.0,1611.6 2331.0,1612.3 2332.0,1612.8 2333.0,1613.9 2334.0,1615.9 2335.0,1616.9 2336.0,1616.6 2337.0,1616.7 2338.0,1618.0 2339.0,1620.4 2340.0,1622.4 2341.0,1623.0 2342.0,1622.2 2343.0,1621.8 2344.0,1622.0 2345.0,1621.9 2346.0,1622.3 2347.0,1623.5 2348.0,1623.9 2349.0,1624.0 2350.0,1624.9 2351.0,1625.5 2352.0,1625.7 2353.0,1625.8 2354.0,1626.2 2355.0,1627.5 2356.0,1629.0 2357.0,1629.9 2358.0,1630.3 2359.0,1630.2"/>
<polyline fill="none" stroke="#289c9b" stroke-width="8.4" stroke-linejoin="round" stroke-linecap="butt" points="244.0,994.8 245.0,993.4 246.0,992.5 247.0,991.8 248.0,992.7 249.0,994.7 250.0,996.4 251.0,997.4 252.0,998.1 253.0,997.9 254.0,996.2 255.0,994.6 256.0,994.3 257.0,995.1 258.0,996.5 259.0,996.6 260.0,996.1 261.0,996.9 262.0,998.6 263.0,998.3 264.0,996.0 265.0,994.1 266.0,993.0 267.0,991.7 268.0,989.6 269.0,987.6 270.0,987.8 271.0,990.7 272.0,992.5 273.0,991.7 274.0,992.2 275.0,995.0 276.0,996.7 277.0,993.6 278.0,988.9 279.0,987.2 280.0,988.0 281.0,988.3 282.0,986.7 283.0,985.0 284.0,982.1 285.0,975.9 286.0,969.1 287.0,961.7 288.0,953.1 289.0,944.7 290.0,937.4 291.0,930.9 292.0,925.7 293.0,921.5 294.0,916.7 295.0,912.6 296.0,910.3 297.0,909.6 298.0,909.5 299.0,908.9 300.0,906.9 301.0,904.7 302.0,905.0 303.0,906.4 304.0,907.3 305.0,905.5 306.0,901.0 307.0,898.9 308.0,900.6 309.0,901.3 310.0,900.7 311.0,902.7 312.0,906.5 313.0,907.6 314.0,906.1 315.0,905.8 316.0,906.6 317.0,906.8 318.0,906.5 319.0,905.6 320.0,905.0 321.0,903.2 322.0,898.7 323.0,893.2 324.0,887.1 325.0,881.9 326.0,879.6 327.0,878.1 328.0,874.8 329.0,870.4 330.0,866.1 331.0,862.4 332.0,859.7 333.0,858.6 334.0,858.8 335.0,859.0 336.0,858.8 337.0,858.8 338.0,859.9 339.0,861.1 340.0,860.5 341.0,857.6 342.0,853.4 343.0,849.8 344.0,848.1 345.0,848.7 346.0,849.3 347.0,848.6 348.0,847.7 349.0,845.1 350.0,842.2 351.0,842.6 352.0,844.2 353.0,843.9 354.0,843.7 355.0,845.3 356.0,846.3 357.0,847.0 358.0,847.7 359.0,847.7 360.0,847.4 361.0,846.8 362.0,846.7 363.0,847.4 364.0,847.7 365.0,848.9 366.0,852.5 367.0,855.6 368.0,855.6 369.0,853.5 370.0,850.6 371.0,847.9 372.0,844.7 373.0,842.3 374.0,843.7 375.0,846.7 376.0,847.7 377.0,846.9 378.0,846.4 379.0,845.3 380.0,843.7 381.0,844.3 382.0,846.2 383.0,846.8 384.0,845.9 385.0,845.1 386.0,845.6 387.0,846.2 388.0,845.0 389.0,843.6 390.0,842.4 391.0,841.8 392.0,841.7 393.0,842.4 394.0,842.8 395.0,842.1 396.0,841.8 397.0,841.6 398.0,841.4 399.0,841.5 400.0,842.2 401.0,843.4 402.0,844.8 403.0,845.0 404.0,842.8 405.0,839.0 406.0,836.5 407.0,838.1 408.0,841.5 409.0,842.8 410.0,843.4 411.0,843.6 412.0,841.9 413.0,840.9 414.0,841.4 415.0,840.6 416.0,838.7 417.0,837.8 418.0,838.3 419.0,839.5 420.0,840.9 421.0,841.4 422.0,841.4 423.0,841.7 424.0,842.1 425.0,840.5 426.0,837.1 427.0,834.0 428.0,832.1 429.0,832.3 430.0,833.8 431.0,834.5 432.0,834.1 433.0,832.2 434.0,830.9 435.0,832.6 436.0,834.1 437.0,834.4 438.0,835.9 439.0,837.3 440.0,835.8 441.0,833.7 442.0,833.5 443.0,833.5 444.0,832.8 445.0,832.5 446.0,832.6 447.0,833.1 448.0,833.2 449.0,833.6 450.0,834.8 451.0,835.3 452.0,834.3 453.0,832.2 454.0,829.8 455.0,827.8 456.0,827.3 457.0,827.6 458.0,828.0 459.0,828.0 460.0,826.4 461.0,823.4 462.0,822.6 463.0,823.6 464.0,823.2 465.0,821.3 466.0,819.3 467.0,819.1 468.0,820.0 469.0,819.6 470.0,817.4 471.0,813.5 472.0,809.9 473.0,809.2 474.0,811.0 475.0,811.8 476.0,810.4 477.0,807.6 478.0,804.3 479.0,800.7 480.0,797.5 480.8,795.1 481.0,794.5 481.6,792.7 482.0,791.7 482.5,790.6 483.0,789.2 483.3,788.1 484.0,785.3 484.1,784.5 484.9,779.3 485.0,778.9 485.8,773.4 486.0,771.7 486.6,767.3 487.0,764.0 487.4,759.9 488.0,753.6 488.2,750.3 489.0,739.5 489.1,738.3 489.9,724.6 490.0,722.8 490.7,709.0 491.0,703.3 491.5,691.0 492.0,680.0 492.4,670.3 493.0,653.2 493.2,647.5 494.0,625.1 494.0,624.4 494.8,603.8 495.0,600.7 495.7,589.4 496.0,586.1 496.5,584.1 497.0,586.0 497.3,589.3 498.0,600.4 498.1,603.5 499.0,623.4 499.0,624.1 499.8,645.8 500.0,651.3 500.6,668.3 501.0,678.1 501.4,688.9 502.0,701.2 502.3,706.8 503.0,720.1 503.1,721.9 503.9,735.0 504.0,736.0 504.7,746.3 505.0,749.3 505.6,755.8 506.0,760.0 506.4,764.0 507.0,769.5 507.2,771.6 508.0,778.2 508.0,778.6 508.9,783.9 509.0,784.7 509.7,787.7 510.0,788.8 510.5,790.5 511.0,791.8 511.3,792.9 512.0,794.7 512.2,795.2 513.0,797.2 514.0,798.7 515.0,799.6 516.0,801.1 517.0,802.2 518.0,803.1 519.0,804.0 520.0,803.2 521.0,801.2 522.0,800.7 523.0,801.7 524.0,802.2 525.0,800.3 526.0,797.4 527.0,795.8 528.0,796.1 529.0,795.6 530.0,793.4 531.0,792.0 532.0,792.8 533.0,793.3 534.0,791.6 535.0,789.7 536.0,789.8 537.0,789.3 538.0,786.5 539.0,783.1 540.0,782.2 541.0,783.9 542.0,784.8 543.0,783.4 544.0,781.2 545.0,780.7 546.0,782.7 547.0,785.3 548.0,785.9 549.0,784.9 550.0,785.6 551.0,789.4 552.0,794.2 553.0,797.1 554.0,797.4 555.0,797.6 556.0,799.6 557.0,801.3 558.0,801.4 559.0,800.8 560.0,800.7 561.0,800.9 562.0,801.1 563.0,802.0 564.0,804.2 565.0,805.6 566.0,804.5 567.0,802.7 568.0,802.3 569.0,803.8 570.0,805.9 571.0,806.4 572.0,805.2 573.0,801.7 574.0,798.2 575.0,797.1 576.0,797.8 577.0,799.9 578.0,801.2 579.0,800.3 580.0,799.9 581.0,801.8 582.0,803.2 583.0,802.1 584.0,800.8 585.0,800.1 586.0,798.7 587.0,796.8 588.0,794.6 589.0,792.8 590.0,793.2 590.9,795.6 591.9,796.8 592.9,795.0 593.9,792.8 594.9,793.1 595.9,793.6 596.9,791.7 597.9,786.7 598.9,779.8 599.8,773.4 600.8,767.0 601.5,760.9 601.8,757.8 601.9,755.9 602.3,749.7 602.7,743.4 602.8,742.6 603.2,734.7 603.6,725.7 603.6,724.6 604.0,715.7 604.4,704.1 604.5,699.8 604.8,690.5 605.2,674.3 605.4,664.0 605.5,655.2 605.9,632.7 606.1,612.1 606.2,605.7 606.5,573.6 606.8,535.8 607.0,492.4 607.3,445.0 607.3,434.3 607.5,397.0 607.8,354.1 607.9,338.6 608.1,323.8 608.5,312.6 608.8,317.4 609.0,323.3 609.6,353.1 610.1,390.3 610.2,395.4 610.9,442.8 611.5,489.7 611.6,494.7 612.2,532.7 612.8,570.4 613.0,581.7 613.4,602.7 614.0,630.0 614.3,643.2 614.5,652.9 615.1,672.0 615.5,684.8 615.6,688.1 616.1,701.4 616.6,712.6 617.1,721.9 617.6,729.7 617.7,731.2 618.1,736.3 618.5,742.0 618.7,744.2 619.0,747.0 619.5,751.4 619.8,754.1 620.8,761.9 621.8,767.9 622.9,772.7 623.9,778.1 624.9,782.3 625.9,783.1 626.9,781.6 627.9,780.3 628.9,780.2 629.9,781.5 630.9,782.9 631.9,783.7 632.9,784.0 633.9,783.3 634.9,780.7 635.9,777.9 636.9,776.6 637.9,777.4 638.9,779.5 639.9,780.7 640.9,780.1 641.9,779.4 642.9,779.1 643.9,778.0 644.9,775.0 645.9,768.2 646.9,758.3 647.9,746.9 648.2,743.1 648.6,736.4 648.9,732.7 649.1,728.5 649.5,719.3 649.8,712.5 650.0,708.7 650.4,696.6 650.8,685.5 650.9,682.8 651.3,667.3 651.8,649.7 651.8,648.8 652.2,627.1 652.6,601.1 652.7,598.0 653.0,569.5 653.5,531.9 653.6,521.0 653.9,487.3 654.2,435.2 654.4,411.7 654.6,375.8 655.0,311.2 655.2,274.4 655.4,245.9 655.7,187.7 656.0,156.2 656.1,146.6 656.6,131.6 657.0,142.4 657.1,146.2 657.6,186.7 658.2,244.0 658.2,244.6 658.7,308.4 659.3,372.1 659.4,382.0 659.8,430.9 660.4,482.8 660.5,497.4 660.9,527.2 661.4,564.8 661.7,580.1 661.9,596.1 662.4,622.0 662.7,635.7 662.9,643.6 663.4,661.6 663.8,673.4 663.9,676.9 664.4,690.4 664.8,701.0 664.9,702.0 665.4,712.2 665.8,721.1 665.9,721.7 666.3,727.8 666.8,733.4 666.9,734.5 667.9,743.2 668.9,751.9 669.9,759.0 670.9,764.2 672.0,768.5 673.0,772.6 674.0,775.5 675.0,775.5 676.0,774.7 677.0,774.8 678.0,775.6 679.0,775.3 680.0,774.3 681.0,774.5 682.0,775.1 683.0,774.5 684.0,773.7 685.0,773.3 686.0,771.9 687.0,770.5 688.0,771.2 689.0,773.0 690.0,773.9 691.0,774.1 692.0,774.5 693.0,775.8 694.0,778.4 695.0,780.8 696.0,780.2 697.0,779.1 698.0,779.1 699.0,778.2 700.0,777.7 701.0,779.3 702.0,781.5 703.0,781.5 704.0,779.4 705.0,777.3 706.0,775.8 707.0,773.8 708.0,773.1 708.1,773.2 708.8,773.9 709.0,774.1 709.4,773.9 710.0,773.8 710.1,773.5 710.8,772.0 711.0,771.6 711.5,770.2 712.0,768.6 712.1,768.2 712.8,766.2 713.0,765.6 713.5,764.3 714.0,762.8 714.2,762.4 714.8,760.5 715.0,760.0 715.5,757.9 716.0,755.6 716.2,754.3 716.9,749.6 717.0,748.6 717.5,744.0 718.0,740.0 718.2,738.1 718.9,732.0 719.0,731.1 719.6,725.8 720.0,722.1 720.2,720.0 720.9,715.9 721.0,715.6 721.6,714.6 722.0,715.3 722.3,716.4 722.9,720.7 723.0,721.1 723.6,726.7 724.0,730.3 724.3,733.4 725.0,740.5 725.0,740.8 725.6,747.5 726.0,751.0 726.3,753.7 727.0,758.7 727.7,762.6 728.0,764.3 728.3,766.4 729.0,769.9 729.0,770.0 729.7,773.3 730.0,774.7 730.4,775.9 731.0,777.6 731.0,777.7 731.7,779.0 732.0,779.5 732.4,780.4 733.0,781.6 733.1,781.7 733.7,782.3 734.0,782.4 734.4,781.7 735.0,780.4 735.1,780.2 736.0,777.8 737.0,774.9 738.0,772.8 739.0,772.2 740.0,772.0 741.0,772.0 742.0,771.9 743.0,771.7 744.0,772.0 745.0,772.6 746.0,771.7 747.0,770.1 748.0,769.3 749.0,769.4 750.0,770.9 751.0,773.8 752.0,774.9 753.0,774.0 754.0,772.0 755.0,769.9 756.0,769.2 757.0,769.3 758.0,769.9 759.0,772.3 760.0,775.2 761.0,776.4 762.0,776.4 763.0,775.3 764.0,773.4 765.0,773.2 766.0,774.0 767.0,775.1 768.0,776.0 769.0,776.8 770.0,777.8 771.0,775.9 772.0,770.7 773.0,767.1 774.0,767.9 775.0,771.4 776.0,773.9 777.0,774.7 778.0,774.6 779.0,773.3 780.0,769.9 781.0,766.9 782.0,767.2 783.0,768.7 784.0,767.4 785.0,765.1 786.0,766.2 787.0,769.3 788.0,770.5 789.0,769.0 790.0,766.5 791.0,765.2 792.0,767.2 793.0,770.5 794.0,771.3 795.0,770.1 796.0,767.8 797.0,765.9 798.0,765.5 799.0,765.2 800.0,765.0 801.0,765.9 802.0,765.4 803.0,763.8 804.0,764.4 805.0,765.3 806.0,764.6 807.0,765.1 808.0,767.1 809.0,768.1 810.0,767.2 811.0,766.0 812.0,766.9 813.0,769.7 814.0,771.6 815.0,770.9 816.0,769.4 817.0,767.8 818.0,764.8 819.0,761.7 820.0,761.2 821.0,762.6 822.0,763.8 823.0,763.4 824.0,762.0 825.0,761.0 826.0,760.5 827.0,759.5 828.0,758.1 829.0,757.4 830.0,758.3 831.0,759.7 832.0,759.8 833.0,759.6 834.0,759.2 835.0,758.1 836.0,757.2 837.0,757.5 838.0,758.2 839.0,758.0 840.0,757.2 841.0,757.5 842.0,760.0 843.0,761.2 844.0,760.0 845.0,760.3 846.0,761.9 847.0,760.8 848.0,757.9 849.0,757.1 850.0,758.1 851.0,759.1 852.0,758.6 853.0,757.4 854.0,758.5 855.0,761.5 856.0,763.4 857.0,763.9 858.0,764.7 859.0,765.1 860.0,763.9 861.0,761.4 862.0,758.5 863.0,759.1 864.0,761.4 865.0,761.1 866.0,759.6 867.0,757.9 868.0,756.7 869.0,756.0 870.0,754.9 871.0,754.0 872.0,753.8 873.0,756.1 874.0,760.3 875.0,762.5 876.0,761.8 877.0,760.7 878.0,758.6 879.0,755.3 880.0,753.8 881.0,754.7 882.0,756.0 883.0,756.3 884.0,755.5 885.0,755.4 886.0,756.8 887.0,757.4 888.0,757.0 889.0,756.9 890.0,757.3 891.0,757.1 892.0,756.3 893.0,756.0 894.0,755.6 895.0,755.2 896.0,755.4 897.0,756.1 898.0,756.7 899.0,756.6 900.0,756.0 901.0,755.2 902.0,754.8 903.0,753.8 904.0,752.0 905.0,751.4 906.0,753.6 907.0,755.6 908.0,754.9 909.0,753.9 910.0,753.8 911.0,754.6 912.0,755.7 913.0,755.3 914.0,752.8 915.0,750.4 916.0,750.9 917.0,753.3 918.0,754.8 919.0,754.1 920.0,753.5 921.0,754.3 922.0,754.9 923.0,754.0 924.0,753.5 925.0,753.0 926.0,751.0 927.0,749.4 928.0,749.9 929.0,751.8 930.0,751.9 931.0,751.0 932.0,752.2 933.0,755.1 934.0,757.0 935.0,757.3 936.0,756.8 937.0,755.4 938.0,753.1 939.0,751.9 940.0,753.0 941.0,753.6 942.0,752.9 943.0,752.7 944.0,753.9 945.0,754.9 946.0,754.0 947.0,753.0 948.0,753.2 949.0,753.5 950.0,753.2 951.0,752.1 952.0,751.2 953.0,750.9 954.0,751.3 955.0,752.4 956.0,753.7 957.0,754.0 958.0,752.4 959.0,750.9 960.0,752.0 961.0,752.8 962.0,752.9 963.0,754.4 964.0,755.1 965.0,754.1 966.0,753.2 967.0,753.4 968.0,753.6 969.0,752.8 970.0,752.8 971.0,754.8 972.0,756.8 973.0,757.2 974.0,756.3 975.0,755.1 976.0,754.0 977.0,752.5 978.0,749.7 979.0,746.3 980.0,745.5 981.0,748.1 982.0,750.5 983.0,750.4 984.0,748.9 985.0,747.6 986.0,747.6 987.0,748.6 988.0,749.3 989.0,750.6 990.0,752.6 991.0,754.1 992.0,753.3 993.0,750.8 994.0,749.3 995.0,749.7 996.0,750.9 997.0,750.8 998.0,749.3 999.0,748.0 1000.0,747.2 1001.0,746.2 1002.0,746.3 1003.0,747.2 1004.0,746.7 1005.0,747.6 1006.0,750.0 1007.0,751.5 1008.0,752.5 1009.0,752.5 1010.0,749.9 1011.0,746.4 1012.0,745.2 1013.0,746.7 1014.0,748.5 1015.0,748.3 1016.0,746.4 1017.0,744.9 1018.0,745.0 1019.0,744.8 1020.0,743.5 1021.0,744.2 1022.0,746.3 1023.0,746.9 1024.0,746.4 1025.0,746.6 1026.0,747.5 1027.0,748.2 1028.0,748.6 1029.0,747.5 1030.0,744.9 1031.0,744.6 1032.0,746.9 1033.0,748.7 1034.0,748.7 1035.0,748.5 1036.0,749.4 1037.0,749.2 1038.0,746.6 1039.0,746.0 1040.0,748.4 1041.0,749.1 1042.0,748.7 1043.0,750.6 1044.0,752.4 1045.0,751.1 1046.0,749.5 1047.0,749.0 1048.0,749.2 1049.0,749.4 1050.0,748.4 1051.0,747.0 1052.0,745.5 1053.0,744.8 1054.0,746.5 1055.0,748.8 1056.0,749.3 1057.0,748.9 1058.0,748.4 1059.0,746.8 1060.0,745.8 1061.0,747.1 1062.0,749.2 1063.0,749.7 1064.0,747.7 1065.0,746.0 1066.0,746.9 1067.0,749.2 1068.0,749.7 1069.0,747.5 1070.0,744.6 1071.0,744.2 1072.0,746.4 1073.0,747.3 1074.0,747.4 1075.0,748.3 1076.0,749.1 1077.0,749.0 1078.0,748.8 1079.0,749.4 1080.0,751.1 1081.0,751.6 1082.0,749.6 1083.0,746.4 1084.0,744.1 1085.0,744.7 1086.0,747.0 1087.0,747.6 1088.0,748.3 1089.0,751.1 1090.0,752.6 1091.0,751.7 1092.0,750.1 1093.0,749.1 1094.0,749.0 1095.0,750.0 1096.0,751.4 1097.0,751.4 1098.0,750.6 1099.0,751.4 1100.0,753.0 1101.0,753.6 1102.0,753.7 1103.0,752.9 1104.0,752.3 1105.0,752.7 1106.0,752.6 1107.0,750.8 1108.0,749.4 1109.0,749.5 1110.0,749.8 1111.0,748.7 1112.0,747.7 1113.0,748.1 1114.0,747.6 1115.0,745.8 1116.0,745.5 1117.0,746.4 1118.0,745.6 1119.0,742.9 1120.0,741.2 1121.0,741.9 1122.0,744.0 1123.0,746.4 1124.0,748.7 1125.0,751.5 1126.0,753.3 1127.0,753.1 1128.0,751.0 1129.0,748.1 1130.0,746.3 1131.0,745.1 1132.0,744.8 1133.0,746.5 1134.0,748.4 1135.0,749.2 1136.0,749.7 1137.0,750.6 1138.0,751.0 1139.0,749.6 1140.0,747.7 1141.0,747.8 1142.0,751.0 1143.0,753.5 1144.0,751.7 1145.0,748.1 1146.0,745.0 1147.0,743.5 1148.0,745.5 1149.0,748.3 1150.0,748.8 1151.0,747.6 1152.0,747.2 1153.0,748.3 1154.0,748.8 1155.0,749.3 1156.0,750.0 1157.0,749.1 1158.0,747.4 1159.0,746.1 1160.0,744.8 1161.0,744.6 1162.0,744.9 1163.0,745.0 1164.0,746.7 1165.0,750.3 1166.0,752.2 1167.0,750.7 1168.0,749.3 1169.0,749.2 1170.0,748.6 1171.0,748.3 1172.0,749.3 1173.0,749.7 1174.0,749.4 1175.0,750.2 1176.0,750.7 1177.0,750.0 1178.0,749.8 1179.0,750.0 1180.0,748.9 1181.0,748.1 1182.0,748.5 1183.0,748.7 1184.0,749.6 1185.0,751.7 1186.0,753.1 1187.0,752.3 1188.0,751.2 1189.0,751.4 1190.0,751.4 1191.0,751.0 1192.0,751.5 1193.0,751.6 1194.0,751.6 1195.0,752.9 1196.0,753.7 1197.0,753.0 1198.0,752.5 1199.0,751.7 1200.0,750.8 1201.0,751.2 1202.0,752.9 1203.0,754.1 1204.0,753.5 1205.0,751.7 1206.0,750.0 1207.0,749.3 1208.0,749.8 1209.0,751.1 1210.0,751.6 1211.0,751.7 1212.0,752.6 1213.0,753.3 1214.0,754.6 1215.0,755.8 1216.0,755.7 1217.0,754.7 1218.0,754.9 1219.0,757.3 1220.0,759.8 1221.0,760.4 1222.0,760.2 1223.0,759.7 1224.0,759.0 1225.0,757.9 1226.0,756.9 1227.0,756.0 1228.0,753.7 1229.0,752.5 1230.0,755.4 1231.0,760.0 1232.0,761.5 1233.0,759.9 1234.0,758.5 1235.0,758.2 1236.0,758.5 1237.0,758.1 1238.0,755.3 1239.0,751.8 1240.0,750.6 1241.0,752.4 1242.0,755.5 1243.0,755.9 1244.0,754.0 1245.0,753.4 1246.0,755.1 1247.0,757.5 1248.0,758.9 1249.0,759.4 1250.0,760.1 1251.0,760.1 1252.0,759.0 1253.0,756.4 1254.0,754.7 1255.0,756.0 1256.0,758.1 1257.0,757.6 1258.0,756.7 1259.0,756.4 1260.0,755.3 1261.0,755.4 1262.0,757.8 1263.0,758.4 1264.0,757.2 1265.0,756.7 1266.0,755.7 1267.0,753.2 1268.0,751.7 1269.0,752.6 1270.0,753.9 1271.0,754.8 1272.0,756.6 1273.0,760.0 1274.0,762.1 1275.0,761.6 1276.0,759.2 1277.0,756.9 1278.0,756.3 1279.0,756.9 1280.0,757.3 1281.0,756.2 1282.0,754.7 1283.0,754.8 1284.0,756.2 1285.0,757.0 1286.0,755.7 1287.0,755.5 1288.0,757.9 1289.0,760.0 1290.0,759.7 1291.0,758.8 1292.0,758.4 1293.0,758.2 1294.0,758.2 1295.0,758.0 1296.0,758.2 1297.0,759.7 1298.0,761.9 1299.0,763.2 1300.0,763.4 1301.0,762.5 1302.0,760.8 1303.0,760.1 1304.0,761.6 1305.0,764.4 1306.0,765.5 1307.0,764.9 1308.0,765.6 1309.0,766.1 1310.0,765.4 1311.0,764.9 1312.0,763.6 1313.0,761.9 1314.0,761.9 1315.0,763.7 1316.0,765.4 1317.0,764.2 1318.0,762.0 1319.0,763.2 1320.0,764.9 1321.0,764.0 1322.0,763.7 1323.0,766.2 1324.0,766.4 1325.0,763.9 1326.0,762.7 1327.0,763.2 1328.0,764.1 1329.0,764.9 1330.0,765.4 1331.0,765.7 1332.0,765.5 1333.0,764.9 1334.0,765.2 1335.0,765.9 1336.0,765.9 1337.0,766.0 1338.0,765.9 1339.0,764.9 1340.0,763.1 1341.0,761.1 1342.0,759.5 1343.0,759.5 1344.0,761.5 1345.0,763.9 1346.0,764.6 1347.0,763.5 1348.0,761.7 1349.0,761.1 1350.0,763.7 1351.0,766.8 1352.0,766.6 1353.0,765.0 1354.0,762.8 1355.0,760.5 1356.0,760.2 1357.0,761.8 1358.0,764.1 1359.0,765.3 1360.0,764.8 1361.0,764.9 1362.0,766.7 1363.0,768.5 1364.0,767.3 1365.0,764.3 1366.0,762.1 1367.0,761.6 1368.0,762.6 1369.0,764.4 1370.0,765.4 1371.0,765.4 1372.0,765.0 1373.0,765.8 1374.0,767.3 1375.0,767.6 1376.0,766.7 1377.0,766.4 1378.0,767.5 1379.0,767.1 1380.0,766.2 1381.0,765.4 1382.0,764.8 1383.0,766.7 1384.0,769.0 1385.0,768.3 1386.0,765.2 1387.0,763.9 1388.0,765.6 1389.0,767.5 1390.0,767.7 1391.0,765.5 1392.0,762.4 1393.0,761.6 1394.0,762.8 1395.0,763.0 1396.0,763.3 1397.0,765.8 1398.0,768.0 1399.0,767.3 1400.0,766.1 1401.0,766.7 1402.0,767.6 1403.0,767.4 1404.0,766.4 1405.0,765.8 1406.0,766.4 1407.0,769.0 1408.0,771.2 1409.0,770.5 1410.0,769.1 1411.0,768.5 1412.0,768.0 1413.0,767.8 1414.0,769.2 1415.0,770.8 1416.0,770.7 1417.0,768.8 1418.0,767.5 1419.0,767.9 1420.0,768.9 1421.0,768.7 1422.0,768.8 1423.0,769.6 1424.0,768.5 1425.0,767.0 1426.0,767.1 1427.0,768.5 1428.0,769.1 1429.0,768.3 1430.0,768.2 1431.0,769.8 1432.0,771.6 1433.0,772.7 1434.0,772.7 1435.0,772.0 1436.0,772.4 1437.0,774.0 1438.0,774.4 1439.0,773.6 1440.0,772.4 1441.0,771.6 1442.0,771.9 1443.0,773.8 1444.0,775.7 1445.0,774.5 1446.0,772.0 1447.0,771.5 1448.0,771.9 1449.0,772.1 1450.0,772.9 1451.0,772.8 1452.0,772.6 1453.0,774.7 1454.0,777.8 1455.0,778.5 1456.0,776.8 1457.0,775.1 1458.0,774.6 1459.0,774.7 1460.0,774.5 1461.0,774.2 1462.0,773.7 1463.0,772.4 1464.0,770.7 1465.0,770.7 1466.0,771.8 1467.0,772.6 1468.0,772.7 1469.0,771.7 1470.0,771.3 1471.0,772.9 1472.0,774.9 1473.0,775.9 1474.0,775.0 1475.0,773.1 1476.0,773.1 1477.0,774.4 1478.0,775.6 1479.0,776.5 1480.0,775.9 1481.0,773.7 1482.0,771.9 1483.0,772.7 1484.0,775.1 1485.0,775.4 1486.0,773.0 1487.0,771.3 1488.0,772.4 1489.0,774.3 1490.0,775.9 1491.0,778.3 1492.0,779.9 1493.0,779.3 1494.0,779.7 1495.0,779.1 1496.0,774.6 1497.0,771.2 1498.0,772.2 1499.0,773.8 1500.0,774.3 1501.0,775.1 1502.0,775.6 1503.0,773.6 1504.0,771.4 1505.0,773.0 1506.0,777.1 1507.0,779.6 1508.0,777.8 1509.0,773.0 1510.0,771.0 1511.0,772.6 1512.0,774.6 1513.0,776.6 1514.0,778.7 1515.0,780.1 1516.0,780.5 1517.0,779.7 1518.0,778.5 1519.0,776.0 1520.0,773.3 1521.0,772.8 1522.0,774.6 1523.0,777.8 1524.0,779.6 1525.0,778.7 1526.0,778.8 1527.0,780.1 1528.0,778.7 1529.0,776.3 1530.0,776.7 1531.0,777.7 1532.0,776.5 1533.0,776.6 1534.0,779.3 1535.0,781.5 1536.0,782.4 1537.0,781.5 1538.0,778.5 1539.0,776.8 1540.0,778.3 1541.0,780.1 1542.0,781.0 1543.0,780.9 1544.0,780.2 1545.0,780.6 1546.0,780.7 1547.0,779.2 1548.0,777.9 1549.0,778.3 1550.0,780.1 1551.0,781.9 1552.0,781.9 1553.0,779.8 1554.0,778.0 1555.0,778.1 1556.0,778.8 1557.0,778.6 1558.0,779.6 1559.0,782.5 1560.0,783.7 1561.0,782.1 1562.0,782.0 1563.0,783.6 1564.0,784.3 1565.0,783.2 1566.0,782.1 1567.0,781.3 1568.0,781.0 1569.0,782.0 1570.0,783.0 1571.0,782.1 1572.0,780.6 1573.0,781.1 1574.0,781.8 1575.0,780.4 1576.0,779.0 1577.0,780.3 1578.0,783.9 1579.0,786.1 1580.0,785.1 1581.0,783.2 1582.0,782.7 1583.0,782.9 1584.0,782.9 1585.0,781.9 1586.0,780.9 1587.0,782.2 1588.0,783.8 1589.0,783.6 1590.0,782.2 1591.0,782.2 1592.0,784.5 1593.0,786.9 1594.0,788.8 1595.0,788.6 1596.0,785.2 1597.0,781.2 1598.0,779.1 1599.0,780.1 1600.0,782.6 1601.0,784.0 1602.0,784.1 1603.0,783.4 1604.0,783.0 1605.0,784.2 1606.0,787.3 1607.0,790.2 1608.0,791.7 1609.0,790.6 1610.0,787.9 1611.0,786.8 1612.0,786.9 1613.0,785.7 1614.0,784.7 1615.0,784.5 1616.0,784.3 1617.0,786.0 1618.0,787.5 1619.0,786.8 1620.0,785.9 1621.0,786.4 1622.0,787.9 1623.0,789.5 1624.0,790.8 1625.0,791.7 1626.0,790.6 1627.0,788.7 1628.0,788.2 1629.0,789.1 1630.0,790.4 1631.0,792.0 1632.0,792.6 1633.0,790.5 1634.0,787.7 1635.0,787.3 1636.0,788.7 1637.0,789.2 1638.0,788.8 1639.0,789.6 1640.0,791.1 1641.0,791.1 1642.0,790.4 1643.0,790.2 1644.0,790.0 1645.0,789.2 1646.0,790.1 1647.0,793.0 1648.0,793.3 1649.0,790.9 1650.0,789.1 1651.0,789.1 1652.0,789.2 1653.0,788.0 1654.0,787.2 1655.0,789.3 1656.0,792.9 1657.0,795.4 1658.0,797.4 1659.0,797.9 1660.0,795.7 1661.0,794.0 1662.0,795.1 1663.0,796.6 1664.0,795.2 1665.0,794.4 1666.0,796.3 1667.0,796.8 1668.0,795.0 1669.0,793.4 1670.0,792.9 1671.0,792.6 1672.0,792.9 1673.0,791.7 1674.0,789.2 1675.0,789.4 1676.0,790.9 1677.0,790.7 1678.0,789.6 1679.0,790.4 1680.0,793.3 1681.0,795.7 1682.0,796.3 1683.0,794.9 1684.0,792.7 1685.0,792.2 1686.0,793.4 1687.0,794.7 1688.0,795.4 1689.0,796.0 1690.0,796.6 1691.0,796.4 1692.0,795.8 1693.0,796.4 1694.0,796.8 1695.0,795.8 1696.0,795.0 1697.0,794.5 1698.0,793.2 1699.0,790.7 1700.0,790.1 1701.0,792.9 1702.0,796.1 1703.0,798.6 1704.0,800.2 1705.0,800.2 1706.0,799.3 1707.0,797.0 1708.0,794.8 1709.0,794.2 1710.0,795.6 1711.0,797.8 1712.0,798.1 1713.0,796.8 1714.0,795.4 1715.0,794.9 1716.0,794.9 1717.0,795.1 1718.0,795.9 1719.0,797.6 1720.0,799.0 1721.0,799.5 1722.0,800.1 1723.0,800.1 1724.0,798.4 1725.0,796.2 1726.0,796.4 1727.0,798.5 1728.0,798.3 1729.0,795.8 1730.0,795.0 1731.0,797.1 1732.0,799.4 1733.0,801.3 1734.0,801.6 1735.0,799.2 1736.0,796.5 1737.0,795.5 1738.0,795.7 1739.0,795.6 1740.0,796.0 1741.0,797.5 1742.0,798.6 1743.0,797.7 1744.0,796.2 1745.0,796.0 1746.0,796.1 1747.0,796.4 1748.0,796.3 1749.0,795.4 1750.0,794.9 1751.0,794.7 1752.0,794.7 1753.0,795.8 1754.0,796.7 1755.0,797.3 1756.0,798.8 1757.0,800.1 1758.0,799.5 1759.0,798.0 1760.0,798.4 1761.0,800.2 1762.0,801.0 1763.0,799.7 1764.0,797.4 1765.0,796.2 1766.0,795.8 1767.0,794.9 1768.0,794.7 1769.0,796.9 1770.0,800.3 1771.0,800.6 1772.0,796.7 1773.0,792.8 1774.0,792.8 1775.0,794.9 1776.0,796.3 1777.0,796.4 1778.0,795.2 1779.0,794.2 1780.0,794.9 1781.0,796.3 1782.0,797.2 1783.0,797.7 1784.0,797.8 1785.0,797.7 1786.0,798.1 1787.0,798.2 1788.0,797.8 1789.0,797.9 1790.0,799.4 1791.0,801.3 1792.0,801.4 1793.0,800.0 1794.0,798.3 1795.0,796.2 1796.0,793.8 1797.0,793.1 1798.0,795.5 1799.0,798.4 1800.0,798.3 1801.0,795.8 1802.0,795.1 1803.0,796.8 1804.0,798.5 1805.0,799.7 1806.0,799.9 1807.0,798.7 1808.0,798.5 1809.0,798.7 1810.0,798.1 1811.0,797.6 1812.0,796.6 1813.0,796.1 1814.0,798.1 1815.0,800.5 1816.0,800.7 1817.0,799.2 1818.0,797.6 1819.0,798.7 1820.0,801.4 1821.0,802.0 1822.0,800.8 1823.0,799.8 1824.0,799.3 1825.0,799.1 1826.0,798.7 1827.0,798.0 1828.0,798.0 1829.0,799.1 1830.0,801.1 1831.0,802.8 1832.0,801.0 1833.0,797.6 1834.0,796.2 1835.0,797.0 1836.0,799.1 1837.0,799.8 1838.0,799.4 1839.0,800.0 1840.0,800.7 1841.0,800.2 1842.0,799.7 1843.0,799.6 1844.0,799.9 1845.0,800.3 1846.0,800.7 1847.0,801.7 1848.0,802.1 1849.0,801.4 1850.0,800.2 1851.0,799.1 1852.0,799.1 1853.0,800.0 1854.0,800.0 1855.0,798.9 1856.0,799.5 1857.0,802.6 1858.0,804.5 1859.0,804.6 1860.0,804.8 1861.0,804.9 1862.0,804.5 1863.0,803.6 1864.0,803.4 1865.0,803.5 1866.0,801.9 1867.0,800.6 1868.0,801.4 1869.0,802.8 1870.0,802.9 1871.0,801.9 1872.0,801.0 1873.0,799.8 1874.0,799.3 1875.0,800.1 1876.0,801.5 1877.0,802.4 1878.0,803.4 1879.0,804.5 1880.0,805.4 1881.0,806.3 1882.0,806.0 1883.0,804.2 1884.0,802.1 1885.0,801.5 1886.0,802.5 1887.0,803.6 1888.0,803.7 1889.0,804.2 1890.0,805.8 1891.0,806.1 1892.0,804.4 1893.0,802.1 1894.0,800.6 1895.0,800.1 1896.0,800.2 1897.0,801.2 1898.0,802.0 1899.0,801.7 1900.0,801.8 1901.0,802.3 1902.0,801.7 1903.0,802.6 1904.0,805.7 1905.0,807.7 1906.0,808.4 1907.0,809.4 1908.0,809.5 1909.0,807.4 1910.0,803.8 1911.0,801.3 1912.0,801.9 1913.0,804.0 1914.0,804.4 1915.0,804.3 1916.0,805.3 1917.0,805.5 1918.0,804.3 1919.0,802.5 1920.0,801.7 1921.0,801.7 1922.0,801.3 1923.0,800.8 1924.0,802.2 1925.0,805.2 1926.0,807.2 1927.0,807.5 1928.0,807.5 1929.0,808.0 1930.0,807.3 1931.0,806.2 1932.0,806.3 1933.0,806.9 1934.0,808.2 1935.0,810.1 1936.0,810.3 1937.0,809.4 1938.0,809.1 1939.0,808.3 1940.0,807.5 1941.0,807.9 1942.0,807.5 1943.0,806.0 1944.0,805.9 1945.0,806.0 1946.0,804.7 1947.0,803.4 1948.0,803.3 1949.0,804.8 1950.0,808.4 1951.0,811.3 1952.0,811.0 1953.0,809.9 1954.0,810.4 1955.0,812.0 1956.0,813.5 1957.0,814.5 1958.0,814.4 1959.0,812.6 1960.0,809.3 1961.0,807.4 1962.0,808.2 1963.0,808.7 1964.0,807.5 1965.0,806.1 1966.0,806.1 1967.0,807.7 1968.0,809.8 1969.0,810.9 1970.0,811.0 1971.0,811.2 1972.0,812.4 1973.0,812.9 1974.0,812.2 1975.0,812.2 1976.0,812.3 1977.0,810.6 1978.0,810.1 1979.0,811.1 1980.0,810.2 1981.0,808.4 1982.0,808.4 1983.0,809.1 1984.0,809.0 1985.0,808.5 1986.0,808.4 1987.0,808.9 1988.0,809.8 1989.0,811.4 1990.0,812.4 1991.0,812.1 1992.0,812.5 1993.0,813.6 1994.0,814.4 1995.0,816.4 1996.0,818.5 1997.0,817.7 1998.0,815.1 1999.0,813.3 2000.0,812.5 2001.0,813.1 2002.0,814.4 2003.0,814.3 2004.0,813.5 2005.0,812.6 2006.0,811.7 2007.0,810.9 2008.0,811.4 2009.0,814.3 2010.0,816.2 2011.0,815.2 2012.0,813.2 2013.0,811.8 2014.0,811.4 2015.0,812.9 2016.0,815.0 2017.0,816.0 2018.0,817.4 2019.0,818.3 2020.0,817.8 2021.0,815.8 2022.0,812.5 2023.0,811.7 2024.0,814.6 2025.0,816.5 2026.0,816.3 2027.0,817.1 2028.0,818.9 2029.0,820.0 2030.0,818.7 2031.0,816.5 2032.0,814.9 2033.0,813.5 2034.0,813.0 2035.0,811.9 2036.0,810.5 2037.0,809.9 2038.0,808.9 2039.0,808.5 2040.0,810.5 2041.0,813.6 2042.0,816.3 2043.0,817.6 2044.0,817.6 2045.0,817.7 2046.0,817.3 2047.0,816.5 2048.0,817.3 2049.0,818.0 2050.0,816.6 2051.0,814.8 2052.0,814.4 2053.0,813.6 2054.0,812.3 2055.0,812.5 2056.0,813.9 2057.0,815.1 2058.0,816.4 2059.0,816.7 2060.0,815.5 2061.0,814.7 2062.0,814.2 2063.0,813.1 2064.0,814.8 2065.0,818.5 2066.0,821.0 2067.0,819.9 2068.0,816.4 2069.0,814.6 2070.0,814.6 2071.0,814.4 2072.0,813.4 2073.0,813.5 2074.0,814.3 2075.0,815.0 2076.0,816.2 2077.0,818.0 2078.0,819.7 2079.0,819.5 2080.0,817.7 2081.0,815.6 2082.0,815.2 2083.0,816.3 2084.0,815.2 2085.0,812.3 2086.0,810.7 2087.0,810.6 2088.0,811.3 2089.0,813.2 2090.0,815.9 2091.0,817.4 2092.0,818.6 2093.0,819.3 2094.0,817.0 2095.0,813.7 2096.0,812.9 2097.0,814.8 2098.0,815.7 2099.0,815.0 2100.0,816.0 2101.0,815.8 2102.0,812.2 2103.0,810.9 2104.0,813.0 2105.0,814.1 2106.0,814.5 2107.0,815.9 2108.0,816.5 2109.0,816.3 2110.0,817.4 2111.0,819.1 2112.0,820.2 2113.0,821.6 2114.0,821.3 2115.0,818.1 2116.0,814.5 2117.0,812.7 2118.0,813.6 2119.0,815.5 2120.0,816.8 2121.0,818.3 2122.0,819.0 2123.0,817.7 2124.0,817.3 2125.0,817.7 2126.0,815.3 2127.0,812.0 2128.0,812.4 2129.0,815.8 2130.0,819.1 2131.0,821.6 2132.0,823.6 2133.0,823.5 2134.0,822.0 2135.0,821.7 2136.0,821.8 2137.0,821.0 2138.0,820.4 2139.0,820.0 2140.0,818.8 2141.0,817.0 2142.0,815.3 2143.0,814.7 2144.0,815.4 2145.0,816.6 2146.0,816.6 2147.0,815.1 2148.0,814.4 2149.0,813.9 2150.0,813.0 2151.0,813.5 2152.0,816.2 2153.0,818.7 2154.0,819.2 2155.0,819.4 2156.0,820.5 2157.0,820.6 2158.0,819.3 2159.0,817.8 2160.0,816.4 2161.0,815.3 2162.0,815.5 2163.0,816.6 2164.0,818.1 2165.0,818.5 2166.0,816.9 2167.0,813.8 2168.0,812.3 2169.0,811.9 2170.0,810.3 2171.0,809.6 2172.0,812.9 2173.0,816.4 2174.0,816.1 2175.0,815.7 2176.0,816.9 2177.0,816.0 2178.0,813.4 2179.0,811.8 2180.0,812.7 2181.0,815.1 2182.0,816.2 2183.0,815.4 2184.0,814.0 2185.0,812.0 2186.0,811.1 2187.0,812.3 2188.0,813.8 2189.0,814.0 2190.0,811.9 2191.0,810.2 2192.0,812.6 2193.0,815.9 2194.0,815.3 2195.0,812.2 2196.0,810.0 2197.0,808.9 2198.0,807.9 2199.0,807.8 2200.0,807.4 2201.0,806.7 2202.0,808.0 2203.0,811.0 2204.0,813.1 2205.0,813.1 2206.0,812.0 2207.0,810.0 2208.0,808.3 2209.0,807.9 2210.0,807.5 2211.0,806.9 2212.0,806.0 2213.0,805.4 2214.0,806.2 2215.0,807.9 2216.0,808.4 2217.0,808.6 2218.0,809.8 2219.0,810.4 2220.0,810.2 2221.0,810.2 2222.0,809.9 2223.0,808.7 2224.0,807.6 2225.0,808.1 2226.0,809.4 2227.0,810.2 2228.0,810.2 2229.0,809.2 2230.0,808.4 2231.0,809.5 2232.0,810.7 2233.0,810.3 2234.0,809.7 2235.0,810.1 2236.0,810.0 2237.0,808.3 2238.0,807.4 2239.0,807.7 2240.0,807.0 2241.0,807.6 2242.0,809.5 2243.0,809.1 2244.0,807.8 2245.0,807.4 2246.0,807.5 2247.0,807.8 2248.0,808.0 2249.0,808.9 2250.0,811.2 2251.0,812.6 2252.0,811.9 2253.0,810.8 2254.0,810.6 2255.0,811.1 2256.0,811.5 2257.0,811.6 2258.0,812.5 2259.0,815.2 2260.0,817.8 2261.0,818.6 2262.0,816.9 2263.0,814.3 2264.0,814.6 2265.0,817.0 2266.0,818.6 2267.0,819.7 2268.0,820.4 2269.0,820.1 2270.0,819.8 2271.0,820.0 2272.0,819.9 2273.0,818.1 2274.0,817.0 2275.0,818.1 2276.0,819.1 2277.0,820.4 2278.0,822.6 2279.0,823.4 2280.0,821.9 2281.0,820.2 2282.0,820.5 2283.0,820.9 2284.0,820.3 2285.0,820.0 2286.0,821.1 2287.0,821.6 2288.0,820.7 2289.0,821.5 2290.0,822.6 2291.0,821.3 2292.0,819.0 2293.0,817.5 2294.0,817.0 2295.0,818.4 2296.0,820.3 2297.0,821.0 2298.0,820.7 2299.0,820.1 2300.0,820.7 2301.0,821.3 2302.0,821.4 2303.0,821.7 2304.0,822.3 2305.0,822.7 2306.0,822.3 2307.0,820.9 2308.0,819.0 2309.0,817.4 2310.0,817.0 2311.0,818.0 2312.0,819.3 2313.0,820.1 2314.0,820.8 2315.0,821.2 2316.0,821.3 2317.0,821.2 2318.0,822.2 2319.0,823.0 2320.0,822.0 2321.0,821.4 2322.0,821.4 2323.0,820.7 2324.0,820.8 2325.0,821.7 2326.0,821.3 2327.0,819.1 2328.0,817.8 2329.0,819.4 2330.0,822.4 2331.0,823.8 2332.0,822.1 2333.0,818.2 2334.0,815.3 2335.0,815.2 2336.0,817.2 2337.0,818.5 2338.0,818.0 2339.0,816.4 2340.0,814.9 2341.0,814.3 2342.0,812.9 2343.0,811.6 2344.0,813.2 2345.0,817.1 2346.0,820.2 2347.0,820.6 2348.0,819.9 2349.0,820.1 2350.0,821.0 2351.0,820.6 2352.0,818.8 2353.0,818.7 2354.0,820.1 2355.0,817.5 2356.0,813.2 2357.0,812.7 2358.0,814.4 2359.0,816.6"/>
<rect x="545.3" y="962" width="3.6" height="239" fill="#5a5a5a"/>
<rect x="820.7" y="1202" width="3.6" height="100" fill="#3c3c3c"/>
<g font-size="71" text-anchor="middle" fill="#000">
<text transform="translate(424.3,1900) scale(1,1.035)">200</text>
<text transform="translate(682.4,1900) scale(1,1.035)">400</text>
<text transform="translate(940.5,1900) scale(1,1.035)">600</text>
<text transform="translate(1198.6,1900) scale(1,1.035)">800</text>
<text transform="translate(1458.2,1900) scale(1,1.035)">1000</text>
<text transform="translate(1716.3,1900) scale(1,1.035)">1200</text>
<text transform="translate(1974.4,1900) scale(1,1.035)">1400</text>
<text transform="translate(2232.5,1900) scale(1,1.035)">1600</text>
</g>
<text transform="translate(596.1,92.0) scale(1,1.035)" font-size="71" fill="#000">379</text>
<text transform="translate(444.0,196.0) scale(1,1.035)" font-size="71" fill="#000">254</text>
<text transform="translate(520.3,277.0) scale(1,1.035)" font-size="71" fill="#000">344</text>
<text transform="translate(292.6,448.0) scale(1,1.035)" font-size="71" fill="#000">144</text>
<text transform="translate(668.7,679.0) scale(1,1.035)" font-size="71" fill="#000">431</text>
<text transform="translate(507.7,934.0) scale(1,1.035)" font-size="71" fill="#000">286</text>
<text transform="translate(576.3,1014.5) scale(1,1.035)" font-size="71" fill="#000">343</text>
<text transform="translate(645.3,1262.0) scale(1,1.035)" font-size="71" fill="#000">396</text>
<text transform="translate(760.4,1170.0) scale(1,1.035)" font-size="71" fill="#000">514</text>
<text transform="translate(936.1,1283.0) scale(1,1.035)" font-size="71" fill="#000">639</text>
<text transform="translate(1040.4,1360.6) scale(1,1.035)" font-size="71" fill="#000">709</text>
<text transform="translate(1515.6,1410.4) scale(1,1.035)" font-size="71" fill="#000">1107</text>
<text transform="translate(1750.1,1310.7) scale(1,1.035)" font-size="71" fill="#000">1291</text>
<text transform="translate(1940.8,1454.4) scale(1,1.035)" font-size="71" fill="#000">1423</text>
<text transform="translate(2168.6,1504.3) scale(1,1.035)" font-size="71" fill="#000">1600</text>
<text x="911.5" y="2048" font-size="88.5" fill="#000" id="xlab">Wavenumber (cm<tspan font-size="54" dy="-40" dx="5">-1</tspan><tspan dy="40" dx="7">)</tspan></text>
<text transform="translate(87.5,1319) rotate(-90)" font-size="91" fill="#000" id="ylab">Raman intensity (a.u.)</text>
<rect x="1569.5" y="88" width="879" height="338.6" fill="#fff" stroke="#6c6c6c" stroke-width="3.6"/>
<rect x="1577" y="143.9" width="204.5" height="9" rx="2.5" fill="#ee2b2e"/>
<rect x="1577" y="252.9" width="204.5" height="9" rx="2.5" fill="#a07d75"/>
<rect x="1577" y="362.4" width="204.5" height="9" rx="2.5" fill="#289c9b"/>
<text x="1803.8" y="177.3" font-size="88" fill="#000">Almadén</text>
<text x="1801.6" y="285.8" font-size="88" fill="#000">Las Cuevas</text>
<text x="1800.4" y="394.3" font-size="88" fill="#000">El Entredicho</text>
<text x="2177.3" y="177.3" font-size="86" font-weight="bold" fill="#000">(a)</text>
<text x="2285.7" y="285.8" font-size="86" font-weight="bold" fill="#000">(b)</text>
<text x="2336.3" y="394.3" font-size="86" font-weight="bold" fill="#000">(c)</text>
<text x="2270.9" y="769.7" font-size="86" font-weight="bold" fill="#000">(c)</text>
<text x="2265.9" y="1392.8" font-size="86" font-weight="bold" fill="#000">(b)</text>
<text x="2266.0" y="1727.0" font-size="86" font-weight="bold" fill="#000">(a)</text>
<path d="M1566.2,453.8 C1570.6,450.3 1584.5,448.6 1594.4,447.1 C1604.4,445.5 1615.9,444.7 1626.0,444.4 C1636.2,444.1 1650.5,443.7 1655.3,445.3 C1660.2,446.8 1659.9,452.0 1655.3,453.8 C1650.8,455.6 1638.4,454.6 1628.3,456.1 C1618.1,457.6 1604.4,460.8 1594.4,462.9 C1584.5,464.9 1573.2,470.0 1568.5,468.5 C1563.8,467.0 1561.9,457.4 1566.2,453.8Z" fill="#b8b8b8" opacity="0.38" filter="url(#ab2)"/>
<path d="M1646.3,483.2 C1652.3,483.5 1667.0,489.9 1677.9,494.4 C1688.8,499.0 1701.2,504.6 1711.7,510.2 C1722.3,515.9 1737.7,524.9 1741.1,528.3 C1744.5,531.7 1738.8,532.8 1732.0,530.5 C1725.3,528.3 1711.4,519.6 1700.5,514.7 C1689.6,509.9 1676.4,505.0 1666.6,501.2 C1656.9,497.4 1645.2,495.2 1641.8,492.2 C1638.4,489.2 1640.3,482.8 1646.3,483.2Z" fill="#b8b8b8" opacity="0.22" filter="url(#ab2)"/>
<g fill="#808080" filter="url(#ab1)">
<path d="M1555.6,488.1 C1557.1,486.4 1569.2,487.6 1576.4,487.7 C1583.6,487.8 1591.4,488.1 1599.0,488.8 C1606.5,489.5 1613.6,490.2 1621.5,491.7 C1629.4,493.2 1636.9,494.9 1646.3,497.8 C1655.7,500.7 1667.0,504.8 1677.9,509.1 C1688.8,513.4 1700.5,518.1 1711.7,523.8 C1723.0,529.4 1734.3,535.4 1745.6,542.9 C1756.9,550.5 1768.1,559.3 1779.4,568.9 C1790.7,578.5 1803.9,591.1 1813.3,600.5 C1822.7,609.9 1828.3,616.1 1835.8,625.3 C1843.3,634.5 1850.9,644.8 1858.4,655.7 C1865.9,666.6 1873.4,678.5 1880.9,690.7 C1888.4,702.9 1897.4,717.8 1903.5,729.0 C1909.6,740.3 1913.6,748.0 1917.5,758.4 C1921.3,768.7 1925.2,785.6 1926.5,791.1 C1927.8,796.5 1927.3,796.5 1925.1,791.1 C1923.0,785.6 1918.0,768.6 1913.6,758.4 C1909.3,748.1 1905.2,740.3 1899.0,729.5 C1892.8,718.7 1884.3,705.1 1876.4,693.4 C1868.5,681.7 1860.3,670.7 1851.6,659.6 C1843.0,648.4 1833.6,636.4 1824.5,626.4 C1815.5,616.4 1806.9,608.0 1797.5,599.3 C1788.1,590.7 1778.7,582.2 1768.1,574.5 C1757.6,566.8 1745.6,559.5 1734.3,553.1 C1723.0,546.7 1711.7,541.4 1700.5,536.2 C1689.2,530.9 1677.9,525.6 1666.6,521.5 C1655.3,517.4 1642.2,513.8 1632.8,511.4 C1623.4,508.9 1617.8,508.2 1610.2,506.8 C1602.7,505.5 1594.8,504.5 1587.7,503.0 C1580.5,501.5 1572.7,500.3 1567.4,497.8 C1562.0,495.3 1554.1,489.8 1555.6,488.1Z"/>
<path d="M1555.6,488.1 C1556.8,485.5 1565.8,481.2 1571.9,478.2 C1578.0,475.2 1584.7,472.5 1592.2,470.1 C1599.7,467.7 1609.5,464.9 1617.0,463.8 C1624.5,462.6 1632.2,463.6 1637.3,463.3 C1642.4,463.0 1644.4,461.5 1647.5,462.0 C1650.5,462.4 1653.9,464.3 1655.3,465.8 C1656.8,467.3 1656.9,469.7 1656.0,471.2 C1655.2,472.7 1654.3,474.0 1650.4,475.0 C1646.5,476.1 1638.7,476.4 1632.8,477.7 C1626.9,479.1 1621.1,481.3 1614.7,483.2 C1608.4,485.0 1600.5,487.4 1594.4,489.0 C1588.4,490.6 1583.5,491.8 1578.7,492.6 C1573.8,493.5 1569.0,494.7 1565.1,494.0 C1561.3,493.2 1554.5,490.8 1555.6,488.1Z"/>
<path d="M1557.2,489.9 C1559.7,489.2 1568.3,489.4 1574.1,491.7 C1580.0,494.1 1586.2,498.9 1592.2,503.9 C1598.2,509.0 1604.8,516.2 1610.2,522.0 C1615.7,527.7 1620.6,533.7 1624.9,538.4 C1629.2,543.2 1633.0,547.6 1636.2,550.4 C1639.4,553.1 1642.3,553.3 1644.1,554.9 C1645.8,556.5 1647.1,558.3 1646.8,559.9 C1646.5,561.4 1644.6,564.2 1642.3,564.4 C1639.9,564.6 1637.2,563.6 1632.8,561.0 C1628.4,558.4 1621.5,553.3 1615.9,548.6 C1610.2,543.9 1604.4,538.1 1599.0,532.8 C1593.5,527.5 1588.2,521.6 1583.2,517.0 C1578.1,512.4 1572.4,508.7 1568.5,505.3 C1564.6,501.8 1561.4,498.8 1559.5,496.2 C1557.6,493.7 1554.8,490.7 1557.2,489.9Z"/>
</g>
</g></svg></body></html>
